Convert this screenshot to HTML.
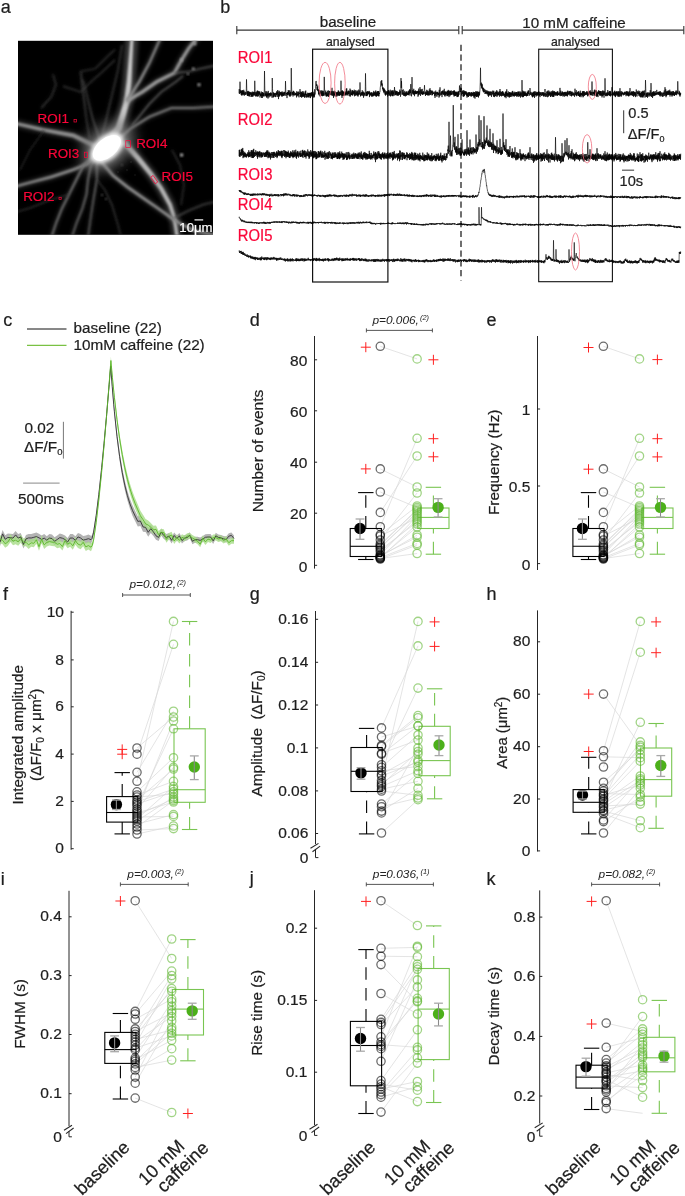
<!DOCTYPE html>
<html><head><meta charset="utf-8"><style>
html,body{margin:0;padding:0;background:#fff;overflow:hidden;}
svg{display:block;font-family:"Liberation Sans", sans-serif;will-change:transform;}
</style></head><body>
<svg width="685" height="1196" viewBox="0 0 685 1196">
<rect width="685" height="1196" fill="#fff"/>
<text x="0.80" y="13.20" font-size="18" text-anchor="start" fill="#1e1e1e" stroke="#1e1e1e" stroke-width="0.22" >a</text>
<text x="220.20" y="13.30" font-size="18" text-anchor="start" fill="#1e1e1e" stroke="#1e1e1e" stroke-width="0.22" >b</text>
<text x="3.20" y="326.00" font-size="18" text-anchor="start" fill="#1e1e1e" stroke="#1e1e1e" stroke-width="0.22" >c</text>
<text x="249.80" y="325.80" font-size="18" text-anchor="start" fill="#1e1e1e" stroke="#1e1e1e" stroke-width="0.22" >d</text>
<text x="486.50" y="325.80" font-size="18" text-anchor="start" fill="#1e1e1e" stroke="#1e1e1e" stroke-width="0.22" >e</text>
<text x="3.00" y="600.00" font-size="18" text-anchor="start" fill="#1e1e1e" stroke="#1e1e1e" stroke-width="0.22" >f</text>
<text x="249.80" y="600.00" font-size="18" text-anchor="start" fill="#1e1e1e" stroke="#1e1e1e" stroke-width="0.22" >g</text>
<text x="486.50" y="600.40" font-size="18" text-anchor="start" fill="#1e1e1e" stroke="#1e1e1e" stroke-width="0.22" >h</text>
<text x="0.80" y="884.50" font-size="18" text-anchor="start" fill="#1e1e1e" stroke="#1e1e1e" stroke-width="0.22" >i</text>
<text x="249.80" y="884.00" font-size="18" text-anchor="start" fill="#1e1e1e" stroke="#1e1e1e" stroke-width="0.22" >j</text>
<text x="486.50" y="884.50" font-size="18" text-anchor="start" fill="#1e1e1e" stroke="#1e1e1e" stroke-width="0.22" >k</text>
<defs><filter id="bl1" x="-20%" y="-20%" width="140%" height="140%"><feGaussianBlur stdDeviation="0.9"/></filter><filter id="bl2" x="-50%" y="-50%" width="200%" height="200%"><feGaussianBlur stdDeviation="2.2"/></filter><filter id="bl4" x="-50%" y="-50%" width="200%" height="200%"><feGaussianBlur stdDeviation="6"/></filter><clipPath id="clipA"><rect x="18" y="40.8" width="195" height="194"/></clipPath></defs>
<rect x="18" y="40.8" width="195" height="194" fill="#000"/>
<g clip-path="url(#clipA)">
<path d="M112.0,136.0 L118.8,128.0 L123.2,113.9 L126.9,100.8 L129.1,81.8 L130.5,59.9 L132.0,38.0" fill="none" stroke="rgb(200,200,200)" stroke-width="12.60" stroke-linecap="round" stroke-linejoin="round" filter="url(#bl2)" opacity="0.3"/>
<path d="M114.7,138.3 L121.7,129.5 L126.1,114.8 L129.6,101.3 L131.5,82.0 L132.4,60.0 L133.5,38.1 L130.5,37.9 L128.6,59.8 L126.7,81.6 L124.2,100.3 L120.3,113.0 L115.9,126.5 L109.3,133.7Z" fill="rgb(200,200,200)" filter="url(#bl1)"/>
<path d="M126.9,100.8 L139.3,81.8 L149.5,62.8 L160.5,38.0" fill="none" stroke="rgb(135,135,135)" stroke-width="5.04" stroke-linecap="round" stroke-linejoin="round" filter="url(#bl2)" opacity="0.3"/>
<path d="M128.1,101.6 L140.4,82.5 L150.5,63.3 L161.4,38.4 L159.6,37.6 L148.5,62.3 L138.2,81.1 L125.7,100.0Z" fill="rgb(135,135,135)" filter="url(#bl1)"/>
<path d="M126.9,100.8 L142.2,92.0 L156.8,81.8 L174.3,73.0 L181.6,59.9 L188.9,48.2 L197.0,38.0" fill="none" stroke="rgb(150,150,150)" stroke-width="6.48" stroke-linecap="round" stroke-linejoin="round" filter="url(#bl2)" opacity="0.3"/>
<path d="M127.8,102.4 L143.1,93.5 L157.7,83.3 L175.4,74.2 L183.0,60.7 L190.2,49.1 L198.2,38.9 L195.8,37.1 L187.6,47.3 L180.2,59.1 L173.2,71.8 L155.9,80.3 L141.3,90.5 L126.0,99.2Z" fill="rgb(150,150,150)" filter="url(#bl1)"/>
<path d="M174.3,73.0 L188.9,71.6 L200.6,68.7 L215.0,65.7" fill="none" stroke="rgb(90,90,90)" stroke-width="2.70" stroke-linecap="round" stroke-linejoin="round" filter="url(#bl2)" opacity="0.3"/>
<path d="M174.4,73.7 L189.0,72.3 L200.7,69.3 L215.1,66.3 L214.9,65.1 L200.5,68.1 L188.8,70.9 L174.2,72.3Z" fill="rgb(90,90,90)" filter="url(#bl1)"/>
<path d="M118.0,140.0 L130.5,128.5 L149.5,116.8 L171.4,108.0 L193.3,108.0 L215.0,106.6" fill="none" stroke="rgb(120,120,120)" stroke-width="4.68" stroke-linecap="round" stroke-linejoin="round" filter="url(#bl2)" opacity="0.3"/>
<path d="M118.9,141.0 L131.2,129.5 L150.0,117.8 L171.6,109.0 L193.3,109.0 L215.1,107.5 L214.9,105.7 L193.3,107.0 L171.2,107.0 L149.0,115.8 L129.8,127.5 L117.1,139.0Z" fill="rgb(120,120,120)" filter="url(#bl1)"/>
<path d="M132.0,125.6 L149.5,103.7 L161.2,92.0 L175.8,81.8 L183.0,76.0" fill="none" stroke="rgb(95,95,95)" stroke-width="2.70" stroke-linecap="round" stroke-linejoin="round" filter="url(#bl2)" opacity="0.3"/>
<path d="M132.6,126.1 L150.0,104.2 L161.6,92.5 L176.2,82.3 L183.4,76.5 L182.6,75.5 L175.4,81.3 L160.8,91.5 L149.0,103.2 L131.4,125.1Z" fill="rgb(95,95,95)" filter="url(#bl1)"/>
<path d="M118.0,146.0 L124.7,143.3 L137.8,157.9 L151.0,174.0 L161.2,188.6 L170.0,204.6 L174.3,217.8 L177.2,237.0" fill="none" stroke="rgb(178,178,178)" stroke-width="9.90" stroke-linecap="round" stroke-linejoin="round" filter="url(#bl2)" opacity="0.3"/>
<path d="M119.0,148.6 L123.3,145.6 L135.9,159.5 L149.2,175.4 L159.4,189.7 L168.2,205.4 L172.6,218.2 L175.6,237.2 L178.8,236.8 L176.0,217.4 L171.8,203.8 L163.0,187.5 L152.8,172.6 L139.7,156.3 L126.1,141.0 L117.0,143.4Z" fill="rgb(178,178,178)" filter="url(#bl1)"/>
<path d="M100.0,160.0 L113.0,175.4 L127.6,187.1 L142.2,197.3 L156.8,207.5 L171.4,217.8 L180.2,223.6 L194.8,230.9 L215.0,235.3" fill="none" stroke="rgb(140,140,140)" stroke-width="5.40" stroke-linecap="round" stroke-linejoin="round" filter="url(#bl2)" opacity="0.3"/>
<path d="M98.9,161.0 L112.0,176.4 L126.7,188.2 L141.4,198.4 L156.0,208.6 L170.6,218.9 L179.6,224.7 L194.4,232.1 L214.7,236.5 L215.3,234.1 L195.2,229.7 L180.8,222.5 L172.2,216.7 L157.6,206.4 L143.0,196.2 L128.5,186.0 L114.0,174.4 L101.1,159.0Z" fill="rgb(140,140,140)" filter="url(#bl1)"/>
<path d="M174.3,217.8 L188.9,210.5 L203.5,204.6 L215.0,201.7" fill="none" stroke="rgb(80,80,80)" stroke-width="2.34" stroke-linecap="round" stroke-linejoin="round" filter="url(#bl2)" opacity="0.3"/>
<path d="M174.6,218.4 L189.2,211.1 L203.7,205.1 L215.1,202.2 L214.9,201.2 L203.3,204.1 L188.6,209.9 L174.0,217.2Z" fill="rgb(80,80,80)" filter="url(#bl1)"/>
<path d="M95.0,156.0 L88.0,163.7 L73.4,169.6 L51.5,176.9 L29.6,182.7 L16.0,186.4" fill="none" stroke="rgb(135,135,135)" stroke-width="5.76" stroke-linecap="round" stroke-linejoin="round" filter="url(#bl2)" opacity="0.3"/>
<path d="M93.8,154.9 L87.2,162.4 L72.9,168.2 L51.1,175.6 L29.3,181.6 L15.7,185.3 L16.3,187.5 L29.9,183.8 L51.9,178.2 L73.9,171.0 L88.8,165.0 L96.2,157.1Z" fill="rgb(135,135,135)" filter="url(#bl1)"/>
<path d="M92.0,158.0 L83.6,165.2 L76.3,179.8 L69.0,194.4 L61.7,209.0 L55.9,223.6 L51.5,237.0" fill="none" stroke="rgb(115,115,115)" stroke-width="4.14" stroke-linecap="round" stroke-linejoin="round" filter="url(#bl2)" opacity="0.3"/>
<path d="M91.3,157.1 L82.7,164.6 L75.4,179.3 L68.1,194.0 L60.9,208.6 L55.1,223.3 L50.7,236.8 L52.3,237.2 L56.7,223.9 L62.5,209.4 L69.9,194.8 L77.2,180.3 L84.5,165.8 L92.7,158.9Z" fill="rgb(115,115,115)" filter="url(#bl1)"/>
<path d="M95.0,160.0 L90.9,165.2 L88.0,179.8 L86.5,194.4 L82.2,209.0 L76.3,223.6 L71.9,237.0" fill="none" stroke="rgb(105,105,105)" stroke-width="3.60" stroke-linecap="round" stroke-linejoin="round" filter="url(#bl2)" opacity="0.3"/>
<path d="M94.2,159.4 L90.0,164.9 L87.1,179.7 L85.6,194.2 L81.4,208.7 L75.6,223.3 L71.2,236.8 L72.6,237.2 L77.0,223.9 L83.0,209.3 L87.4,194.6 L88.9,179.9 L91.8,165.5 L95.8,160.6Z" fill="rgb(105,105,105)" filter="url(#bl1)"/>
<path d="M99.0,160.0 L96.8,165.2 L96.8,179.8 L93.8,197.3 L90.9,216.3 L88.0,237.0" fill="none" stroke="rgb(100,100,100)" stroke-width="3.24" stroke-linecap="round" stroke-linejoin="round" filter="url(#bl2)" opacity="0.3"/>
<path d="M98.2,159.6 L95.9,165.1 L96.0,179.7 L93.0,197.2 L90.2,216.2 L87.3,236.9 L88.7,237.1 L91.6,216.4 L94.6,197.4 L97.6,179.9 L97.7,165.3 L99.8,160.4Z" fill="rgb(100,100,100)" filter="url(#bl1)"/>
<path d="M95.0,146.0 L73.4,135.5 L44.2,130.0 L16.0,123.5" fill="none" stroke="rgb(140,140,140)" stroke-width="7.56" stroke-linecap="round" stroke-linejoin="round" filter="url(#bl2)" opacity="0.3"/>
<path d="M95.9,144.1 L74.0,133.6 L44.6,128.3 L16.4,121.9 L15.6,125.1 L43.8,131.7 L72.8,137.4 L94.1,147.9Z" fill="rgb(140,140,140)" filter="url(#bl1)"/>
<path d="M80.7,71.6 L83.6,96.4 L86.5,119.8 L89.5,138.0" fill="none" stroke="rgb(70,70,70)" stroke-width="2.16" stroke-linecap="round" stroke-linejoin="round" filter="url(#bl2)" opacity="0.3"/>
<path d="M80.1,71.7 L83.0,96.5 L86.0,119.9 L89.0,138.1 L90.0,137.9 L87.0,119.7 L84.2,96.3 L81.3,71.5Z" fill="rgb(70,70,70)" filter="url(#bl1)"/>
<path d="M63.2,86.2 L80.7,92.0 L90.9,81.8 L102.6,71.6 L115.0,59.9" fill="none" stroke="rgb(65,65,65)" stroke-width="1.80" stroke-linecap="round" stroke-linejoin="round" filter="url(#bl2)" opacity="0.3"/>
<path d="M63.0,86.7 L80.8,92.5 L91.2,82.2 L102.9,72.0 L115.3,60.3 L114.7,59.5 L102.3,71.2 L90.6,81.4 L80.6,91.5 L63.4,85.7Z" fill="rgb(65,65,65)" filter="url(#bl1)"/>
<path d="M80.7,71.6 L95.3,68.7 L108.4,55.5 L115.0,49.7" fill="none" stroke="rgb(60,60,60)" stroke-width="1.80" stroke-linecap="round" stroke-linejoin="round" filter="url(#bl2)" opacity="0.3"/>
<path d="M80.8,72.1 L95.6,69.1 L108.7,55.9 L115.3,50.1 L114.7,49.3 L108.1,55.1 L95.0,68.3 L80.6,71.1Z" fill="rgb(60,60,60)" filter="url(#bl1)"/>
<path d="M41.3,108.0 L51.5,96.4 L55.9,84.7 L53.0,74.5" fill="none" stroke="rgb(50,50,50)" stroke-width="2.88" stroke-linecap="round" stroke-linejoin="round" filter="url(#bl2)" opacity="0.3"/>
<path d="M41.9,108.5 L52.1,96.8 L56.6,84.7 L53.6,74.3 L52.4,74.7 L55.2,84.7 L50.9,96.0 L40.7,107.5Z" fill="rgb(50,50,50)" filter="url(#bl1)"/>
<path d="M100.0,140.0 L93.0,120.0 L88.0,100.0 L83.0,80.0" fill="none" stroke="rgb(75,75,75)" stroke-width="2.34" stroke-linecap="round" stroke-linejoin="round" filter="url(#bl2)" opacity="0.3"/>
<path d="M100.6,139.8 L93.6,119.8 L88.5,99.9 L83.5,79.9 L82.5,80.1 L87.5,100.1 L92.4,120.2 L99.4,140.2Z" fill="rgb(75,75,75)" filter="url(#bl1)"/>
<path d="M101.0,141.0 L106.0,120.0 L112.0,95.0 L118.0,70.0 L122.0,45.0" fill="none" stroke="rgb(70,70,70)" stroke-width="2.16" stroke-linecap="round" stroke-linejoin="round" filter="url(#bl2)" opacity="0.3"/>
<path d="M101.6,141.1 L106.6,120.1 L112.5,95.1 L118.5,70.1 L122.5,45.1 L121.5,44.9 L117.5,69.9 L111.5,94.9 L105.4,119.9 L100.4,140.9Z" fill="rgb(70,70,70)" filter="url(#bl1)"/>
<path d="M96.8,179.8 L105.0,190.0 L112.0,205.0 L118.0,225.0 L121.0,237.0" fill="none" stroke="rgb(60,60,60)" stroke-width="1.80" stroke-linecap="round" stroke-linejoin="round" filter="url(#bl2)" opacity="0.3"/>
<path d="M96.4,180.1 L104.6,190.3 L111.5,205.2 L117.5,225.1 L120.5,237.1 L121.5,236.9 L118.5,224.9 L112.5,204.8 L105.4,189.7 L97.2,179.5Z" fill="rgb(60,60,60)" filter="url(#bl1)"/>
<path d="M172.0,150.0 L180.0,165.0 L184.0,185.0 L181.0,205.0" fill="none" stroke="rgb(55,55,55)" stroke-width="1.80" stroke-linecap="round" stroke-linejoin="round" filter="url(#bl2)" opacity="0.3"/>
<path d="M171.6,150.2 L179.5,165.2 L183.5,185.0 L180.5,204.9 L181.5,205.1 L184.5,185.0 L180.5,164.8 L172.4,149.8Z" fill="rgb(55,55,55)" filter="url(#bl1)"/>
<path d="M44.2,130.0 L30.0,150.0 L20.0,170.0" fill="none" stroke="rgb(45,45,45)" stroke-width="1.62" stroke-linecap="round" stroke-linejoin="round" filter="url(#bl2)" opacity="0.3"/>
<path d="M43.8,129.7 L29.6,149.8 L19.6,169.8 L20.4,170.2 L30.4,150.2 L44.6,130.3Z" fill="rgb(45,45,45)" filter="url(#bl1)"/>
<path d="M69.0,194.4 L50.0,200.0 L30.0,208.0 L16.0,212.0" fill="none" stroke="rgb(55,55,55)" stroke-width="1.80" stroke-linecap="round" stroke-linejoin="round" filter="url(#bl2)" opacity="0.3"/>
<path d="M68.9,193.9 L49.8,199.5 L29.8,207.5 L15.9,211.5 L16.1,212.5 L30.2,208.5 L50.2,200.5 L69.1,194.9Z" fill="rgb(55,55,55)" filter="url(#bl1)"/>
<ellipse cx="108" cy="146" rx="34" ry="24" fill="#666" opacity="0.45" filter="url(#bl4)" transform="rotate(-40 108 146)"/>
<ellipse cx="108" cy="147" rx="24" ry="15" fill="#aaa" opacity="0.7" filter="url(#bl4)" transform="rotate(-40 108 147)"/>
<ellipse cx="106.8" cy="147.9" rx="19" ry="11.5" fill="#fff" filter="url(#bl2)" transform="rotate(-40 106.8 147.9)"/>
<ellipse cx="106.8" cy="147.9" rx="16.5" ry="9.5" fill="#fff" transform="rotate(-40 106.8 147.9)"/>
<circle cx="181.6" cy="155" r="1.8" fill="rgb(170,170,170)" filter="url(#bl1)"/>
<circle cx="181.6" cy="59.9" r="1.6" fill="rgb(150,150,150)" filter="url(#bl1)"/>
<circle cx="194.8" cy="43.8" r="1.8" fill="rgb(150,150,150)" filter="url(#bl1)"/>
<circle cx="193.3" cy="68.7" r="1.5" fill="rgb(140,140,140)" filter="url(#bl1)"/>
<circle cx="199" cy="84.7" r="1.8" fill="rgb(140,140,140)" filter="url(#bl1)"/>
<circle cx="188" cy="74" r="1.2" fill="rgb(120,120,120)" filter="url(#bl1)"/>
<circle cx="122" cy="165" r="0.8" fill="rgb(120,120,120)" filter="url(#bl1)"/>
<circle cx="127" cy="170" r="0.7" fill="rgb(110,110,110)" filter="url(#bl1)"/>
<circle cx="131" cy="162" r="0.7" fill="rgb(110,110,110)" filter="url(#bl1)"/>
<circle cx="118" cy="172" r="0.7" fill="rgb(100,100,100)" filter="url(#bl1)"/>
<circle cx="135" cy="175" r="0.7" fill="rgb(90,90,90)" filter="url(#bl1)"/>
<circle cx="102" cy="195" r="0.9" fill="rgb(110,110,110)" filter="url(#bl1)"/>
<circle cx="106" cy="199" r="0.9" fill="rgb(100,100,100)" filter="url(#bl1)"/>
<circle cx="118" cy="180" r="0.6" fill="rgb(100,100,100)" filter="url(#bl1)"/>
</g>
<text x="37.60" y="122.80" font-size="13.4" text-anchor="start" fill="#fa0538" stroke="#fa0538" stroke-width="0.22" >ROI1</text>
<text x="48.00" y="158.30" font-size="13.4" text-anchor="start" fill="#fa0538" stroke="#fa0538" stroke-width="0.22" >ROI3</text>
<text x="23.20" y="200.70" font-size="13.4" text-anchor="start" fill="#fa0538" stroke="#fa0538" stroke-width="0.22" >ROI2</text>
<text x="136.20" y="147.50" font-size="13.4" text-anchor="start" fill="#fa0538" stroke="#fa0538" stroke-width="0.22" >ROI4</text>
<text x="161.60" y="181.30" font-size="13.4" text-anchor="start" fill="#fa0538" stroke="#fa0538" stroke-width="0.22" >ROI5</text>
<rect x="74" y="119.6" width="2.4" height="2.4" fill="none" stroke="#fa0538" stroke-width="0.7"/>
<rect x="84.6" y="152.2" width="2.8" height="5.2" fill="none" stroke="#fa0538" stroke-width="0.7"/>
<rect x="59" y="197.3" width="2.2" height="2.2" fill="none" stroke="#fa0538" stroke-width="0.7"/>
<rect x="125.8" y="140.7" width="4.7" height="6.8" fill="none" stroke="#fa0538" stroke-width="0.7"/>
<rect x="-1.5" y="-4" width="3" height="8" fill="none" stroke="#fa0538" stroke-width="0.7" transform="translate(154.2 179.6) rotate(-35)"/>
<line x1="194.50" y1="219.90" x2="203.20" y2="219.90" stroke="#fff" stroke-width="1.2" />
<text x="179.30" y="232.20" font-size="13.2" text-anchor="start" fill="#fff" stroke="#fff" stroke-width="0.22" >10μm</text>
<line x1="236.80" y1="30.10" x2="458.80" y2="30.10" stroke="#333" stroke-width="1.1" />
<line x1="236.80" y1="25.90" x2="236.80" y2="34.30" stroke="#333" stroke-width="1.1" />
<line x1="458.80" y1="25.90" x2="458.80" y2="34.30" stroke="#333" stroke-width="1.1" />
<line x1="462.20" y1="30.10" x2="683.80" y2="30.10" stroke="#333" stroke-width="1.1" />
<line x1="462.20" y1="25.90" x2="462.20" y2="34.30" stroke="#333" stroke-width="1.1" />
<line x1="683.80" y1="25.90" x2="683.80" y2="34.30" stroke="#333" stroke-width="1.1" />
<text x="348.00" y="27.30" font-size="15.2" text-anchor="middle" fill="#1e1e1e" stroke="#1e1e1e" stroke-width="0.22" >baseline</text>
<text x="574.00" y="27.50" font-size="15.2" text-anchor="middle" fill="#1e1e1e" stroke="#1e1e1e" stroke-width="0.22" >10 mM caffeine</text>
<text x="350.40" y="45.60" font-size="12.2" text-anchor="middle" fill="#1e1e1e" stroke="#1e1e1e" stroke-width="0.22" >analysed</text>
<text x="575.50" y="45.60" font-size="12.2" text-anchor="middle" fill="#1e1e1e" stroke="#1e1e1e" stroke-width="0.22" >analysed</text>
<rect x="312.6" y="49.2" width="75.3" height="232.8" fill="none" stroke="#111" stroke-width="1.2"/>
<rect x="538.7" y="49.2" width="73.7" height="232.5" fill="none" stroke="#111" stroke-width="1.1"/>
<line x1="461.00" y1="44.70" x2="461.00" y2="280.60" stroke="#222" stroke-width="1.3" stroke-dasharray="6.2 3.6"/>
<text x="237.80" y="62.70" font-size="15.8" text-anchor="start" fill="#fa0538" stroke="#fa0538" stroke-width="0.22" textLength="34.6" lengthAdjust="spacingAndGlyphs">ROI1</text>
<text x="237.80" y="124.80" font-size="15.8" text-anchor="start" fill="#fa0538" stroke="#fa0538" stroke-width="0.22" textLength="34.6" lengthAdjust="spacingAndGlyphs">ROI2</text>
<text x="237.80" y="179.50" font-size="15.8" text-anchor="start" fill="#fa0538" stroke="#fa0538" stroke-width="0.22" textLength="34.6" lengthAdjust="spacingAndGlyphs">ROI3</text>
<text x="237.80" y="210.00" font-size="15.8" text-anchor="start" fill="#fa0538" stroke="#fa0538" stroke-width="0.22" textLength="34.6" lengthAdjust="spacingAndGlyphs">ROI4</text>
<text x="237.80" y="241.00" font-size="15.8" text-anchor="start" fill="#fa0538" stroke="#fa0538" stroke-width="0.22" textLength="34.6" lengthAdjust="spacingAndGlyphs">ROI5</text>
<path d="M239.00,93.40l.25 -4.3 .25 4.8 .25 -3.7 .25 -8.5 .25 6.5 .25 4.8 .25 -2.9 .25 4.4 .25 -3.5 .25 4.4 .25 -4.8 .25 4.6 .25 -4.7 .25 3.8 .25 -4.2 .25 5.3 .25 -4.4 .25 3.3 .25 -4.5 .25 4.9 .25 -1.9 .25 2.8 .25 -4.2 .25 1.8 .25 -.4 .25 2.2 .25 -2.9 .25 1.9 .25 -2.4 .25 -12.2 .25 9.1 .25 6.7 .25 -3.5 .25 4.3 .25 -4.8 .25 4.4 .25 -4.7 .25 4.8 .25 -3.5 .25 4.2 .25 -4.6 .25 4.5 .25 -4.5 .25 2.9 .25 -2.4 .25 2.2 .25 -2.1 .25 4.6 .25 -4.3 .25 3.7 .25 -3.9 .25 3.9 .25 -4.8 .25 4.9 .25 -3.9 .25 4 .25 -4.8 .25 3.2 .25 -2.8 .25 3.7 .25 -4 .25 3.2 .25 -14.3 .25 8.5 .25 2.9 .25 4 .25 -4.1 .25 4.4 .25 -3.9 .25 3.3 .25 -4.3 .25 4.7 .25 -5.6 .25 5.8 .25 -5.8 .25 3.3 .25 -2.7 .25 5 .25 -4.7 .25 3.6 .25 -3.9 .25 3 .25 -2.5 .25 5.7 .25 -4 .25 2.4 .25 -2.2 .25 2.5 .25 -4.7 .25 6.4 .25 -4.4 .25 2.5 .25 -3.7 .25 5.6 .25 -5.9 .25 3.9 .25 -3 .25 3.5 .25 -3.1 .25 2.9 .25 -3.9 .25 -21.3 .25 14.9 .25 10.5 .25 -2.9 .25 1.9 .25 -4.1 .25 4.6 .25 -2.2 .25 3.7 .25 -6.1 .25 6.1 .25 -5 .25 3.4 .25 -2.1 .25 4.8 .25 -7.6 .25 4.6 .25 -2 .25 3.9 .25 -4 .25 1.9 .25 -2.2 .25 3.5 .25 -3.8 .25 2.7 .25 -3 .25 3.5 .25 -3.1 .25 1.6 .25 -.4 .25 3.6 .25 -19.7 .25 10.4 .25 3.9 .25 5.2 .25 -5.3 .25 5 .25 -4.2 .25 3.7 .25 -3.8 .25 2.4 .25 -1.7 .25 3.1 .25 -3.5 .25 3.9 .25 -3.8 .25 .8 .25 -1.6 .25 2.6 .25 -3.9 .25 5.6 .25 -4.6 .25 2.2 .25 -4.4 .25 6.8 .25 -5.3 .25 7.6 .25 -5.3 .25 2 .25 -5 .25 5.7 .25 -4.1 .25 3.1 .25 -3.6 .25 2.6 .25 -2.1 .25 2.8 .25 -2.9 .25 3.6 .25 -4.3 .25 5.3 .25 -4 .25 2.8 .25 -4.1 .25 4.2 .25 -2.6 .25 2.4 .25 -3.3 .25 3.5 .25 -3.7 .25 2.4 .25 -2.7 .25 3.7 .25 -2.6 .25 -11.8 .25 8.4 .25 6.3 .25 -2.9 .25 1.1 .25 -.8 .25 4.9 .25 -5.9 .25 2.8 .25 -3 .25 2.6 .25 -4.6 .25 4.4 .25 -3.3 .25 4.4 .25 -2.5 .25 2.8 .25 -5.6 .25 6.7 .25 -5.2 .25 3.8 .25 -3.4 .25 3.7 .25 -27.7 .25 16.9 .25 7.1 .25 2.6 .25 -2.6 .25 2.5 .25 -2.7 .25 4.6 .25 -5.7 .25 4.4 .25 -4.2 .25 4 .25 -2.9 .25 3.2 .25 -.8 .25 .9 .25 -2.5 .25 2.1 .25 -2.1 .25 1.8 .25 -1.3 .25 4 .25 -6.1 .25 4.6 .25 -4.1 .25 3.4 .25 -1.2 .25 2.4 .25 -4.1 .25 2.9 .25 -3.7 .25 5.9 .25 -4.6 .25 1.2 .25 -2 .25 -2.9 .25 3.2 .25 4.7 .25 -5.4 .25 4.4 .25 -3.7 .25 5.3 .25 -5.8 .25 5.4 .25 -4.5 .25 3.8 .25 -5.4 .25 5.5 .25 -3.4 .25 3.3 .25 -4.9 .25 4.8 .25 -2.8 .25 4 .25 -3.9 .25 3.8 .25 -6.1 .25 3.6 .25 -4.4 .25 6.3 .25 -2.8 .25 3.5 .25 -3.9 .25 1.1 .25 -.3 .25 2.8 .25 -4.6 .25 3.9 .25 -3.3 .25 3.6 .25 -3.8 .25 4.7 .25 -4.9 .25 3.5 .25 -3.5 .25 2.4 .25 -2.3 .25 5.1 .25 -5.3 .25 3.8 .25 -4.2 .25 3.8 .25 -3.8 .25 2.8 .25 -2.3 .25 1.8 .25 -3.2 .25 4.8 .25 -2.3 .25 3.5 .25 -5.2 .25 3.7 .25 -2.4 .25 3.7 .25 -8 .25 5.2 .25 -5.3 .25 -.7 .25 -6.8 .25 -.7 .25 .1 .25 5 .25 -2 .25 6 .25 -3.2 .25 3.6 .25 -5 .25 5.6 .25 -1.9 .25 4.9 .25 -3.8 .25 4.9 .25 -5.2 .25 3.8 .25 -3.1 .25 5.7 .25 -5.9 .25 3 .25 -1.9 .25 2.4 .25 -2.4 .25 4 .25 -5.3 .25 5.6 .25 -5.1 .25 5.4 .25 -4.7 .25 4.3 .25 -5 .25 4.7 .25 -2.7 .25 2.9 .25 -18.8 .25 11.1 .25 3.8 .25 3.5 .25 -2.7 .25 1.6 .25 -3.6 .25 5.7 .25 -3.7 .25 3.9 .25 -4.3 .25 3.9 .25 -2.4 .25 2.2 .25 -5 .25 5.6 .25 -6.1 .25 6.4 .25 -3.4 .25 .8 .25 -2.9 .25 4.2 .25 -4.6 .25 4.2 .25 -3.9 .25 3.2 .25 -3.4 .25 3.7 .25 -3.4 .25 4.1 .25 -3.8 .25 -3.8 .25 3.9 .25 4.1 .25 -4.7 .25 3.9 .25 -3.7 .25 6.6 .25 -5.9 .25 4.4 .25 -5.7 .25 4.6 .25 -2.8 .25 2.9 .25 -3.9 .25 4.9 .25 -3.9 .25 1.6 .25 -2 .25 4.4 .25 -3.5 .25 3.4 .25 -4.5 .25 3.5 .25 -3.3 .25 3.2 .25 -4.9 .25 5.2 .25 -4.7 .25 4.5 .25 -3 .25 3.5 .25 -3.9 .25 2.9 .25 -3.2 .25 3.5 .25 -4.5 .25 -10 .25 8.5 .25 6.3 .25 -4.6 .25 7 .25 -7.7 .25 5.7 .25 -4.8 .25 4 .25 -3.7 .25 4.5 .25 -3.8 .25 2.3 .25 -2.5 .25 3.6 .25 -3.4 .25 2 .25 -2.7 .25 3.8 .25 -2.3 .25 2.7 .25 -6.9 .25 5.7 .25 -6.1 .25 6.6 .25 -3.6 .25 3.2 .25 -2.3 .25 3.5 .25 -5 .25 3.4 .25 -3.3 .25 3.1 .25 -2.7 .25 5.1 .25 -3.6 .25 -4.1 .25 3.2 .25 4.7 .25 -6.7 .25 5 .25 -2 .25 2.3 .25 -3.7 .25 3.7 .25 -5 .25 5.4 .25 -5 .25 4.7 .25 -4.1 .25 2.7 .25 -2.2 .25 2.1 .25 -4 .25 6.6 .25 -5.4 .25 4.3 .25 -2.5 .25 3 .25 -5.6 .25 3.5 .25 -2.3 .25 3.8 .25 -2.6 .25 3 .25 -5 .25 5 .25 -4.1 .25 5.2 .25 -3.6 .25 2.3 .25 -5.7 .25 4.6 .25 -3.6 .25 4 .25 -1.7 .25 -10.5 .25 7.2 .25 6.8 .25 -3.2 .25 2.8 .25 -3.7 .25 2.6 .25 -2.5 .25 2.8 .25 -4.9 .25 5.3 .25 -3.6 .25 2.2 .25 -2.7 .25 6.2 .25 -5.1 .25 3.6 .25 -3.6 .25 1.9 .25 -1.1 .25 2.1 .25 -3.8 .25 -18.3 .25 13 .25 9.7 .25 -4.2 .25 4 .25 -3.8 .25 4 .25 -5.1 .25 4.3 .25 -3.4 .25 2.8 .25 -3.4 .25 2.7 .25 -1.9 .25 1.8 .25 -3 .25 6.2 .25 -5.2 .25 4 .25 -2.7 .25 1.9 .25 -2.4 .25 2 .25 -2.2 .25 4 .25 -4.2 .25 4 .25 -2.1 .25 2.1 .25 -3.5 .25 3.6 .25 -3.8 .25 3.2 .25 -4.9 .25 4.3 .25 -3 .25 3.4 .25 -3 .25 2.5 .25 -3.5 .25 4.7 .25 -5.8 .25 5 .25 -2.5 .25 3.7 .25 -4.7 .25 4.1 .25 -5 .25 4.3 .25 -3.9 .25 4.1 .25 -4.5 .25 5.1 .25 -5.2 .25 5.3 .25 -3.4 .25 1.1 .25 -1.8 .25 -.2 .25 -4.4 .25 -1.6 .25 -4.3 .25 -.1 .25 -.8 .25 4.4 .25 -5 .25 6.2 .25 -2.9 .25 5.4 .25 -1.5 .25 3.1 .25 -2.9 .25 4.2 .25 -3 .25 4.4 .25 -4.7 .25 3.2 .25 -2 .25 4.9 .25 -4.1 .25 5.1 .25 -3.2 .25 2.4 .25 -3.7 .25 3.3 .25 -2.2 .25 .5 .25 -1.3 .25 5.1 .25 -5 .25 3.2 .25 -4.5 .25 3.8 .25 -3.9 .25 5.9 .25 -3.7 .25 2.9 .25 -4 .25 1.5 .25 -3 .25 6.7 .25 -3.8 .25 3.5 .25 -4.9 .25 3.2 .25 -4 .25 5 .25 -4.6 .25 5.3 .25 -5.8 .25 5.9 .25 -4.1 .25 2.2 .25 -3.8 .25 5.1 .25 -3.4 .25 -5.1 .25 3.9 .25 4.3 .25 -4.8 .25 4.2 .25 -3.1 .25 3.4 .25 -4.1 .25 3.5 .25 -3.2 .25 4.5 .25 -4.3 .25 3.9 .25 -2.8 .25 3 .25 -3.1 .25 3.1 .25 -3.5 .25 2.1 .25 -2.3 .25 3.1 .25 -5.2 .25 3.9 .25 -2.4 .25 5.5 .25 -3.4 .25 -15.2 .25 9.8 .25 -6.8 .25 7.8 .25 5.8 .25 -4.7 .25 4.5 .25 -1.6 .25 .4 .25 -3.9 .25 6.1 .25 -3.1 .25 3.2 .25 -2.4 .25 2.9 .25 -5.3 .25 4.1 .25 -2.6 .25 4.1 .25 -3.6 .25 2.8 .25 -3.9 .25 3.9 .25 -4.2 .25 3 .25 -1.7 .25 2.4 .25 -2.4 .25 2 .25 -3.8 .25 4.3 .25 -3.7 .25 3.1 .25 -4.6 .25 3.5 .25 -4.4 .25 6.5 .25 -5.5 .25 3.1 .25 -9.1 .25 5.9 .25 .6 .25 5.7 .25 -6.1 .25 -13.1 .25 10.4 .25 5.9 .25 -3.3 .25 4.3 .25 -3.9 .25 3.7 .25 -5.4 .25 6 .25 -3.7 .25 5.1 .25 -4.9 .25 2.8 .25 -3.7 .25 3.4 .25 -3 .25 3.4 .25 -3 .25 2.8 .25 -2.3 .25 1.5 .25 -2.2 .25 2.3 .25 -2 .25 5.4 .25 -6.1 .25 4.8 .25 -6.8 .25 4.9 .25 -2.7 .25 3.8 .25 -4.4 .25 -3.1 .25 3.9 .25 4.9 .25 -6.4 .25 3.9 .25 -4 .25 4.8 .25 -2.4 .25 2.4 .25 -5.3 .25 6 .25 -2.5 .25 1.9 .25 -3.3 .25 3.3 .25 -2.3 .25 2 .25 -4.3 .25 -4.5 .25 5.2 .25 3.9 .25 -1.9 .25 3.6 .25 -4.5 .25 3.1 .25 -2.2 .25 2.5 .25 -5.1 .25 4.8 .25 -4.1 .25 4.9 .25 -4.1 .25 3.6 .25 -2.4 .25 3 .25 -4.4 .25 3.3 .25 -4.9 .25 5.8 .25 -4.5 .25 -2.6 .25 3.2 .25 3.4 .25 -4.8 .25 4.6 .25 -3.8 .25 2.2 .25 -1.5 .25 3.9 .25 -4.8 .25 4.4 .25 -3.5 .25 1.4 .25 .1 .25 1 .25 -1.7 .25 1.7 .25 -2.5 .25 4.4 .25 -2.4 .25 4.4 .25 -5.7 .25 2.4 .25 -4 .25 5.7 .25 -4.2 .25 1.6 .25 -1 .25 4 .25 -4.6 .25 2.4 .25 -2.7 .25 3.3 .25 -2 .25 1.7 .25 -2.1 .25 4.9 .25 -7.8 .25 6.6 .25 -5 .25 -4.1 .25 3.9 .25 4.2 .25 -2.2 .25 .5 .25 -1.9 .25 3 .25 -3.5 .25 5.8 .25 -6.1 .25 2.4 .25 -2.8 .25 3.9 .25 -4.1 .25 4.2 .25 -2.1 .25 2 .25 -5.7 .25 6.8 .25 -4.2 .25 5.2 .25 -5 .25 3.6 .25 -3.4 .25 3.5 .25 -3.6 .25 2.2 .25 -1.6 .25 3.9 .25 -5.4 .25 5.1 .25 -4.9 .25 4 .25 -5.1 .25 5.6 .25 -4.8 .25 6.4 .25 -5.4 .25 2.8 .25 -3.8 .25 5.5 .25 -5 .25 3.8 .25 -4.1 .25 3.6 .25 -4 .25 4.2 .25 -2 .25 2.1 .25 -2 .25 .3 .25 -2.1 .25 3.4 .25 -3.4 .25 3.7 .25 -4 .25 5.8 .25 -6.3 .25 5.9 .25 -5.1 .25 3.8 .25 -2.7 .25 3.9 .25 -4.2 .25 4.2 .25 -3.8 .25 2.4 .25 -2.9 .25 5.4 .25 -4 .25 3.8 .25 -5.2 .25 4.6 .25 -4.4 .25 4.6 .25 -5.5 .25 3.8 .25 -3.8 .25 -5.5 .25 5.2 .25 1.1 .25 -1.3 .25 1.7 .25 -4.6 .25 6.4 .25 -5.8 .25 7.2 .25 -3.6 .25 -.7 .25 .1 .25 2.8 .25 -3.5 .25 5.9 .25 -4.6 .25 5 .25 -6.6 .25 5.4 .25 -4.7 .25 5.3 .25 -4.8 .25 3.2 .25 -2.5 .25 1.8 .25 -2.9 .25 3.9 .25 -3.2 .25 4 .25 -3.3 .25 5.2 .25 -3.9 .25 2.6 .25 -3.5 .25 3.7 .25 -4.2 .25 4.7 .25 -4.4 .25 1.8 .25 -2 .25 3.5 .25 -3.8 .25 2.9 .25 -1.2 .25 2.5 .25 -3.6 .25 2.6 .25 -2.7 .25 3.9 .25 -4.5 .25 4.1 .25 -3 .25 2.6 .25 -2.8 .25 1.8 .25 -2.9 .25 4.6 .25 -3.9 .25 5.3 .25 -5.4 .25 4.1 .25 -4.5 .25 6.6 .25 -5.1 .25 2.7 .25 -5 .25 4.7 .25 -3.7 .25 4.8 .25 -5.6 .25 5.5 .25 -4.6 .25 3.7 .25 -4.6 .25 5.4 .25 -4.6 .25 5.3 .25 -5.5 .25 3.3 .25 -3.6 .25 3.7 .25 -3 .25 -3.1 .25 -6.7 .25 -14.8 .25 16.9 .25 .9 .25 -3 .25 5.1 .25 -4.1 .25 5.1 .25 -4.3 .25 5 .25 -1.8 .25 3.7 .25 -3.5 .25 4.5 .25 -3.9 .25 3.4 .25 -.3 .25 .5 .25 -2.9 .25 4.9 .25 -4 .25 3.1 .25 -1.2 .25 2 .25 -2.5 .25 1.9 .25 -3.1 .25 4.1 .25 -2.4 .25 2.2 .25 -3.3 .25 4.9 .25 -4.6 .25 5.7 .25 -4.8 .25 3.4 .25 -3.3 .25 2.7 .25 -3.5 .25 4.3 .25 -3.7 .25 3.2 .25 -3.6 .25 1.5 .25 -.7 .25 4.6 .25 -5.3 .25 3.6 .25 -1.7 .25 .6 .25 -3.5 .25 3.4 .25 -2.3 .25 4.9 .25 -5.8 .25 5.6 .25 -3.3 .25 4 .25 -4.3 .25 .9 .25 -2 .25 4.3 .25 -3.8 .25 4.1 .25 -4.6 .25 2.5 .25 -4 .25 6.6 .25 -5.5 .25 4.2 .25 -2.8 .25 2 .25 -2.1 .25 2.7 .25 -3.1 .25 2.9 .25 -4 .25 5.6 .25 -5.2 .25 -2.5 .25 3.3 .25 3.4 .25 -4.4 .25 4.4 .25 -3.3 .25 4 .25 -4.3 .25 1.7 .25 -2.3 .25 4.1 .25 -4.6 .25 4.9 .25 -3.7 .25 3.3 .25 -2.5 .25 1.9 .25 -.9 .25 3.2 .25 -3.4 .25 2.2 .25 -3.9 .25 4.9 .25 -5.5 .25 6.7 .25 -6.6 .25 4.3 .25 -6.6 .25 7 .25 -3.4 .25 2.8 .25 -2.5 .25 3.8 .25 -5.6 .25 4.2 .25 -2.3 .25 4 .25 -5.1 .25 5.2 .25 -5.4 .25 3.6 .25 -3.1 .25 4.5 .25 -4.1 .25 2.3 .25 -2.7 .25 4.1 .25 -3.8 .25 2.3 .25 -3.8 .25 4.2 .25 -4.6 .25 5.7 .25 -2.7 .25 2 .25 -3.6 .25 3.6 .25 -2.9 .25 3.5 .25 -4.8 .25 3.4 .25 -2.1 .25 2.8 .25 -3.6 .25 3.3 .25 -3.5 .25 4.6 .25 -4.5 .25 3 .25 -1.5 .25 2.5 .25 -4.5 .25 5.2 .25 -4.8 .25 3.2 .25 -3.7 .25 5.3 .25 -5.3 .25 4.5 .25 -2 .25 1.5 .25 -2.8 .25 4.9 .25 -6.1 .25 3.8 .25 -2.7 .25 3.9 .25 -4.8 .25 -11.6 .25 9.1 .25 8 .25 -6.6 .25 6 .25 -4.6 .25 5.1 .25 -5.9 .25 4.4 .25 -4 .25 4.4 .25 -3.6 .25 3.3 .25 -4.2 .25 4.2 .25 -2.8 .25 2.7 .25 -2.5 .25 3.3 .25 -2.6 .25 2.2 .25 -4.5 .25 4.1 .25 -3.5 .25 3.7 .25 -5.4 .25 3.4 .25 -3.1 .25 2.9 .25 -.5 .25 2.5 .25 -3 .25 -4.5 .25 3.9 .25 2.8 .25 -3 .25 2.9 .25 -.1 .25 .7 .25 -2.8 .25 3.9 .25 -3.7 .25 4.6 .25 -4.3 .25 4 .25 -5.1 .25 4.1 .25 -3.9 .25 4.1 .25 -5.1 .25 6.8 .25 -5.9 .25 2.9 .25 -1.2 .25 1.4 .25 -3.8 .25 5.3 .25 -4.4 .25 3.1 .25 -2.7 .25 3.3 .25 -3.3 .25 2.3 .25 -2.9 .25 3.5 .25 -3.8 .25 3 .25 -3.3 .25 3.8 .25 -3.3 .25 3.7 .25 -2.2 .25 3.7 .25 -5.1 .25 3.1 .25 -2.3 .25 1.4 .25 -.4 .25 2.2 .25 -3.9 .25 2.6 .25 -2 .25 2.3 .25 -2.7 .25 3.7 .25 -4 .25 4.2 .25 -3.2 .25 3.7 .25 -3.6 .25 2.6 .25 -4.2 .25 -2.5 .25 3.3 .25 4.5 .25 -3.7 .25 2.3 .25 -1.6 .25 2.8 .25 -5 .25 1.7 .25 -1.7 .25 5.6 .25 -6.5 .25 4.4 .25 -2.6 .25 4.1 .25 -6.1 .25 5.1 .25 -3.1 .25 2.9 .25 -3.9 .25 2.9 .25 -2 .25 4.6 .25 -4.3 .25 3.9 .25 -5.4 .25 4.5 .25 -2.9 .25 1.7 .25 -3 .25 5.2 .25 -6.2 .25 6.3 .25 -4.8 .25 4.8 .25 -5.7 .25 5.4 .25 -5.2 .25 3.4 .25 -3.1 .25 3.7 .25 -3.2 .25 3.4 .25 -3.2 .25 1.8 .25 -1.1 .25 2.3 .25 -3.4 .25 3.7 .25 -3.9 .25 4 .25 -4.5 .25 4 .25 -2.5 .25 2.3 .25 -1.6 .25 1.2 .25 -2.2 .25 3.1 .25 -5.5 .25 -2.1 .25 3.9 .25 4.3 .25 -5.4 .25 4.1 .25 -2.4 .25 3.4 .25 -2.7 .25 2.6 .25 -4.4 .25 3.3 .25 -2.6 .25 4.6 .25 -4.3 .25 3.4 .25 -2.7 .25 1.5 .25 -2.6 .25 4.7 .25 -4.5 .25 2.6 .25 -2.2 .25 3.3 .25 -4 .25 4.4 .25 -4.2 .25 3.2 .25 -1.8 .25 2.6 .25 -4.5 .25 4.9 .25 -5.8 .25 3.8 .25 -2.8 .25 2.7 .25 -1.2 .25 2 .25 -4.1 .25 2.8 .25 -2.3 .25 4.2 .25 -4.8 .25 3 .25 -1.2 .25 3.3 .25 -4.5 .25 4.9 .25 -4.4 .25 3.3 .25 -3.6 .25 3.4 .25 -1.6 .25 2.2 .25 -2.2 .25 1.6 .25 -2.6 .25 2.9 .25 -2.1 .25 3.5 .25 -6.3 .25 -1.8 .25 3.2 .25 3 .25 -2.8 .25 3.4 .25 -5.3 .25 6 .25 -3.2 .25 2.2 .25 -2.8 .25 1.5 .25 -1.9 .25 3.8 .25 -4.6 .25 4.5 .25 -4.2 .25 4.5 .25 -2.1 .25 2.9 .25 -4.2 .25 3.9 .25 -5.8 .25 5 .25 -2.7 .25 4.2 .25 -4.2 .25 1.9 .25 -1.6 .25 2.4 .25 -4.1 .25 4 .25 -4.3 .25 6 .25 -6.1 .25 5.3 .25 -5.1 .25 3.3 .25 -3.4 .25 4.6 .25 -3.4 .25 2.7 .25 -2.1 .25 1.8 .25 -2.6 .25 2.6 .25 -2.9 .25 2.4 .25 -3.3 .25 3.5 .25 -1.6 .25 3.2 .25 -4.6 .25 4.6 .25 -3.8 .25 2.3 .25 -3.2 .25 3.4 .25 -3.3 .25 1.9 .25 -2.4 .25 3.4 .25 -4.2 .25 4.9 .25 -3.2 .25 3.1 .25 -3.3 .25 3.5 .25 -4.2 .25 -9.6 .25 7.8 .25 6.4 .25 -3.6 .25 1.6 .25 -1.9 .25 2.4 .25 -2.2 .25 3.9 .25 -5.7 .25 4.6 .25 -5.2 .25 6.4 .25 -5.2 .25 1.9 .25 -2.2 .25 4.9 .25 -5.3 .25 6.5 .25 -5.3 .25 5.2 .25 -3.9 .25 3.3 .25 -3.9 .25 5.1 .25 -5.8 .25 2.6 .25 -3.8 .25 3.8 .25 -2.7 .25 3.7 .25 -3.9 .25 5 .25 -4.9 .25 3.9 .25 -3.7 .25 4.5 .25 -4.5 .25 4.1 .25 -2.2 .25 4.2 .25 -6.4 .25 5.1 .25 -5.7 .25 3.9 .25 -1.9 .25 2.9 .25 -4.5 .25 6.9 .25 -6.5 .25 3.6 .25 -3.4 .25 -13.1 .25 9.8 .25 7.8 .25 -2.7 .25 3.1 .25 -3.8 .25 3.3 .25 -2.6 .25 1.7 .25 -2.3 .25 3.5 .25 -6.1 .25 5.1 .25 -3 .25 2.7 .25 -1.4 .25 2.1 .25 -4.5 .25 4.7 .25 -4.3 .25 4.1 .25 -4.6 .25 5.5 .25 -4.6 .25 4 .25 -1.8 .25 .6 .25 -2.1 .25 -5.3 .25 3.9 .25 4.6 .25 -2.6 .25 1.9 .25 -2.5 .25 2.4 .25 -2.4 .25 3.3 .25 -4.5 .25 4 .25 -4.6 .25 5.7 .25 -4.1 .25 4.8 .25 -5 .25 3.9 .25 -4.9 .25 3.4 .25 -2.5 .25 2.8 .25 -3.4 .25 4.2 .25 -3 .25 4.2 .25 -5.6 .25 5.3 .25 -4.7 .25 3.9 .25 -4.3 .25 5.3 .25 -6.6 .25 -1.9 .25 3.2 .25 4.9 .25 -5 .25 3.3 .25 -1.8 .25 3.7 .25 -5.3 .25 4 .25 -2.7 .25 1.5 .25 -1.9 .25 2.2 .25 -1.3 .25 2.3 .25 -1.9 .25 1.4 .25 -2.6 .25 2.2 .25 -2.7 .25 3 .25 -2.5 .25 1.6 .25 -1.4 .25 3.8 .25 -5.2 .25 3.9 .25 -2.8 .25 3.4 .25 -4.3 .25 4.1 .25 -3.1 .25 3.5 .25 -3.9 .25 4.5 .25 -3.4 .25 3.3 .25 -5 .25 4.2 .25 -3.8 .25 -3.5 .25 3.3 .25 3.6 .25 -2.2 .25 2.8 .25 -3.6 .25 2.9 .25 -3.6 .25 3.6 .25 -3.2 .25 4.2 .25 -4.2 .25 2.8 .25 -2.9 .25 5.1 .25 -5.6 .25 5.1 .25 -4 .25 3.1 .25 -3.2 .25 3.4 .25 -3.5 .25 5.1 .25 -4 .25 2.7 .25 -6.3 .25 3.4 .25 -.3 .25 3.9 .25 -5.6 .25 2.9 .25 -1.3 .25 1.2 .25 -1.8 .25 2.5 .25 -3.8 .25 5.4 .25 -3.4 .25 2.8 .25 -4.3 .25 5.7 .25 -3.8 .25 4.3 .25 -4 .25 2.3 .25 -3.9 .25 5.6 .25 -5.1 .25 4.3 .25 -5 .25 5.7 .25 -6.4 .25 6.8 .25 -5.4 .25 4.2 .25 -5.3 .25 4.4 .25 -5.1 .25 4.4 .25 -1.7 .25 4.5 .25 -5 .25 -12.5 .25 8.5 .25 8.2 .25 -3.3 .25 3.3 .25 -4 .25 3.5 .25 -3.8 .25 5.3 .25 -4.9 .25 3.4 .25 -3.9 .25 2.1 .25 -.5 .25 2.7 .25 -3.8 .25 2.6 .25 -2.9 .25 2.5 .25 -4.9 .25 6 .25 -3.2 .25 -9.9 .25 6.5 .25 7.3 .25 -4 .25 3.4 .25 -4.2 .25 5.9 .25 -5.6 .25 2.7 .25 -3.8 .25 4.9 .25 -4.5 .25 3.5 .25 -3.5 .25 4.2 .25 -2.9 .25 2 .25 -3.9 .25 4.2 .25 -2.4 .25 2.2 .25 -1.9 .25 1.1 .25 -4.4 .25 4.9 .25 -2.5 .25 1.4 .25 -1.2 .25 2.2 .25 -2.8 .25 2.9 .25 -2.9 .25 2.2 .25 -2.5 .25 3.8 .25 -3.6 .25 4.5 .25 -5.2 .25 4.1 .25 -2.6 .25 3.8 .25 -4.1 .25 1.9 .25 -.7 .25 2.5 .25 -2.1 .25 3 .25 -4.3 .25 1.5 .25 -1.4 .25 3.7 .25 -3.7 .25 1.5 .25 -3.7 .25 5.3 .25 -4.4 .25 -4.2 .25 3.9 .25 4.4 .25 -6.2 .25 7.9 .25 -5.8 .25 4.6 .25 -4.4 .25 3.6 .25 -3.5 .25 3.1 .25 -3.8 .25 2.6 .25 -3.3 .25 4.5 .25 -3.4 .25 3.5 .25 -4 .25 3.7 .25 -4.9 .25 6.8 .25 -3.8 .25 2.3 .25 -3.6 .25 2.4 .25 -2.2 .25 3.7 .25 -3.4 .25 4.7 .25 -3.9 .25 2.7 .25 -4.2 .25 3.8 .25 -3.9 .25 3.8 .25 -3.2 .25 4.2 .25 -2.4 .25 2.5 .25 -3.9 .25 2.4 .25 -2.3 .25 2.6 .25 -4.1 .25 2.6 .25 -.8 .25 2.7 .25 -4.6 .25 3.8 .25 -2.8 .25 1.8 .25 -12.1 .25 7.8 .25 2.3 .25 2.9 .25 -.8 .25 .4 .25 -3 .25 4.5 .25 -3.4 .25 4.6 .25 -3.5 .25 2.1 .25 -2.3" fill="none" stroke="#000" stroke-width="0.65" stroke-linejoin="bevel"/>
<path d="M239.00,156.23l.25 -6.3 .25 6.5 .25 -6.7 .25 7.3 .25 -3.8 .25 2.2 .25 -3.4 .25 2.9 .25 -5.4 .25 6.3 .25 -7 .25 4.5 .25 -3.6 .25 5.3 .25 -7.1 .25 10.2 .25 -7.2 .25 5.8 .25 -4.1 .25 4.9 .25 -4.5 .25 3.6 .25 -4.8 .25 4.4 .25 -2.8 .25 3.4 .25 -3.6 .25 4.1 .25 -2.5 .25 2.6 .25 -3.4 .25 2.3 .25 -2.4 .25 1.8 .25 -3.4 .25 3.9 .25 -3.6 .25 4.7 .25 -7.1 .25 6.8 .25 -4 .25 3.6 .25 -4.7 .25 4.6 .25 -4.8 .25 3.8 .25 -.8 .25 2.6 .25 -7.3 .25 5.9 .25 -5.5 .25 7.6 .25 -6.2 .25 6.2 .25 -7.7 .25 6.6 .25 -7.3 .25 8.4 .25 -9.2 .25 7.7 .25 -4.1 .25 4.4 .25 -4.6 .25 1.7 .25 -1.2 .25 3.3 .25 -5.8 .25 4.1 .25 -1 .25 1.8 .25 -3.3 .25 4.9 .25 -5.4 .25 7.4 .25 -6.6 .25 5.1 .25 -5.6 .25 3.6 .25 -3.1 .25 4.6 .25 -4.9 .25 4.5 .25 -5.4 .25 6.7 .25 -3.1 .25 1 .25 -3.2 .25 4.4 .25 -4.5 .25 5.3 .25 -4.6 .25 3 .25 -3.4 .25 4.6 .25 -2.5 .25 1.7 .25 -3 .25 1.4 .25 -2.4 .25 1.4 .25 -.7 .25 3.9 .25 -4.1 .25 4 .25 -3.9 .25 3.8 .25 -4.8 .25 3.8 .25 -3.9 .25 4.8 .25 -6.2 .25 6.7 .25 -5.5 .25 3.3 .25 -4.7 .25 8 .25 -6.5 .25 5 .25 -3.2 .25 4.3 .25 -6 .25 4.8 .25 -3.6 .25 4.4 .25 -4.1 .25 6.1 .25 -5.4 .25 3.5 .25 -5.4 .25 2.8 .25 -.7 .25 3.7 .25 -5.9 .25 3.5 .25 -1.8 .25 4 .25 -5.6 .25 5.3 .25 -5.5 .25 6 .25 -6.1 .25 4.1 .25 -3.3 .25 2.1 .25 -.9 .25 3.2 .25 -3.5 .25 2 .25 -3.3 .25 4.3 .25 -5.4 .25 7 .25 -5.8 .25 4.7 .25 -4.3 .25 2.9 .25 -5.6 .25 5.1 .25 -4.2 .25 5.1 .25 -3.4 .25 2.1 .25 -3.6 .25 5.1 .25 -4.8 .25 3.5 .25 -2.5 .25 3.5 .25 -5.2 .25 6.5 .25 -6.1 .25 7 .25 -7.3 .25 5.6 .25 -3.2 .25 2.7 .25 -1 .25 .4 .25 -5.3 .25 5.2 .25 -1 .25 2.8 .25 -6.8 .25 5.6 .25 -4.8 .25 5.5 .25 -5.1 .25 6.8 .25 -6.8 .25 5.1 .25 -4.6 .25 4.9 .25 -4.9 .25 4.9 .25 -4.8 .25 3.2 .25 -4.6 .25 6.6 .25 -4.6 .25 3 .25 -2.3 .25 4.6 .25 -4.3 .25 4.4 .25 -5.6 .25 4.1 .25 -5.4 .25 4.5 .25 -3.3 .25 4 .25 -3.8 .25 3.7 .25 -3 .25 3.7 .25 -6.6 .25 7.8 .25 -4.6 .25 3.4 .25 -5.1 .25 5.4 .25 -6.9 .25 6.3 .25 -4 .25 2.6 .25 -2.8 .25 3.8 .25 -6.5 .25 8 .25 -4 .25 5 .25 -6.3 .25 4.6 .25 -5.5 .25 4.4 .25 -5 .25 5.1 .25 -3.5 .25 5.1 .25 -3 .25 -.1 .25 -3.1 .25 3.9 .25 -2.1 .25 3.5 .25 -3.7 .25 3.9 .25 -6.2 .25 6.1 .25 -2 .25 1.2 .25 -2.8 .25 3.4 .25 -6.4 .25 6.4 .25 -6.8 .25 8.1 .25 -6 .25 3.3 .25 -4.2 .25 3.6 .25 -3.8 .25 6.3 .25 -6.8 .25 6.1 .25 -2.9 .25 3.4 .25 -5.8 .25 7.4 .25 -5.6 .25 2.8 .25 -4 .25 4.6 .25 -3.4 .25 2.9 .25 -6.4 .25 6.2 .25 -1.7 .25 2.7 .25 -5.2 .25 7.4 .25 -7.3 .25 6.7 .25 -6.1 .25 4.9 .25 -4.1 .25 1.6 .25 -4.5 .25 6.4 .25 -5 .25 4.9 .25 -3.9 .25 3.5 .25 -2.8 .25 4.2 .25 -4.6 .25 5.7 .25 -7.4 .25 6.6 .25 -6 .25 6.1 .25 -3.9 .25 2.8 .25 -5.7 .25 6.4 .25 -6 .25 5.8 .25 -3.7 .25 5.8 .25 -7.4 .25 7.2 .25 -6.4 .25 5.7 .25 -4.2 .25 3.4 .25 -3.4 .25 .2 .25 -3.3 .25 6.6 .25 -6.3 .25 5.6 .25 -4 .25 4.2 .25 -5 .25 5.2 .25 -6.1 .25 3.2 .25 -3.8 .25 5.6 .25 -3.7 .25 5.1 .25 -3.6 .25 3.6 .25 -6.3 .25 5.7 .25 -3.4 .25 4.3 .25 -2.9 .25 2.4 .25 -5.2 .25 4.8 .25 -2 .25 2 .25 -6.2 .25 8.9 .25 -6.9 .25 3.4 .25 -2.8 .25 5 .25 -4.2 .25 2.7 .25 -4.3 .25 6.4 .25 -3.4 .25 2.3 .25 -5.7 .25 6.8 .25 -5.9 .25 5.3 .25 -6.3 .25 3.4 .25 -4.5 .25 6.8 .25 -1.7 .25 -.1 .25 -2.5 .25 1.9 .25 -3.1 .25 6.3 .25 -4.4 .25 4.4 .25 -4.3 .25 3.9 .25 -5 .25 6 .25 -6.8 .25 5.5 .25 -1.9 .25 1.8 .25 -5.1 .25 5.2 .25 -3.4 .25 3 .25 -5.1 .25 4.6 .25 -4.7 .25 4.8 .25 -3.3 .25 3.7 .25 -3.7 .25 3.2 .25 -1.4 .25 3.2 .25 -6.2 .25 6.4 .25 -4.4 .25 4.1 .25 -6.5 .25 5.7 .25 -4.4 .25 4.9 .25 -5.6 .25 6.3 .25 -7.8 .25 7.2 .25 -5 .25 3.8 .25 -2.9 .25 3.6 .25 -3.7 .25 2.1 .25 -4.8 .25 5.5 .25 -3.9 .25 4.3 .25 -4.4 .25 6.8 .25 -6 .25 4.9 .25 -5.1 .25 5.7 .25 -5.8 .25 5 .25 -4.9 .25 3.2 .25 -1.5 .25 2.1 .25 -3.8 .25 3.6 .25 -5.1 .25 7.8 .25 -4.8 .25 4.3 .25 -3.2 .25 3.1 .25 -7.2 .25 6.1 .25 -3.6 .25 2.5 .25 -5.3 .25 6.3 .25 -3 .25 4.1 .25 -6 .25 5.5 .25 -2.9 .25 .3 .25 -.9 .25 3.2 .25 -3.1 .25 1.5 .25 -2.7 .25 4.7 .25 -5.3 .25 5.3 .25 -3.9 .25 1.7 .25 -2.2 .25 4.1 .25 -6 .25 5.7 .25 -4.5 .25 4.7 .25 -3.5 .25 2.4 .25 -4.1 .25 3.3 .25 -3.2 .25 4.9 .25 -4.5 .25 4.5 .25 -3.1 .25 3.1 .25 -4.2 .25 4.8 .25 -5.3 .25 5.1 .25 -6.1 .25 6 .25 -5 .25 3.1 .25 -2.1 .25 2.5 .25 -4.8 .25 6.9 .25 -6 .25 4 .25 -2.1 .25 2.8 .25 -6.5 .25 7.6 .25 -4.8 .25 4.1 .25 -2.8 .25 4 .25 -4.8 .25 4.7 .25 -6.2 .25 4.3 .25 -4.6 .25 3.8 .25 -4.8 .25 6 .25 -4 .25 4.6 .25 -6.1 .25 5.8 .25 -4.5 .25 6.1 .25 -6.7 .25 5.4 .25 -4.7 .25 4.7 .25 -4.7 .25 5.5 .25 -5.2 .25 4.7 .25 -4.7 .25 3.5 .25 -2.1 .25 3.5 .25 -8.2 .25 7.1 .25 -4.9 .25 5.6 .25 -3.3 .25 4.2 .25 -4.2 .25 2.4 .25 -4.8 .25 5.7 .25 -2.8 .25 3.7 .25 -4.1 .25 2.5 .25 -3.1 .25 3.2 .25 -4.1 .25 2.1 .25 -4.6 .25 7 .25 -4.5 .25 1.7 .25 -2.3 .25 6.3 .25 -7.4 .25 9.9 .25 -10.2 .25 6 .25 -4 .25 5.6 .25 -6.1 .25 5.2 .25 -3.1 .25 3.6 .25 -7.6 .25 6.5 .25 -4.7 .25 2.2 .25 -4.5 .25 7.3 .25 -5.7 .25 5.5 .25 -4.1 .25 3.7 .25 -3.9 .25 5.4 .25 -5.1 .25 4.4 .25 -3.4 .25 4.5 .25 -5.9 .25 3.1 .25 -3.7 .25 4.3 .25 -5.2 .25 5.6 .25 -3.5 .25 4.1 .25 -4.5 .25 5.4 .25 -6.1 .25 4.1 .25 -4.8 .25 6.1 .25 -3.2 .25 2.8 .25 -4.7 .25 3.1 .25 -1.8 .25 3.6 .25 -5.2 .25 5.4 .25 -3.3 .25 2.7 .25 -5.7 .25 7 .25 -5.3 .25 3.8 .25 -3 .25 2.5 .25 -4.4 .25 4.6 .25 -3.9 .25 5.3 .25 -6.4 .25 4.1 .25 -3.4 .25 4.2 .25 -2.4 .25 2.5 .25 -3.6 .25 3.2 .25 -5.2 .25 8.5 .25 -5.1 .25 3.8 .25 -7 .25 7.5 .25 -6.5 .25 5.5 .25 -7.7 .25 6.9 .25 -3.5 .25 2.2 .25 -2.2 .25 4.2 .25 -2.6 .25 1.6 .25 -4 .25 3.8 .25 -1.9 .25 1.3 .25 -3.1 .25 6.8 .25 -6.4 .25 4.4 .25 -5.1 .25 5.2 .25 -5.5 .25 5.2 .25 -2.7 .25 5.7 .25 -10.8 .25 8.8 .25 -8.4 .25 6.4 .25 -2.6 .25 5.3 .25 -4.7 .25 1.2 .25 -3.8 .25 4 .25 -4.5 .25 7.9 .25 -6.9 .25 5.2 .25 -3.9 .25 1.9 .25 -3.7 .25 6.3 .25 -5.8 .25 5.9 .25 -4 .25 4.3 .25 -4.5 .25 3.2 .25 -3.1 .25 1.3 .25 -1.4 .25 2.1 .25 -4.7 .25 8 .25 -7.3 .25 4.6 .25 -2.4 .25 2.6 .25 -3.6 .25 4 .25 -3.6 .25 1.9 .25 -1.1 .25 4.6 .25 -7 .25 6.4 .25 -5.2 .25 4.9 .25 -5 .25 4.7 .25 -5.3 .25 5.1 .25 -6.6 .25 8.3 .25 -6.4 .25 5.5 .25 -6.5 .25 6.8 .25 -4.8 .25 5.6 .25 -3.3 .25 .8 .25 -4.4 .25 6.8 .25 -7.9 .25 6.5 .25 -5.7 .25 6.9 .25 -7.3 .25 5.1 .25 -2.9 .25 4.5 .25 -4.6 .25 4.2 .25 -3.2 .25 2.4 .25 -4.8 .25 6.7 .25 -5.9 .25 5.1 .25 -3.9 .25 4.9 .25 -4.5 .25 4.1 .25 -7.2 .25 8.5 .25 -6.4 .25 4.1 .25 -3.6 .25 2.7 .25 -2.5 .25 3.4 .25 -3 .25 4 .25 -3.2 .25 3 .25 -7.2 .25 7 .25 -2 .25 2.7 .25 -4.8 .25 5.8 .25 -6.9 .25 6.5 .25 -4.9 .25 1.6 .25 -2.7 .25 5.6 .25 -5.2 .25 2.9 .25 -3.1 .25 5 .25 -4.5 .25 4.4 .25 -7.6 .25 7.9 .25 -4.4 .25 2.9 .25 -4.5 .25 4 .25 -4.7 .25 6.4 .25 -3.5 .25 3.1 .25 -4.2 .25 5.5 .25 -4.3 .25 2.8 .25 -4.2 .25 6 .25 -4.6 .25 2.6 .25 -6.1 .25 8.1 .25 -4.4 .25 3.7 .25 -4.3 .25 3.6 .25 -4 .25 3.8 .25 -3.8 .25 2.8 .25 -3.8 .25 2.9 .25 -1.9 .25 5 .25 -4.7 .25 4.1 .25 -4.2 .25 5.2 .25 -7.4 .25 6.5 .25 -4.2 .25 3.1 .25 -2.7 .25 2.7 .25 -4.7 .25 3.6 .25 -4.7 .25 7 .25 -3.8 .25 4.3 .25 -5.1 .25 4.6 .25 -4 .25 3.4 .25 -5.1 .25 3.1 .25 -5.1 .25 7.7 .25 -2.7 .25 3 .25 -4.9 .25 6.6 .25 -7.3 .25 3.9 .25 -3.3 .25 5.2 .25 -5.4 .25 4 .25 -3.1 .25 3.4 .25 -6.3 .25 6.4 .25 -3.7 .25 2.7 .25 -2.9 .25 4.4 .25 -1.9 .25 1.5 .25 -6.9 .25 5 .25 -3.9 .25 4 .25 -4.5 .25 .7 .25 -4.9 .25 1.4 .25 -5.3 .25 8.1 .25 -4.5 .25 -27.4 .25 22.1 .25 7.8 .25 -1.2 .25 5.1 .25 -5.9 .25 -14.1 .25 13 .25 7.8 .25 -3.9 .25 3.1 .25 -4.9 .25 5.6 .25 -6.1 .25 .7 .25 -6.2 .25 -.1 .25 -39.5 .25 32.5 .25 9.5 .25 -.6 .25 -4.1 .25 7.3 .25 -6.7 .25 -6.2 .25 11.7 .25 3.7 .25 -4.9 .25 5.3 .25 -6.5 .25 8.8 .25 -8.1 .25 5.9 .25 -3.9 .25 5.8 .25 -7.6 .25 -12.8 .25 13 .25 6.7 .25 -5.7 .25 6.5 .25 -3.3 .25 2.2 .25 -5.4 .25 7.4 .25 -8.1 .25 7.9 .25 -4.6 .25 4.7 .25 -7 .25 6.5 .25 -4.9 .25 -10.8 .25 9.1 .25 4.6 .25 -2.3 .25 3 .25 -.9 .25 2.4 .25 -3.1 .25 3.2 .25 -5.8 .25 6.1 .25 -4.2 .25 3.3 .25 -5.5 .25 4.2 .25 -1.9 .25 2.4 .25 -5.2 .25 7 .25 -7.5 .25 -18 .25 14.3 .25 9.2 .25 -4.4 .25 5.4 .25 -7.4 .25 7.1 .25 -6.1 .25 5.6 .25 -3.9 .25 5.8 .25 -7.5 .25 -8.8 .25 7.8 .25 5.7 .25 -5 .25 6.2 .25 -6.9 .25 6.8 .25 -3 .25 .8 .25 -.8 .25 1.6 .25 -5.2 .25 6.9 .25 -7.4 .25 4.3 .25 -1.9 .25 3.2 .25 -4.3 .25 3.9 .25 -3.5 .25 4.6 .25 -4.3 .25 3 .25 -2.9 .25 -14.6 .25 10.4 .25 8.7 .25 -6.4 .25 3.8 .25 -3.5 .25 4.1 .25 -7.9 .25 5.9 .25 -7.7 .25 4.4 .25 -5.4 .25 -25.6 .25 22.7 .25 7.3 .25 -6 .25 7.4 .25 -3.6 .25 1.3 .25 -.8 .25 -23.4 .25 19.5 .25 7 .25 -.8 .25 1.5 .25 -5.3 .25 7.4 .25 -7.6 .25 6.1 .25 -3.8 .25 4.4 .25 -2.8 .25 -29.6 .25 22.1 .25 10.5 .25 -9.2 .25 6.6 .25 -5.5 .25 3 .25 -2.9 .25 1.4 .25 -4.6 .25 5.3 .25 -4.4 .25 -13.1 .25 16.3 .25 3.7 .25 -4.1 .25 3.2 .25 -4.7 .25 7 .25 -4.5 .25 3.9 .25 -5.1 .25 6 .25 -4.2 .25 -14.1 .25 14.3 .25 3.9 .25 -5.2 .25 4.7 .25 -3.4 .25 6.5 .25 -7.3 .25 6.1 .25 -4.4 .25 5.8 .25 -4.5 .25 -12 .25 11.7 .25 8 .25 -9.3 .25 6.5 .25 -4.9 .25 4.1 .25 -3.6 .25 4.8 .25 -4.8 .25 5 .25 -4.9 .25 7.4 .25 -6.6 .25 5.6 .25 -3.4 .25 -8.7 .25 7.8 .25 3.5 .25 -2.4 .25 5 .25 -6.9 .25 6.5 .25 -3.8 .25 2.5 .25 -4.5 .25 4.8 .25 -4.1 .25 -9.8 .25 9.1 .25 6.8 .25 -4.5 .25 3.4 .25 -6.7 .25 7.9 .25 -4.4 .25 3.6 .25 -4.3 .25 3.8 .25 -10.8 .25 -29.2 .25 26 .25 7.7 .25 -5 .25 7.9 .25 -4.3 .25 5.1 .25 -6 .25 4.4 .25 -1.5 .25 4.2 .25 -5.3 .25 -7.5 .25 9.7 .25 3.9 .25 -3.5 .25 5.5 .25 -5.3 .25 4.3 .25 -3.6 .25 6.5 .25 -7.5 .25 6.8 .25 -3.8 .25 4.6 .25 -6.6 .25 6.6 .25 -7.6 .25 -3.2 .25 5.8 .25 3.5 .25 -1.9 .25 .6 .25 -2.1 .25 5.8 .25 -5.7 .25 5.5 .25 -9.1 .25 8.9 .25 -4.4 .25 5.4 .25 -5.9 .25 4.6 .25 -5.2 .25 5.1 .25 -4.9 .25 5.8 .25 -5 .25 -5.6 .25 6.5 .25 5.7 .25 -4.5 .25 5.4 .25 -5.4 .25 3.4 .25 -6.2 .25 7.9 .25 -7.2 .25 6 .25 -5.6 .25 6.1 .25 -4.9 .25 3.4 .25 -4.7 .25 5.1 .25 -1.6 .25 .8 .25 -2.5 .25 -5.7 .25 5.2 .25 5.1 .25 -6.5 .25 7.7 .25 -6.7 .25 5.4 .25 -4.3 .25 3.4 .25 -3.8 .25 4.2 .25 -4.7 .25 5.4 .25 -6.4 .25 3.6 .25 -2.5 .25 4.3 .25 -3.7 .25 2.1 .25 -1.8 .25 5.9 .25 -4.8 .25 1.3 .25 -3.4 .25 4.5 .25 -2.6 .25 3.2 .25 -3.4 .25 1.4 .25 -2.2 .25 3.3 .25 -4.8 .25 5.3 .25 -6.2 .25 5.3 .25 -5.5 .25 7.4 .25 -5.1 .25 3.2 .25 -5.2 .25 -5.6 .25 6.5 .25 4.3 .25 -1.5 .25 3.1 .25 -5.3 .25 3.6 .25 -4.5 .25 6.5 .25 -3.3 .25 1.2 .25 -3.2 .25 6.4 .25 -6.5 .25 8.3 .25 -8.5 .25 4 .25 -2.6 .25 5.7 .25 -6 .25 4.3 .25 -4.4 .25 3.6 .25 -3.8 .25 5.5 .25 -6.5 .25 6.1 .25 -7.2 .25 5.3 .25 -3 .25 4.3 .25 -4 .25 3.8 .25 -5.2 .25 5.6 .25 -4 .25 3.2 .25 -4.4 .25 4 .25 -2.2 .25 2.1 .25 -3.2 .25 2.9 .25 -5.1 .25 8.5 .25 -7.6 .25 5.3 .25 -4.8 .25 6.5 .25 -6.9 .25 6.5 .25 -5.9 .25 3.9 .25 -5.8 .25 6.5 .25 -3.4 .25 .5 .25 -4 .25 8.6 .25 -5.4 .25 2.9 .25 -3.1 .25 2 .25 -3.5 .25 4.5 .25 -3.7 .25 5.3 .25 -8.1 .25 -2.7 .25 5.2 .25 6.1 .25 -6 .25 3.8 .25 -4.8 .25 8.9 .25 -7.5 .25 4 .25 -4.9 .25 4 .25 -1.7 .25 6.2 .25 -7.6 .25 3.5 .25 -2.5 .25 3 .25 -5.7 .25 6.6 .25 -7.2 .25 6.6 .25 -5.1 .25 5.9 .25 -5.3 .25 5 .25 -4.4 .25 4.4 .25 -2.9 .25 3.4 .25 -6.6 .25 7.8 .25 -5.3 .25 3.5 .25 -4.9 .25 -17.5 .25 13 .25 9.8 .25 -4.3 .25 3.4 .25 -5.1 .25 6.6 .25 -5.2 .25 6.1 .25 -5 .25 4 .25 -6.2 .25 5 .25 -4.7 .25 4 .25 -3.7 .25 6 .25 -4.5 .25 4.4 .25 -4.6 .25 7 .25 -7.4 .25 3.4 .25 -3.5 .25 6.5 .25 -5.2 .25 -13.8 .25 9.1 .25 9.1 .25 -5.7 .25 5.4 .25 -4.3 .25 4.7 .25 -8.1 .25 4 .25 -4.7 .25 3.6 .25 -3.6 .25 -12.5 .25 11 .25 2.3 .25 -1.9 .25 3.6 .25 -3.1 .25 3 .25 -5.3 .25 -11.6 .25 12.3 .25 5.2 .25 -2.5 .25 3.9 .25 -4.5 .25 6.9 .25 -8.3 .25 -6 .25 7.8 .25 5.2 .25 -4.1 .25 2.2 .25 -.9 .25 2.6 .25 -4.8 .25 6.1 .25 -8.3 .25 7.3 .25 -4 .25 -5.1 .25 5.2 .25 5 .25 -3 .25 2 .25 -5.7 .25 6.9 .25 -5.1 .25 3.8 .25 -4.2 .25 7.1 .25 -7 .25 6.2 .25 -6.8 .25 4.3 .25 -4.2 .25 5.7 .25 -7.2 .25 6.5 .25 -3.3 .25 3.6 .25 -4.9 .25 4.1 .25 -3.2 .25 4.6 .25 -4.4 .25 4 .25 -4 .25 4.3 .25 -4.8 .25 6.4 .25 -6.3 .25 2.6 .25 -2.9 .25 4.8 .25 -3.3 .25 3.1 .25 -5.1 .25 2.7 .25 -.1 .25 2.8 .25 -3.9 .25 3.1 .25 -5.5 .25 7.4 .25 -5.3 .25 4.4 .25 -3.3 .25 5.4 .25 -7.5 .25 6.7 .25 -3.9 .25 3.2 .25 -6.1 .25 5.7 .25 -2 .25 .6 .25 -4.5 .25 6.7 .25 -4.4 .25 4.7 .25 -4.1 .25 2 .25 -16.6 .25 9.7 .25 3.9 .25 2.4 .25 -3 .25 6.1 .25 -6.5 .25 4 .25 -4.8 .25 -4.8 .25 5.2 .25 4.8 .25 -3.2 .25 2.3 .25 -3 .25 3.4 .25 -4.2 .25 3.8 .25 -4.6 .25 5.7 .25 -5.6 .25 5.8 .25 -5.7 .25 6.2 .25 -5.1 .25 3.7 .25 -3.6 .25 4.5 .25 -4.9 .25 3.6 .25 -4.4 .25 6.7 .25 -7.1 .25 7.6 .25 -5.8 .25 4.1 .25 -5.2 .25 -6 .25 5.8 .25 6.7 .25 -7.1 .25 4.3 .25 -4.6 .25 5.6 .25 -4.4 .25 2.5 .25 -.5 .25 2.2 .25 -4.3 .25 2.8 .25 -2.5 .25 3.5 .25 -3.9 .25 4.5 .25 -3 .25 4 .25 -2.9 .25 .6 .25 -2.4 .25 3.7 .25 -2.7 .25 3.7 .25 -3.2 .25 2.3 .25 -5.5 .25 6.1 .25 -4.7 .25 5.6 .25 -5.8 .25 -3.4 .25 3.9 .25 5.4 .25 -5.9 .25 6.3 .25 -6.6 .25 6.9 .25 -4.8 .25 2.6 .25 -6.5 .25 7.4 .25 -4.3 .25 4.9 .25 -6.1 .25 5.2 .25 -4.6 .25 5 .25 -6.3 .25 6 .25 -5.4 .25 4.5 .25 -4.3 .25 4.8 .25 -3.4 .25 2.6 .25 -3.6 .25 4.5 .25 -5.4 .25 6.2 .25 -5 .25 3.8 .25 -3.6 .25 3.2 .25 -3.1 .25 4 .25 -2.7 .25 4.6 .25 -7.3 .25 6 .25 -4.2 .25 3.1 .25 -3.9 .25 2.6 .25 -4.8 .25 6.2 .25 -4.5 .25 5.7 .25 -2.9 .25 2.2 .25 -4.8 .25 5 .25 -2.3 .25 2.1 .25 -5.8 .25 5.8 .25 -3.2 .25 1.8 .25 -1.8 .25 3.1 .25 -5.6 .25 7.8 .25 -6.8 .25 6.1 .25 -6.8 .25 4.6 .25 -2.2 .25 3.1 .25 -2.6 .25 2.9 .25 -5.4 .25 4.9 .25 -3.9 .25 4.5 .25 -6.7 .25 7.2 .25 -3.6 .25 5.3 .25 -7.5 .25 4.5 .25 -3.3 .25 5.2 .25 -4.3 .25 4.1 .25 -5.4 .25 4.5 .25 -4.1 .25 3.1 .25 -3 .25 5.6 .25 -5.6 .25 4.4 .25 -4.5 .25 1.9 .25 -3 .25 6.3 .25 -6.7 .25 3.6 .25 -2.6 .25 5.5 .25 -6 .25 4 .25 -6.1 .25 6.3 .25 -4 .25 4.8 .25 -5.6 .25 5.2 .25 -3.1 .25 4.2 .25 -4.9 .25 3.6 .25 -3.6 .25 3.9 .25 -4.9 .25 5.6 .25 -7.2 .25 5.3 .25 -5 .25 6.6 .25 -4.1 .25 5.7 .25 -3.8 .25 3.2 .25 -2.8 .25 2 .25 -3.1 .25 2.5 .25 -1.9 .25 2.3 .25 -6.6 .25 7.5 .25 -5.2 .25 5.5 .25 -5.2 .25 5.9 .25 -7.7 .25 7.1 .25 -5.1 .25 1.5 .25 -3.4 .25 -2.2 .25 3.2 .25 5.7 .25 -6.4 .25 6 .25 -6.6 .25 7.4 .25 -7.1 .25 6.5 .25 -5.6 .25 5 .25 -7.1 .25 6.7 .25 -1.7 .25 1.8 .25 -4.1 .25 6.7 .25 -6.3 .25 1.6 .25 -2.1 .25 6.3 .25 -6.1 .25 5.2 .25 -6.7 .25 5.4 .25 -4.5 .25 4.8 .25 -4.7 .25 4 .25 -3.1 .25 5.3 .25 -5.9 .25 2.6 .25 -.8 .25 1.6 .25 -6.5 .25 6.4 .25 -2.8 .25 3.4 .25 -2.8 .25 2.4 .25 -4.2 .25 3.4 .25 -4.2 .25 3.2 .25 -2.9 .25 5.7 .25 -4.5 .25 6.3 .25 -7.1 .25 3.8 .25 -4.3 .25 6 .25 -5.3 .25 4.1 .25 -5.3 .25 5.6 .25 -4.5 .25 3.2 .25 -4 .25 4.7 .25 -3.1 .25 3.3 .25 -7 .25 6.7 .25 -2.8 .25 2.8 .25 -4.1 .25 5.1 .25 -4.5 .25 6.2 .25 -8.1 .25 6.6 .25 -5.1 .25 3.4 .25 -5.5 .25 6.1 .25 -5.8 .25 8 .25 -5.5 .25 -4.5 .25 3.9 .25 6 .25 -4.9 .25 1.8 .25 -1.2 .25 1.4 .25 -4.5 .25 4.9 .25 -2.3 .25 4 .25 -5.4 .25 4.1 .25 -2.3 .25 2.5 .25 -5.6 .25 6.2 .25 -5.9 .25 6.3 .25 -7.9 .25 6.7 .25 -4.2 .25 5 .25 -5.7 .25 4.7 .25 -4.2 .25 5.8 .25 -5.7 .25 3.2 .25 -2.7 .25 4.3 .25 -3.5 .25 3.5 .25 -4.5 .25 3.6 .25 -5.8 .25 6.9 .25 -6 .25 5.6 .25 -4.7 .25 5 .25 -5.1 .25 6.2 .25 -3.5 .25 1.3 .25 -2.9 .25 3.7 .25 -1.9 .25 2.3 .25 -4 .25 1.3 .25 .2 .25 3.4 .25 -4.7 .25 3.1 .25 -3.9 .25 5.7 .25 -7.4 .25 7.6 .25 -6.6 .25 5 .25 -3.8 .25 4.6 .25 -5 .25 5.6 .25 -5.4 .25 3 .25 -1.5 .25 3.1 .25 -4.4 .25 3.3 .25 -4.8 .25 6.3 .25 -4.8 .25 3.7 .25 -3.3 .25 2.1 .25 -3.7 .25 4.4 .25 -4.4 .25 4.5 .25 -4.4 .25 5.3 .25 -6.2" fill="none" stroke="#000" stroke-width="0.65" stroke-linejoin="bevel"/>
<path d="M239.00,191.04l.25 -.9 .25 1.4 .25 -1.5 .25 1.7 .25 -1.5 .25 2.1 .25 -1.7 .25 1.3 .25 -1.1 .25 1.6 .25 -.8 .25 .9 .25 -.6 .25 1.3 .25 -1.3 .25 1.2 .25 -.5 .25 1.6 .25 -1.5 .25 1.5 .25 -1.6 .25 2.1 .25 -2.1 .25 1.9 .25 -1.8 .25 1.4 .25 -1.3 .25 1.4 .25 -.7 .25 1.5 .25 -1.4 .25 1.1 .25 -.8 .25 1.1 .25 -1.8 .25 1.7 .25 -1.4 .25 1 .25 -1.1 .25 1.2 .25 -.4 .25 .6 .25 -.9 .25 1.5 .25 -1.6 .25 1.9 .25 -1.2 .25 1.3 .25 -2 .25 1.8 .25 -1.7 .25 1.3 .25 -1.4 .25 2 .25 -2 .25 2 .25 -2.3 .25 1.7 .25 -1.4 .25 1.4 .25 -1.5 .25 1.4 .25 -1.3 .25 1.7 .25 -2 .25 1.7 .25 -.9 .25 .1 .25 -.4 .25 .8 .25 -1 .25 1.8 .25 -1.9 .25 .7 .25 -.9 .25 1.8 .25 -1.5 .25 .8 .25 -.8 .25 1.4 .25 -1.1 .25 .1 .25 -.8 .25 1.8 .25 -1.4 .25 1.1 .25 -1.3 .25 1.1 .25 -.7 .25 1.3 .25 -1.6 .25 1.6 .25 -2 .25 1.7 .25 -1.8 .25 1.3 .25 -.9 .25 1.5 .25 -1.7 .25 1.9 .25 -1.7 .25 1.1 .25 -1.3 .25 1.1 .25 -.7 .25 1.7 .25 -1.3 .25 .9 .25 -1.1 .25 1.5 .25 -1.8 .25 1.6 .25 -1 .25 1.5 .25 -1.6 .25 .9 .25 -.4 .25 1 .25 -1.5 .25 1.2 .25 -.7 .25 2.1 .25 -2.5 .25 1.8 .25 -2.3 .25 1.9 .25 -.5 .25 .9 .25 -1.2 .25 .2 .25 -1.4 .25 2.7 .25 -1.8 .25 1.1 .25 -.7 .25 1.2 .25 -1.7 .25 1.5 .25 -.6 .25 .5 .25 -1.8 .25 1.6 .25 -1.6 .25 1.5 .25 -1.5 .25 2 .25 -1.4 .25 .8 .25 -1 .25 1.2 .25 -1.3 .25 1.7 .25 -1.7 .25 .8 .25 -.7 .25 1.9 .25 -2.2 .25 2.1 .25 -2.1 .25 1.6 .25 -.6 .25 .3 .25 -.2 .25 1 .25 -2.2 .25 1 .25 -.9 .25 .9 .25 -.8 .25 1.8 .25 -1.8 .25 1.3 .25 -1.5 .25 1 .25 -1 .25 1.7 .25 -1.7 .25 2.2 .25 -2.8 .25 2.2 .25 -2.2 .25 1.9 .25 -1.3 .25 .6 .25 -1.4 .25 2.1 .25 -1.9 .25 1.5 .25 -1.5 .25 1.9 .25 -1.6 .25 .7 .25 -.8 .25 1.8 .25 -1.4 .25 .7 .25 -.5 .25 .2 .25 -.9 .25 1.8 .25 -1.1 .25 .9 .25 -.8 .25 1.2 .25 -1.1 .25 1.1 .25 -1.1 .25 1.8 .25 -1.3 .25 1 .25 -1 .25 1 .25 -1.4 .25 1.6 .25 -1.7 .25 1.7 .25 -2.2 .25 1.5 .25 -1.5 .25 1.8 .25 -1.3 .25 1.9 .25 -2.1 .25 2.3 .25 -1.1 .25 0 .25 -1 .25 1.3 .25 -.9 .25 1.7 .25 -2.2 .25 1.7 .25 -1.4 .25 1.8 .25 -1.5 .25 1.1 .25 -1.4 .25 1.1 .25 -.5 .25 .9 .25 -1.2 .25 1.8 .25 -.9 .25 1.2 .25 -2.1 .25 1.7 .25 -1.4 .25 1 .25 -1.2 .25 1.8 .25 -1.7 .25 1.6 .25 -1 .25 .9 .25 -.4 .25 .2 .25 -1.5 .25 1.8 .25 -2.2 .25 2 .25 -1.1 .25 .6 .25 -1.6 .25 2.2 .25 -2 .25 .6 .25 -1.3 .25 1.5 .25 -1.3 .25 1.4 .25 -1.4 .25 1.2 .25 -.8 .25 1.7 .25 -1.4 .25 .5 .25 -.8 .25 1 .25 -1.4 .25 1.2 .25 -1.1 .25 1.2 .25 -.8 .25 1.2 .25 -1.7 .25 1.7 .25 -.8 .25 .5 .25 -1 .25 1.7 .25 -1.8 .25 1.4 .25 -1.3 .25 1.7 .25 -2.1 .25 1.8 .25 -1.1 .25 1.4 .25 -1.1 .25 .6 .25 -1.1 .25 1.2 .25 -1.6 .25 1.4 .25 -.3 .25 .5 .25 -.9 .25 .8 .25 -.7 .25 .8 .25 -.8 .25 1.6 .25 -1.6 .25 1.3 .25 -.9 .25 .5 .25 -1.4 .25 .9 .25 -.5 .25 1.3 .25 -1.4 .25 1.6 .25 -1.5 .25 1.3 .25 -.7 .25 1.2 .25 -1.9 .25 1.7 .25 -.9 .25 .7 .25 -1.2 .25 .4 .25 -.1 .25 .8 .25 -1.5 .25 1.7 .25 -1.4 .25 1.7 .25 -1.6 .25 1 .25 -.5 .25 1.3 .25 -1.8 .25 2.2 .25 -2.4 .25 2.1 .25 -2.1 .25 1.8 .25 -1.2 .25 .6 .25 -1.4 .25 2 .25 -2 .25 1.7 .25 -1.7 .25 1.9 .25 -1.8 .25 1.5 .25 -1.6 .25 1.5 .25 -2 .25 2 .25 -1.7 .25 1.2 .25 -1.2 .25 1.8 .25 -1.8 .25 1.5 .25 -1 .25 1.2 .25 -1.5 .25 1.5 .25 -1 .25 .7 .25 -.9 .25 .5 .25 -.9 .25 1.4 .25 -1.5 .25 1.4 .25 -1 .25 1.7 .25 -2.3 .25 1.3 .25 -.6 .25 1.3 .25 -1.6 .25 1.8 .25 -1.7 .25 1.6 .25 -1.4 .25 1.3 .25 -.9 .25 1.1 .25 -.8 .25 1.4 .25 -1.7 .25 .8 .25 -1.2 .25 1.8 .25 -1.2 .25 .9 .25 -1.5 .25 1.6 .25 -1.8 .25 1.6 .25 -1.5 .25 .4 .25 -.5 .25 1.3 .25 -.9 .25 1.1 .25 -.8 .25 1.3 .25 -1.7 .25 .8 .25 -.6 .25 .8 .25 -1.4 .25 .5 .25 -.5 .25 1.2 .25 -1.1 .25 2 .25 -2 .25 .9 .25 -.5 .25 1.6 .25 -2.4 .25 1.8 .25 -1.5 .25 1.6 .25 -1.5 .25 1.1 .25 -.6 .25 1.1 .25 -1.7 .25 1.8 .25 -1.5 .25 1.5 .25 -1.8 .25 1.2 .25 -1.8 .25 1.2 .25 -.7 .25 1.2 .25 -1.4 .25 1.7 .25 -1.5 .25 .7 .25 -.9 .25 2 .25 -2.8 .25 1.7 .25 -.9 .25 1.2 .25 -1 .25 .9 .25 -1.1 .25 1 .25 -1.1 .25 1.3 .25 -1.1 .25 .7 .25 -.8 .25 1.2 .25 -.4 .25 .6 .25 -1.8 .25 2.5 .25 -1.7 .25 1.4 .25 -1.3 .25 1.1 .25 -1 .25 1.4 .25 -2 .25 1.7 .25 -.5 .25 .2 .25 -1.5 .25 1.6 .25 -1.1 .25 2 .25 -2.1 .25 1.9 .25 -2 .25 1.7 .25 -1.4 .25 .8 .25 -.6 .25 1.1 .25 -1.5 .25 1 .25 -1.1 .25 1.8 .25 -1.4 .25 .7 .25 -1.5 .25 2.1 .25 -1.4 .25 1.2 .25 -1.1 .25 1.8 .25 -2.7 .25 2.2 .25 -1.3 .25 1 .25 -1.9 .25 2.1 .25 -1.6 .25 1.6 .25 -1.4 .25 1.3 .25 -.3 .25 .7 .25 -1.5 .25 1.8 .25 -1.4 .25 1 .25 -.8 .25 .4 .25 -1.1 .25 1.6 .25 -1.7 .25 .9 .25 -.8 .25 1.3 .25 -1.8 .25 2 .25 -1.2 .25 1 .25 -1.7 .25 1.5 .25 -.9 .25 .9 .25 -1.7 .25 1.7 .25 -1 .25 1.1 .25 -1.1 .25 1.3 .25 -1.2 .25 .9 .25 -1.2 .25 2.1 .25 -2 .25 1.3 .25 -1.2 .25 1.1 .25 -.7 .25 .8 .25 -1.1 .25 1.2 .25 -1.8 .25 1.9 .25 -1.6 .25 1.6 .25 -1.6 .25 1.3 .25 -1.7 .25 1.6 .25 -.6 .25 1.3 .25 -1.8 .25 1.1 .25 -1.3 .25 1.4 .25 -1.4 .25 1.7 .25 -1.7 .25 1.3 .25 -1.3 .25 1 .25 -.9 .25 1.5 .25 -1.8 .25 1.3 .25 -1.2 .25 .9 .25 -1.1 .25 2.3 .25 -2.8 .25 2.3 .25 -2.1 .25 1.7 .25 -1.2 .25 .9 .25 -1.2 .25 1.5 .25 -1.9 .25 1.4 .25 -1.4 .25 2.1 .25 -2.1 .25 1.9 .25 -2.1 .25 1.3 .25 -.7 .25 1 .25 -1.1 .25 1.7 .25 -2.3 .25 1.8 .25 -1.3 .25 .9 .25 -.8 .25 .7 .25 -1.4 .25 1.4 .25 -.6 .25 1.2 .25 -.7 .25 .2 .25 -.9 .25 .9 .25 -1 .25 1.8 .25 -2.2 .25 2.1 .25 -1.7 .25 1.1 .25 -.8 .25 .9 .25 -1.3 .25 1.8 .25 -1.3 .25 1.4 .25 -1.5 .25 1.2 .25 -1.8 .25 1.5 .25 -1 .25 1.1 .25 -2 .25 2.4 .25 -1.5 .25 1.5 .25 -1.7 .25 .3 .25 -.6 .25 1.8 .25 -2 .25 1.8 .25 -1 .25 1.5 .25 -1.6 .25 1.6 .25 -1.7 .25 1.6 .25 -1.5 .25 1 .25 -.6 .25 1.1 .25 -1.1 .25 1.2 .25 -.8 .25 .3 .25 -.9 .25 1.2 .25 -1.5 .25 1.5 .25 -1.2 .25 1.8 .25 -1.5 .25 1.2 .25 -.9 .25 .7 .25 -.7 .25 .8 .25 -1.5 .25 1.9 .25 -1.9 .25 2 .25 -1.5 .25 1.1 .25 -1.1 .25 1.3 .25 -1.2 .25 1.9 .25 -2.6 .25 2 .25 -1.3 .25 .7 .25 -.6 .25 1 .25 -1 .25 1.5 .25 -1.7 .25 1.8 .25 -1.7 .25 1.2 .25 -1.2 .25 1.8 .25 -2.1 .25 1.4 .25 -.9 .25 1.8 .25 -1.7 .25 1.3 .25 -1.1 .25 1.1 .25 -1.6 .25 1.2 .25 -.4 .25 .5 .25 -.6 .25 .9 .25 -1 .25 .9 .25 -.8 .25 1.3 .25 -1.5 .25 1.5 .25 -1.5 .25 1.3 .25 -1.2 .25 1.4 .25 -.9 .25 .8 .25 -1.3 .25 1 .25 -1.5 .25 1.6 .25 -1.3 .25 1 .25 -.7 .25 1.4 .25 -1.7 .25 1.6 .25 -1.5 .25 1.3 .25 -1.6 .25 .9 .25 -.9 .25 1 .25 -1.3 .25 1.7 .25 -1.7 .25 1.9 .25 -1.7 .25 .8 .25 -1.2 .25 2 .25 -1.5 .25 1 .25 -1.1 .25 .9 .25 -2 .25 2.5 .25 -1.9 .25 1.8 .25 -1.3 .25 1 .25 -1.6 .25 1.5 .25 -1 .25 1.7 .25 -1.6 .25 1.5 .25 -1.3 .25 .8 .25 -1.3 .25 1.2 .25 -.6 .25 1.3 .25 -2.3 .25 2.1 .25 -.5 .25 .8 .25 -2 .25 1.5 .25 -1.7 .25 1.7 .25 -.8 .25 .5 .25 -1.3 .25 1 .25 -.8 .25 1.5 .25 -2 .25 2.4 .25 -1.9 .25 2 .25 -1.7 .25 1.5 .25 -2.1 .25 2.1 .25 -1.2 .25 1.1 .25 -.9 .25 .6 .25 -1.4 .25 2 .25 -1.5 .25 1 .25 -.2 .25 .5 .25 -.9 .25 1.1 .25 -1.2 .25 1.2 .25 -.9 .25 1.4 .25 -1.7 .25 1.1 .25 -1 .25 1.6 .25 -2.3 .25 2.3 .25 -1.5 .25 .5 .25 -.2 .25 .8 .25 -1.3 .25 1.3 .25 -1.7 .25 1.6 .25 -1.3 .25 1.4 .25 -1.6 .25 1.1 .25 -.6 .25 1.4 .25 -1.4 .25 .8 .25 -1.2 .25 1.2 .25 -1.4 .25 1.5 .25 -1.4 .25 1 .25 -1 .25 .9 .25 -1 .25 1.4 .25 -1.5 .25 1.5 .25 -1.7 .25 1.1 .25 -1.2 .25 1.6 .25 -1 .25 1 .25 -.8 .25 .8 .25 -1.3 .25 .9 .25 -1 .25 1.4 .25 -1.5 .25 1.5 .25 -1.6 .25 1.5 .25 -1.4 .25 1.4 .25 -1.2 .25 1.2 .25 -1.4 .25 1.6 .25 -1.6 .25 1.1 .25 -1 .25 1.3 .25 -1.3 .25 1 .25 -1 .25 1.2 .25 -.9 .25 1.2 .25 -1 .25 -.1 .25 .1 .25 .3 .25 -.7 .25 1.2 .25 -1 .25 1.1 .25 -1 .25 1.7 .25 -2.4 .25 1.6 .25 -.5 .25 .6 .25 -.8 .25 1.3 .25 -1.9 .25 1.7 .25 -.7 .25 1 .25 -1 .25 .9 .25 -1.7 .25 1.8 .25 -1.2 .25 1.2 .25 -1.9 .25 1.2 .25 -.8 .25 1.4 .25 -1.5 .25 1.5 .25 -1.4 .25 1.5 .25 -1.3 .25 1 .25 -1.5 .25 1.7 .25 -1.3 .25 1.5 .25 -1.5 .25 1.8 .25 -1.4 .25 .9 .25 -1.3 .25 1.4 .25 -1.2 .25 1.2 .25 -.5 .25 .6 .25 -1.2 .25 1.4 .25 -2 .25 2.4 .25 -2.1 .25 1.1 .25 -.3 .25 .6 .25 -.9 .25 .7 .25 -1.1 .25 .9 .25 -1.3 .25 2.3 .25 -2.7 .25 2.3 .25 -2.5 .25 1.5 .25 -.3 .25 1.4 .25 -1.1 .25 1.2 .25 -1.4 .25 .8 .25 -1.5 .25 1.3 .25 -1.7 .25 1.8 .25 -.5 .25 .9 .25 -1.6 .25 .6 .25 -.8 .25 1.1 .25 -1.7 .25 .6 .25 -1.2 .25 .2 .25 -2.3 .25 .8 .25 -2.3 .25 -.3 .25 -2.9 .25 -.3 .25 -2.6 .25 -1.2 .25 -3.1 .25 -0 .25 -2.6 .25 -.7 .25 -3.2 .25 .4 .25 -2.5 .25 .3 .25 -1.3 .25 .4 .25 -1.3 .25 1.1 .25 -.5 .25 2.4 .25 -3.8 .25 2.1 .25 .5 .25 3 .25 .4 .25 3.4 .25 .3 .25 2.9 .25 .7 .25 3.9 .25 -.5 .25 2.6 .25 .8 .25 2 .25 .2 .25 1.8 .25 -.4 .25 1.7 .25 -1 .25 1.8 .25 -.9 .25 1.4 .25 -1.2 .25 1.3 .25 -.8 .25 1.2 .25 -1.9 .25 1.9 .25 -.9 .25 1.2 .25 -1.2 .25 1.8 .25 -2 .25 1.6 .25 -1.1 .25 .8 .25 -1.7 .25 1.7 .25 -1 .25 1.5 .25 -1.9 .25 1.5 .25 -1 .25 1.1 .25 -1 .25 .7 .25 -.8 .25 1.5 .25 -.9 .25 1.1 .25 -1.1 .25 1 .25 -1.2 .25 1.3 .25 -1 .25 .7 .25 -1 .25 1.6 .25 -1.8 .25 1.7 .25 -.9 .25 1.4 .25 -2.7 .25 2.5 .25 -1.2 .25 1 .25 -1.3 .25 1.1 .25 -1.4 .25 1.8 .25 -1.1 .25 1.3 .25 -1.2 .25 .6 .25 -1 .25 2 .25 -1.4 .25 .9 .25 -1 .25 1.1 .25 -1.3 .25 1.9 .25 -1.6 .25 .7 .25 -1.1 .25 1 .25 -1.1 .25 1.3 .25 -1.5 .25 1.3 .25 -1.8 .25 1.9 .25 -1.7 .25 1.5 .25 -1.2 .25 1.4 .25 -.9 .25 .6 .25 -.7 .25 1.2 .25 -1.8 .25 1.7 .25 -1.7 .25 1.5 .25 -1 .25 .7 .25 -1.2 .25 1.2 .25 -1.2 .25 1.4 .25 -1 .25 .7 .25 -1 .25 1.5 .25 -1.4 .25 .8 .25 -.9 .25 2 .25 -2.3 .25 1.7 .25 -1.4 .25 1 .25 -.9 .25 1.1 .25 -1.1 .25 1.4 .25 -1.4 .25 .3 .25 -.9 .25 1.6 .25 -.7 .25 1.1 .25 -1.8 .25 1.1 .25 -1.1 .25 1.6 .25 -1 .25 1 .25 -1.2 .25 .7 .25 -.9 .25 1.4 .25 -1.8 .25 1.3 .25 -.6 .25 .9 .25 -1.7 .25 1.2 .25 -.4 .25 .9 .25 -1.6 .25 1.6 .25 -1.7 .25 1.5 .25 -1 .25 .7 .25 -1.2 .25 1 .25 -.6 .25 1.2 .25 -1.7 .25 2.1 .25 -2.2 .25 1.5 .25 -.7 .25 1.2 .25 -1.1 .25 1.4 .25 -1.2 .25 .8 .25 -1.6 .25 1.4 .25 -.8 .25 .5 .25 -.3 .25 -0 .25 -.9 .25 1.5 .25 -1 .25 .9 .25 -.8 .25 1.2 .25 -1.5 .25 1.8 .25 -1.1 .25 1.4 .25 -2.5 .25 1.9 .25 -1.5 .25 1.7 .25 -2 .25 1.4 .25 -.7 .25 1.5 .25 -1.8 .25 .5 .25 -.7 .25 1.9 .25 -2.3 .25 2.4 .25 -2.5 .25 2 .25 -.8 .25 .5 .25 -1.3 .25 1.5 .25 -.5 .25 .2 .25 -.5 .25 .9 .25 -.8 .25 .8 .25 -.8 .25 1.6 .25 -1.6 .25 1.2 .25 -1 .25 1.2 .25 -1.7 .25 1.8 .25 -1.4 .25 1.5 .25 -1.1 .25 .5 .25 -1.3 .25 1.7 .25 -1.7 .25 1.5 .25 -1.7 .25 1.4 .25 -1.4 .25 1.3 .25 -.6 .25 1 .25 -.6 .25 -0 .25 -1.4 .25 2 .25 -1.4 .25 1.4 .25 -1.8 .25 1.1 .25 -.8 .25 1.4 .25 -1.4 .25 1.4 .25 -1.2 .25 1 .25 -2.3 .25 2.1 .25 -.9 .25 .5 .25 -1.6 .25 2 .25 -1.5 .25 1.8 .25 -1.3 .25 1 .25 -1 .25 1.1 .25 -1.3 .25 1.7 .25 -2.1 .25 1.9 .25 -1.5 .25 1.8 .25 -1.8 .25 1.9 .25 -1.6 .25 1.7 .25 -1.3 .25 1.5 .25 -1.7 .25 1.5 .25 -1.5 .25 1.1 .25 -1.1 .25 .8 .25 -.9 .25 1 .25 -1.7 .25 1.7 .25 -1.3 .25 1.1 .25 -1.5 .25 2.3 .25 -1.7 .25 .8 .25 -1.3 .25 2 .25 -1.8 .25 1.3 .25 -.9 .25 .8 .25 -.6 .25 .9 .25 -1.5 .25 1.7 .25 -1.8 .25 1.7 .25 -2 .25 1.8 .25 -1 .25 1.2 .25 -1.7 .25 2.1 .25 -2.8 .25 2.5 .25 -1.7 .25 1.3 .25 -.6 .25 1 .25 -1.5 .25 1.4 .25 -.9 .25 1.2 .25 -1.4 .25 1.4 .25 -1.9 .25 1.4 .25 -1.6 .25 1.3 .25 -1.5 .25 1.4 .25 -.8 .25 1.5 .25 -1.7 .25 .9 .25 -1.2 .25 1.5 .25 -.7 .25 .8 .25 -1 .25 .7 .25 -1 .25 1.4 .25 -1.3 .25 1.3 .25 -1.2 .25 1.1 .25 -.7 .25 .5 .25 -1.6 .25 2.3 .25 -1.4 .25 1.3 .25 -1.5 .25 1.5 .25 -1.1 .25 1.7 .25 -1.6 .25 1 .25 -1.4 .25 1.6 .25 -2.1 .25 2 .25 -1.4 .25 1.5 .25 -2 .25 1.4 .25 -.9 .25 .6 .25 -.2 .25 .9 .25 -1.6 .25 1.3 .25 -1 .25 .6 .25 -1.4 .25 1.3 .25 -1.3 .25 1.4 .25 -1.2 .25 1.5 .25 -1.6 .25 2.2 .25 -3 .25 2.4 .25 -1.2 .25 .6 .25 -1.1 .25 1.2 .25 -1 .25 1 .25 -1.8 .25 2 .25 -.5 .25 .6 .25 -1.4 .25 1.5 .25 -1.6 .25 1.5 .25 -1.2 .25 1.3 .25 -1.5 .25 1.7 .25 -1.3 .25 1.3 .25 -1.7 .25 1.1 .25 -1.2 .25 1 .25 -1.1 .25 1.7 .25 -2.1 .25 1.8 .25 -1.9 .25 1.6 .25 -1.3 .25 2 .25 -1.9 .25 1 .25 -1.1 .25 1.6 .25 -1.5 .25 1.6 .25 -.9 .25 .6 .25 -.8 .25 1.2 .25 -1.6 .25 1.1 .25 -.8 .25 2 .25 -1.8 .25 .8 .25 -1.2 .25 1.7 .25 -1.6 .25 1.5 .25 -1.2 .25 1.5 .25 -1.6 .25 1.1 .25 -1.2 .25 1.2 .25 -.8 .25 .9 .25 -1.4 .25 1.3 .25 -1 .25 .8 .25 -1.8 .25 1.7 .25 -.8 .25 .8 .25 -.3 .25 .7 .25 -1.1 .25 1.9 .25 -1.6 .25 .8 .25 -1.4 .25 1.5 .25 -1 .25 1.2 .25 -1.8 .25 1 .25 -.7 .25 .6 .25 -.5 .25 .9 .25 -.6 .25 1.3 .25 -2.3 .25 1.7 .25 -1.7 .25 1.8 .25 -1.3 .25 1.3 .25 -1.2 .25 1.1 .25 -.4 .25 0 .25 -1 .25 1.3 .25 -.5 .25 .3 .25 -.9 .25 2 .25 -1.9 .25 1.3 .25 -.7 .25 .6 .25 -1 .25 1.4 .25 -1.2 .25 1.6 .25 -1.9 .25 1.5 .25 -1.1 .25 1.2 .25 -1 .25 1.3 .25 -1.3 .25 1.4 .25 -1.1 .25 .3 .25 -1 .25 1.7 .25 -1 .25 .7 .25 -1.3 .25 1.5 .25 -1.2 .25 1.2 .25 -2 .25 2.4 .25 -2.3 .25 2.2 .25 -1.9 .25 1.5 .25 -1.4 .25 1.8 .25 -1.1 .25 .9 .25 -1.6 .25 1.9 .25 -1.8 .25 1.6 .25 -1 .25 .8 .25 -1.5 .25 1.3 .25 -1.3 .25 .9 .25 -.7 .25 .9 .25 -.8 .25 1.2 .25 -1.1 .25 1.1 .25 -1.1 .25 1.4 .25 -1.5 .25 .6 .25 -.5 .25 .7 .25 -1.1 .25 1 .25 -.6 .25 1.1 .25 -1 .25 1.3 .25 -1.3 .25 1.2 .25 -1.9 .25 1.4 .25 -.6 .25 .7 .25 -.9 .25 1 .25 -1.8 .25 1.9 .25 -1.3 .25 1.4 .25 -1.2 .25 1.5 .25 -1.4 .25 1.4 .25 -2 .25 1.3 .25 -1.6 .25 2.1 .25 -1.2 .25 .8 .25 -.7 .25 .6 .25 -1.5 .25 2.1 .25 -1.4 .25 1.7 .25 -2.2 .25 1.6 .25 -1.6 .25 1.2 .25 -1 .25 1.4 .25 -1.6 .25 1.8 .25 -1.2 .25 1.6 .25 -1.1 .25 1.1 .25 -1.3 .25 1.2 .25 -.6 .25 1.1 .25 -2.3 .25 1.9 .25 -1.9 .25 1.2 .25 -.1 .25 1.3 .25 -2.1 .25 1.6 .25 -1.7 .25 1.6 .25 -1.2 .25 1.2 .25 -1.6 .25 1 .25 -1.3 .25 1.2 .25 -.2 .25 .6 .25 -1.2 .25 2 .25 -2.1 .25 1.4 .25 -1 .25 1.2 .25 -.8 .25 1.1 .25 -2 .25 1.1 .25 -.4 .25 .9 .25 -1 .25 1.1 .25 -1.5 .25 1.8 .25 -1.8 .25 1.2 .25 -1.7 .25 1.8 .25 -1.4 .25 1.2 .25 -.8 .25 .9 .25 -.6 .25 .8 .25 -1 .25 1.2 .25 -1.7 .25 1.6 .25 -1.1 .25 1.1 .25 -1.6 .25 1.2 .25 -1.1 .25 .7 .25 -1.2 .25 1.6 .25 -1.2 .25 1.3 .25 -1.8 .25 1.5 .25 -1.2 .25 1.9 .25 -2 .25 1.6 .25 -1.5 .25 1.3 .25 -1.2 .25 1 .25 -1 .25 1.2 .25 -1 .25 .7 .25 -.9 .25 .8 .25 -.6 .25 1 .25 -1.1 .25 1.2 .25 -1.2 .25 1.3 .25 -1.4 .25 1.1 .25 -.5 .25 .9 .25 -1.5 .25 1.5 .25 -1.2 .25 1.1 .25 -1 .25 .7 .25 -.7 .25 .7 .25 -.8 .25 1 .25 -1.1 .25 1.2 .25 -2 .25 2.3 .25 -2.3 .25 1.8 .25 -1.9 .25 1.5 .25 -.3 .25 1 .25 -2 .25 1.9 .25 -1.5 .25 .9 .25 -.6 .25 .5 .25 -1 .25 1.6 .25 -1 .25 .2 .25 -.7 .25 .9 .25 -.6 .25 1.1 .25 -1 .25 1.5 .25 -2.7 .25 2.4 .25 -2.3 .25 1.6 .25 -.8 .25 1 .25 -.7 .25 .7 .25 -1.7 .25 2.1 .25 -1.9 .25 1.3 .25 -.9 .25 1.3 .25 -1.5 .25 1.5 .25 -1.4 .25 1.2 .25 -1.1 .25 1.6 .25 -1.8 .25 1.6 .25 -1.3 .25 .7 .25 -.5 .25 .8 .25 -.5 .25 .8 .25 -1.3 .25 1.6 .25 -1.1 .25 1.3 .25 -1.4 .25 .9 .25 -.4 .25 .7 .25 -.7 .25 1.3 .25 -1.1 .25 .8 .25 -1.4 .25 1.1 .25 -1.1 .25 1.3 .25 -1.1 .25 1.5 .25 -2.1 .25 2.3 .25 -1.2 .25 1.1 .25 -1.1 .25 1 .25 -1.3 .25 1.3 .25 -1.4 .25 2.1 .25 -1.3 .25 .6 .25 -1.3 .25 1.9 .25 -1.9 .25 1.8 .25 -1.2 .25 .9 .25 -.7 .25 .8 .25 -1.2 .25 1.5 .25 -2 .25 1.7 .25 -1.5 .25 1.9 .25 -2.1 .25 1.8 .25 -1.8 .25 1.6 .25 -1.2 .25 .8 .25 -1.2" fill="none" stroke="#000" stroke-width="0.6" stroke-linejoin="bevel"/>
<path d="M239.00,217.70l.25 -.9 .25 1.1 .25 .2 .25 .7 .25 -.6 .25 1.5 .25 -.7 .25 1.5 .25 -.8 .25 1.8 .25 -1.3 .25 1 .25 -1.5 .25 1.6 .25 -1 .25 1.3 .25 -1 .25 .8 .25 -.6 .25 1.5 .25 -1.6 .25 1.2 .25 -1.1 .25 1.5 .25 -.8 .25 .8 .25 -.5 .25 .9 .25 -1 .25 1 .25 -1.1 .25 1.1 .25 -.6 .25 .7 .25 -1.1 .25 1.4 .25 -1.1 .25 .9 .25 -1.2 .25 1.2 .25 -1.2 .25 1.4 .25 -1.1 .25 .9 .25 -.7 .25 .8 .25 -1.4 .25 1.7 .25 -1.4 .25 1 .25 -1.1 .25 1.3 .25 -1.2 .25 1.2 .25 -.9 .25 1.2 .25 -.7 .25 .4 .25 -.9 .25 1 .25 -.6 .25 .9 .25 -1.4 .25 1 .25 -1 .25 1.1 .25 -.9 .25 .6 .25 -.8 .25 1.8 .25 -1.5 .25 .7 .25 -.8 .25 .9 .25 -.6 .25 1.2 .25 -.9 .25 .9 .25 -1.2 .25 1.4 .25 -1.8 .25 1.4 .25 -.5 .25 .1 .25 -.7 .25 .6 .25 -.7 .25 1.2 .25 -1.3 .25 1 .25 -.6 .25 .3 .25 -.7 .25 1.2 .25 -1.1 .25 .9 .25 -1.2 .25 1.2 .25 -1.6 .25 1.7 .25 -1 .25 1 .25 -1.5 .25 2.1 .25 -1.8 .25 1.6 .25 -1.2 .25 .8 .25 -.8 .25 1.1 .25 -1 .25 .5 .25 -1.3 .25 1.2 .25 -.6 .25 1.1 .25 -1.4 .25 1 .25 -.8 .25 1.1 .25 -1.2 .25 1.2 .25 -1.6 .25 1.5 .25 -1.1 .25 1.3 .25 -1.2 .25 .6 .25 -.9 .25 .8 .25 -1.2 .25 1.2 .25 -.7 .25 .4 .25 -.9 .25 1.1 .25 -.9 .25 .4 .25 -.9 .25 1.4 .25 -1.2 .25 1 .25 -1.1 .25 .9 .25 -.9 .25 .6 .25 -.4 .25 1.2 .25 -1.4 .25 .8 .25 -.9 .25 1.2 .25 -1 .25 1 .25 -1.1 .25 1 .25 -.7 .25 .7 .25 -.8 .25 .4 .25 -.9 .25 1.6 .25 -1.3 .25 1.1 .25 -.6 .25 .5 .25 -.9 .25 1.1 .25 -1.2 .25 1.3 .25 -1.5 .25 1.8 .25 -1.5 .25 .8 .25 -1 .25 1 .25 -1.3 .25 1 .25 -.6 .25 .3 .25 -.5 .25 1.2 .25 -1.3 .25 1.2 .25 -.8 .25 .8 .25 -.5 .25 .7 .25 -1.3 .25 1.4 .25 -.9 .25 1.1 .25 -1.4 .25 1.5 .25 -.7 .25 .7 .25 -.6 .25 1.1 .25 -1.8 .25 1.5 .25 -1.6 .25 1.5 .25 -.5 .25 .2 .25 -.8 .25 1.3 .25 -.9 .25 .9 .25 -1.6 .25 1 .25 -1 .25 1.6 .25 -1.5 .25 1.2 .25 -1.1 .25 .9 .25 -1.5 .25 1.3 .25 -.5 .25 .9 .25 -1.1 .25 .8 .25 -.7 .25 .9 .25 -1.4 .25 1.1 .25 -.3 .25 .8 .25 -1 .25 1.2 .25 -1.6 .25 1.5 .25 -1.2 .25 1.2 .25 -1 .25 1.5 .25 -1.3 .25 1 .25 -1 .25 .9 .25 -.9 .25 1.4 .25 -1.6 .25 1 .25 -1.4 .25 1.1 .25 -1 .25 1.3 .25 -1.1 .25 1.1 .25 -1 .25 1 .25 -1.2 .25 1.2 .25 -1.2 .25 1.1 .25 -1.5 .25 1.6 .25 -1 .25 .5 .25 -.7 .25 .9 .25 -1 .25 1.5 .25 -.7 .25 .1 .25 -.5 .25 .9 .25 -.6 .25 .8 .25 -1 .25 .7 .25 -.7 .25 1.1 .25 -1.7 .25 1.4 .25 -.9 .25 1.4 .25 -1.8 .25 1.6 .25 -1.5 .25 1.1 .25 -.7 .25 .5 .25 -1.2 .25 1.5 .25 -1.1 .25 1.5 .25 -1 .25 1 .25 -1.4 .25 1.8 .25 -1.4 .25 .9 .25 -1.7 .25 1.1 .25 -1.1 .25 1.6 .25 -1.6 .25 1.5 .25 -1.5 .25 .7 .25 -.7 .25 1.2 .25 -.8 .25 .9 .25 -1 .25 1.3 .25 -1.2 .25 .6 .25 -.3 .25 .5 .25 -1 .25 1.1 .25 -1.1 .25 1 .25 -.9 .25 1.4 .25 -1.2 .25 .2 .25 -.5 .25 .9 .25 -1 .25 .9 .25 -.7 .25 .8 .25 -.7 .25 .6 .25 -1.2 .25 1.2 .25 -.6 .25 1 .25 -.6 .25 .6 .25 -1 .25 .8 .25 -.8 .25 1.1 .25 -1 .25 .6 .25 -1.1 .25 1.8 .25 -1.5 .25 1.5 .25 -1.7 .25 1.8 .25 -1.4 .25 .5 .25 -.5 .25 .6 .25 -1 .25 1.6 .25 -1.2 .25 .5 .25 -.9 .25 1.7 .25 -1.3 .25 .8 .25 -1.1 .25 1.2 .25 -1 .25 .8 .25 -.9 .25 .9 .25 -.7 .25 1.1 .25 -1.3 .25 1.5 .25 -1.3 .25 .9 .25 -1.4 .25 1.5 .25 -1.1 .25 1.4 .25 -1.2 .25 .4 .25 -.2 .25 .7 .25 -1 .25 1 .25 -1.3 .25 1.7 .25 -1.2 .25 .9 .25 -1 .25 1.7 .25 -2 .25 1.3 .25 -.7 .25 1.4 .25 -1.1 .25 .6 .25 -1.1 .25 1.1 .25 -.9 .25 .9 .25 -.6 .25 .9 .25 -1.2 .25 1 .25 -1.1 .25 1.2 .25 -1.4 .25 1.2 .25 -1 .25 .9 .25 -.9 .25 .7 .25 -.2 .25 .3 .25 -.4 .25 .5 .25 -.8 .25 1 .25 -1.2 .25 1 .25 -.8 .25 1.6 .25 -1.6 .25 1 .25 -.9 .25 1.1 .25 -1.3 .25 1.2 .25 -.9 .25 1.1 .25 -.8 .25 .3 .25 -.8 .25 .6 .25 -.7 .25 1.5 .25 -1.1 .25 .6 .25 -1 .25 1.6 .25 -1.7 .25 1.3 .25 -.8 .25 .5 .25 -.8 .25 .7 .25 -1.1 .25 1.2 .25 -1.1 .25 1.4 .25 -1.4 .25 1.4 .25 -1.3 .25 1 .25 -.9 .25 .6 .25 -1.1 .25 1.4 .25 -.9 .25 1.1 .25 -1.3 .25 1.1 .25 -1.2 .25 .8 .25 -.8 .25 1.4 .25 -1.1 .25 1.1 .25 -1 .25 .6 .25 -.8 .25 .8 .25 -.7 .25 .7 .25 -1.4 .25 .9 .25 -.7 .25 1.4 .25 -1.4 .25 .8 .25 -1.2 .25 1.8 .25 -1.1 .25 .8 .25 -1 .25 1.5 .25 -1.4 .25 .9 .25 -1.6 .25 1 .25 -.6 .25 1.3 .25 -1.1 .25 1 .25 -.8 .25 1 .25 -1 .25 .7 .25 -1.3 .25 1 .25 -1.2 .25 1.4 .25 -1.1 .25 1.4 .25 -1.1 .25 .2 .25 -.5 .25 1.2 .25 -.9 .25 .8 .25 -1.2 .25 1.3 .25 -.8 .25 .8 .25 -1.7 .25 1.4 .25 -.4 .25 .7 .25 -.7 .25 .2 .25 -.4 .25 .8 .25 -1.1 .25 1.1 .25 -1.4 .25 1.4 .25 -1 .25 1.2 .25 -1.6 .25 2.1 .25 -.7 .25 .6 .25 -1.3 .25 1.8 .25 -1.3 .25 1.4 .25 -1.3 .25 1 .25 -1 .25 1.3 .25 -.9 .25 .8 .25 -1.2 .25 .8 .25 -.8 .25 1.1 .25 -.9 .25 1.1 .25 -1 .25 1.4 .25 -.8 .25 .6 .25 -.8 .25 -.1 .25 -.6 .25 1.1 .25 -.7 .25 .8 .25 -.5 .25 .1 .25 -.4 .25 .7 .25 -1 .25 .9 .25 -.9 .25 1.1 .25 -.5 .25 .1 .25 -.9 .25 1.8 .25 -1.6 .25 1.3 .25 -1.5 .25 1.4 .25 -.7 .25 .3 .25 -.6 .25 1 .25 -1.2 .25 .8 .25 -1 .25 .9 .25 -.6 .25 1.2 .25 -1.3 .25 .8 .25 -.3 .25 .1 .25 -.4 .25 .9 .25 -.9 .25 .6 .25 -.7 .25 .8 .25 -.7 .25 .7 .25 -1 .25 1 .25 -1.1 .25 1 .25 -1.4 .25 1.5 .25 -1 .25 .5 .25 -.3 .25 .8 .25 -1 .25 1.1 .25 -.9 .25 .5 .25 -.2 .25 .9 .25 -1.2 .25 1 .25 -1.4 .25 1.6 .25 -1.6 .25 1.4 .25 -1.9 .25 1.5 .25 -.6 .25 .7 .25 -.8 .25 .5 .25 -0 .25 .5 .25 -.8 .25 1 .25 -1 .25 .7 .25 -.4 .25 .2 .25 -.3 .25 .5 .25 -.5 .25 .6 .25 -.8 .25 .8 .25 -1.6 .25 1.3 .25 -.5 .25 .5 .25 -.8 .25 1.1 .25 -1.6 .25 1.4 .25 -.5 .25 .5 .25 -1.1 .25 1.1 .25 -1.3 .25 1.3 .25 -1 .25 1.3 .25 -.8 .25 .8 .25 -1.4 .25 1.2 .25 -1.2 .25 1 .25 -1.1 .25 1.2 .25 -1 .25 1.6 .25 -1.5 .25 .9 .25 -1.2 .25 1 .25 -.9 .25 .8 .25 -1.4 .25 1.6 .25 -1.1 .25 2 .25 -1.9 .25 1.1 .25 -1.3 .25 1 .25 -1.1 .25 1.5 .25 -.6 .25 .9 .25 -1 .25 .8 .25 -.6 .25 .7 .25 -1 .25 .5 .25 -.6 .25 .9 .25 -.9 .25 1.9 .25 -1.9 .25 1.6 .25 -1.6 .25 1.8 .25 -1.1 .25 .2 .25 -.5 .25 .9 .25 -.6 .25 1 .25 -.8 .25 1.1 .25 -1.8 .25 1.8 .25 -1.3 .25 .9 .25 -.7 .25 .7 .25 -.6 .25 .9 .25 -1.4 .25 1.3 .25 -1.1 .25 1.1 .25 -1 .25 1.3 .25 -1.1 .25 1 .25 -.6 .25 .3 .25 -.8 .25 1.4 .25 -1.3 .25 .6 .25 -.4 .25 .7 .25 -.8 .25 1.2 .25 -.9 .25 .6 .25 -.8 .25 1.1 .25 -1.1 .25 1.1 .25 -.9 .25 1 .25 -1.3 .25 1.1 .25 -.9 .25 1.1 .25 -1.5 .25 1.5 .25 -1.2 .25 .9 .25 -.6 .25 .8 .25 -.7 .25 .7 .25 -1.6 .25 1.4 .25 -1.3 .25 .8 .25 -.7 .25 .7 .25 -.9 .25 1.3 .25 -1 .25 1.3 .25 -1.2 .25 .8 .25 -1.1 .25 .7 .25 -.9 .25 .5 .25 -.7 .25 1 .25 -1.2 .25 .8 .25 -.2 .25 1 .25 -1.7 .25 1.6 .25 -1.3 .25 1.2 .25 -1.1 .25 .7 .25 -.7 .25 1 .25 -1.3 .25 1.2 .25 -.4 .25 .6 .25 -1 .25 1.1 .25 -1.1 .25 .9 .25 -.9 .25 .9 .25 -.8 .25 .8 .25 -1.2 .25 .9 .25 -1.1 .25 1.3 .25 -1.1 .25 .8 .25 -.7 .25 .6 .25 -.6 .25 .6 .25 -.6 .25 .7 .25 -.7 .25 1 .25 -1.4 .25 .9 .25 -.4 .25 .8 .25 -.9 .25 1.3 .25 -1.4 .25 .6 .25 -.6 .25 .7 .25 -1.2 .25 .8 .25 -.9 .25 1.6 .25 -1 .25 .9 .25 -.2 .25 0 .25 -.5 .25 1.2 .25 -1.2 .25 1 .25 -.3 .25 .6 .25 -.9 .25 .7 .25 -1 .25 .7 .25 -.8 .25 1.2 .25 -1.3 .25 1.2 .25 -.8 .25 .7 .25 -.9 .25 .8 .25 -.8 .25 1.1 .25 -1 .25 .8 .25 -1.1 .25 .8 .25 -.8 .25 1.4 .25 -.7 .25 .3 .25 -.8 .25 1.1 .25 -1 .25 1 .25 -1.2 .25 .7 .25 -1.2 .25 .9 .25 -.1 .25 .4 .25 -.7 .25 .8 .25 -1.2 .25 1.3 .25 -.9 .25 .9 .25 -.7 .25 .4 .25 -.2 .25 .7 .25 -.6 .25 .8 .25 -.8 .25 .7 .25 -.7 .25 1 .25 -1.5 .25 1.6 .25 -1.2 .25 .6 .25 -.9 .25 1.3 .25 -1.5 .25 1.2 .25 -1 .25 .9 .25 -1.1 .25 1.2 .25 -1.1 .25 1 .25 -1.3 .25 1.5 .25 -1.2 .25 1.3 .25 -1.1 .25 1.5 .25 -1.2 .25 .8 .25 -1.2 .25 1.2 .25 -1 .25 1 .25 -1 .25 1.5 .25 -1.4 .25 1 .25 -.7 .25 .8 .25 -1.2 .25 1.4 .25 -1.1 .25 1.1 .25 -1 .25 1.3 .25 -1.4 .25 1.5 .25 -1.3 .25 1.3 .25 -1.5 .25 .8 .25 -.8 .25 1 .25 -.8 .25 1 .25 -.9 .25 .9 .25 -1.1 .25 1.4 .25 -1.4 .25 .5 .25 -.3 .25 1 .25 -1.6 .25 1.4 .25 -1 .25 .9 .25 -1.3 .25 1.4 .25 -.8 .25 .6 .25 -1.5 .25 1.7 .25 -.6 .25 .8 .25 -1.6 .25 .9 .25 -.8 .25 1.5 .25 -1.5 .25 1.7 .25 -1.4 .25 1.1 .25 -1.1 .25 .9 .25 -1.2 .25 .9 .25 -.8 .25 1.2 .25 -1 .25 .4 .25 -.6 .25 -16.8 .25 11 .25 6.9 .25 -.8 .25 .9 .25 -1 .25 1.1 .25 -1.2 .25 1.3 .25 -3 .25 -15.2 .25 11 .25 -.1 .25 -1.1 .25 1.1 .25 -.3 .25 1 .25 -.5 .25 1.1 .25 -.8 .25 .8 .25 -.5 .25 1.2 .25 -.6 .25 .6 .25 -.9 .25 1.5 .25 -.7 .25 .6 .25 -.9 .25 1.4 .25 -1.4 .25 1.7 .25 -1.2 .25 1.2 .25 -1.1 .25 2.1 .25 -1.3 .25 1.1 .25 -.8 .25 .6 .25 -.4 .25 .5 .25 -.9 .25 1.5 .25 -1.5 .25 1.4 .25 -1.2 .25 .9 .25 -0 .25 .4 .25 -.5 .25 .3 .25 -.4 .25 1.3 .25 -1 .25 .5 .25 -.5 .25 .9 .25 -1.3 .25 1.4 .25 -1 .25 .6 .25 -.2 .25 .6 .25 -.8 .25 .5 .25 -.2 .25 1 .25 -1.6 .25 .9 .25 -.8 .25 1.4 .25 -1.3 .25 1.1 .25 -.9 .25 1.2 .25 -.9 .25 .6 .25 -.6 .25 .4 .25 -.4 .25 .3 .25 -.5 .25 1.3 .25 -1.7 .25 1.5 .25 -.6 .25 1.1 .25 -1.7 .25 1.8 .25 -1.4 .25 1.4 .25 -1.5 .25 1.1 .25 -.8 .25 1 .25 -.8 .25 .6 .25 -.8 .25 .8 .25 -.8 .25 .8 .25 -.9 .25 .7 .25 -1.1 .25 1.2 .25 -.7 .25 .9 .25 -.8 .25 1.3 .25 -1.1 .25 .8 .25 -.9 .25 1.7 .25 -1.8 .25 1.1 .25 -.6 .25 1.2 .25 -1.5 .25 .8 .25 -.9 .25 1.3 .25 -1.3 .25 1.6 .25 -1.7 .25 1.5 .25 -.9 .25 1 .25 -.6 .25 .4 .25 -.9 .25 1 .25 -1.1 .25 1.2 .25 -.8 .25 1 .25 -1.1 .25 1.5 .25 -1.4 .25 .9 .25 -1.2 .25 1.5 .25 -1.4 .25 .8 .25 -.4 .25 .9 .25 -1.2 .25 .4 .25 -.6 .25 .8 .25 -1 .25 1.2 .25 -1.1 .25 .7 .25 -.8 .25 1.4 .25 -.9 .25 .6 .25 -.3 .25 .9 .25 -1.1 .25 .9 .25 -1.3 .25 1.6 .25 -1.1 .25 1 .25 -1.4 .25 1.1 .25 -1 .25 1 .25 -.7 .25 1 .25 -.9 .25 .7 .25 -1.4 .25 1.7 .25 -1.8 .25 1.3 .25 -.9 .25 .9 .25 -.9 .25 .8 .25 -1.2 .25 1.4 .25 -1 .25 1.1 .25 -1.7 .25 1.8 .25 -1.1 .25 .8 .25 -.5 .25 .1 .25 -.6 .25 .8 .25 -.5 .25 1.3 .25 -1.5 .25 1.6 .25 -1.8 .25 .9 .25 -.7 .25 1.2 .25 -1.4 .25 1 .25 -.7 .25 1.3 .25 -1.7 .25 1.8 .25 -1.3 .25 .9 .25 -.7 .25 1.1 .25 -1.6 .25 1.3 .25 -1.1 .25 .6 .25 -.3 .25 .7 .25 -.6 .25 1.2 .25 -1.6 .25 1.1 .25 -1.3 .25 1.6 .25 -1.3 .25 .8 .25 -1.1 .25 1.1 .25 -1.3 .25 1.1 .25 -.9 .25 1.3 .25 -1.2 .25 .6 .25 -.5 .25 1.3 .25 -1 .25 .6 .25 -.9 .25 1.1 .25 -1.2 .25 .9 .25 -.7 .25 .9 .25 -1.6 .25 1.8 .25 -1.5 .25 1.3 .25 -1.2 .25 1 .25 -.8 .25 .9 .25 -1.2 .25 1.3 .25 -.9 .25 .8 .25 -1.3 .25 1.2 .25 -1.3 .25 1.2 .25 -.7 .25 1 .25 -.5 .25 .1 .25 -.1 .25 .6 .25 -.9 .25 1.2 .25 -1.4 .25 .9 .25 -.8 .25 1.1 .25 -1.3 .25 1.2 .25 -1.3 .25 1.5 .25 -1.5 .25 1.4 .25 -1.5 .25 1.1 .25 -.9 .25 .8 .25 -1.3 .25 1.2 .25 -1 .25 1.4 .25 -1.1 .25 .5 .25 -.9 .25 1.3 .25 -.6 .25 .2 .25 -.6 .25 1.1 .25 -1 .25 .6 .25 -.5 .25 .4 .25 -.8 .25 1.1 .25 -1.1 .25 1.2 .25 -.8 .25 1.1 .25 -.8 .25 .6 .25 -.7 .25 1.1 .25 -1.1 .25 .8 .25 -.9 .25 1.1 .25 -1 .25 1.4 .25 -1.3 .25 .8 .25 -1.1 .25 1.1 .25 -.8 .25 1 .25 -1.6 .25 1.3 .25 -1.2 .25 1.5 .25 -2.2 .25 1.9 .25 -1.5 .25 1.2 .25 -1 .25 .9 .25 -.6 .25 .9 .25 -1.3 .25 1.5 .25 -1.2 .25 1.1 .25 -1.4 .25 1.1 .25 -.5 .25 .8 .25 -1.1 .25 1.2 .25 -.5 .25 .6 .25 -1 .25 .8 .25 -1.1 .25 1.5 .25 -1 .25 .8 .25 -1.3 .25 1.2 .25 -1.3 .25 1.7 .25 -1.6 .25 1.4 .25 -.7 .25 .6 .25 -.8 .25 .7 .25 -.5 .25 .9 .25 -1.7 .25 1.7 .25 -1.2 .25 .8 .25 -.8 .25 1.1 .25 -1.1 .25 1.2 .25 -1.2 .25 1.3 .25 -1.2 .25 1.2 .25 -1.3 .25 .5 .25 -.5 .25 1.2 .25 -1.1 .25 .7 .25 -.3 .25 1 .25 -1.1 .25 1 .25 -.5 .25 .4 .25 -.3 .25 1 .25 -1.5 .25 .8 .25 -.5 .25 .5 .25 -1 .25 1.4 .25 -1.3 .25 .7 .25 -1.1 .25 1.5 .25 -.6 .25 .5 .25 -.3 .25 .2 .25 -.7 .25 .7 .25 -.6 .25 .5 .25 -.9 .25 .8 .25 -.3 .25 .8 .25 -.9 .25 1.1 .25 -1 .25 .7 .25 -.7 .25 .4 .25 -.3 .25 .7 .25 -.8 .25 .6 .25 -.7 .25 1.1 .25 -.8 .25 .5 .25 -.4 .25 .6 .25 -.8 .25 1 .25 -.7 .25 -.2 .25 -.8 .25 .8 .25 -.9 .25 1 .25 -.7 .25 .8 .25 -1 .25 1.4 .25 -1.3 .25 1.1 .25 -1.2 .25 1 .25 -.7 .25 .4 .25 -1.3 .25 1.9 .25 -1.5 .25 1.1 .25 -.8 .25 .7 .25 -.5 .25 .9 .25 -1.4 .25 1.1 .25 -.9 .25 .7 .25 -1.2 .25 1.5 .25 -1.4 .25 1.7 .25 -1.3 .25 1.3 .25 -1.4 .25 1.1 .25 -1.1 .25 1.1 .25 -1.3 .25 .9 .25 -.7 .25 1 .25 -.9 .25 .5 .25 -1.2 .25 1.4 .25 -.8 .25 .9 .25 -1.3 .25 1.1 .25 -.9 .25 1.4 .25 -1.7 .25 1.4 .25 -1 .25 .8 .25 -.8 .25 1.2 .25 -1.1 .25 1.3 .25 -1.5 .25 1.1 .25 -1.1 .25 1.4 .25 -1 .25 1 .25 -1 .25 1.1 .25 -1.1 .25 1.1 .25 -1.4 .25 1.5 .25 -1.6 .25 1.5 .25 -1.5 .25 1.1 .25 -.7 .25 .8 .25 -.7 .25 .7 .25 -.3 .25 .4 .25 -1 .25 .9 .25 -1 .25 1.1 .25 -.8 .25 .7 .25 -.4 .25 .6 .25 -1.2 .25 2.1 .25 -.9 .25 .4 .25 -.8 .25 .9 .25 -1.3 .25 1.1 .25 -1 .25 1.6 .25 -.9 .25 .9 .25 -1.4 .25 1.6 .25 -.7 .25 .5 .25 -.6 .25 .6 .25 -.8 .25 1.1 .25 -1.4 .25 .5 .25 -.9 .25 1.3 .25 -1.1 .25 1.6 .25 -1.2 .25 .7 .25 -.9 .25 1 .25 -1.1 .25 .8 .25 -1.1 .25 1.3 .25 -1 .25 .9 .25 -.9 .25 .6 .25 -.7 .25 1 .25 -1.2 .25 1.2 .25 -1.2 .25 2 .25 -2 .25 .6 .25 -.5 .25 .7 .25 -.2 .25 .9 .25 -1.6 .25 .9 .25 -.5 .25 1 .25 -1.4 .25 1.1 .25 -1.3 .25 1.4 .25 -1.1 .25 1.4 .25 -1.2 .25 .5 .25 -.9 .25 .8 .25 -.5 .25 1.1 .25 -1.1 .25 1.3 .25 -1.4 .25 .8 .25 -1.1 .25 1.1 .25 -.8 .25 .4 .25 -.5 .25 1.2 .25 -1.2 .25 .7 .25 -.9 .25 .6 .25 -.5 .25 1.1 .25 -1.5 .25 1.6 .25 -1.3 .25 .6 .25 -.8 .25 .8 .25 -.9 .25 .9 .25 -.6 .25 1 .25 -1.1 .25 .7 .25 -.7 .25 .9 .25 -.5 .25 .5 .25 -.3 .25 .8 .25 -1.1 .25 .7 .25 -1 .25 1 .25 -.6 .25 .8 .25 -.7 .25 .8 .25 -1 .25 1 .25 -1.1 .25 .8 .25 -.8 .25 .4 .25 -.4 .25 1.1 .25 -1.4 .25 1.3 .25 -1.5 .25 .7 .25 -.7 .25 1.1 .25 -1.2 .25 1.1 .25 -.8 .25 .8 .25 -.4 .25 .6 .25 -1.3 .25 1.2 .25 -.9 .25 1.1 .25 -1.5 .25 1.2 .25 -.6 .25 -.1 .25 -.5 .25 1 .25 -.6 .25 .7 .25 -.7 .25 .9 .25 -1.5 .25 1.2 .25 -.7 .25 .5 .25 -.4 .25 .9 .25 -1.3 .25 1 .25 -1.4 .25 1.5 .25 -1 .25 .8 .25 -.8 .25 .7 .25 -1.2 .25 1.2 .25 -.6 .25 1 .25 -1 .25 .4 .25 -1.1 .25 1.6 .25 -.8 .25 .7 .25 -1.1 .25 1.7 .25 -1.8 .25 1.7 .25 -1.3 .25 1.1 .25 -1.3 .25 1 .25 -1 .25 1.5 .25 -1.3 .25 .8 .25 -.8 .25 .9 .25 -.6 .25 1.1 .25 -1.4 .25 1 .25 -1.1 .25 1.7 .25 -1 .25 1.1 .25 -1 .25 1 .25 -1.1 .25 .8 .25 -1 .25 1.2 .25 -.8 .25 1.1 .25 -1.6 .25 1.3 .25 -1.5 .25 1.4 .25 -1.5 .25 2 .25 -2.1 .25 1.6 .25 -1.2 .25 .8 .25 -.8 .25 .9 .25 -.5 .25 .9 .25 -1.5 .25 1.5 .25 -1.1 .25 .7 .25 -.8 .25 .5 .25 -.3 .25 1 .25 -.6 .25 .7 .25 -.9 .25 .8 .25 -1.1 .25 1.3 .25 -1.1 .25 1.1 .25 -.9 .25 .9 .25 -1.2 .25 .6 .25 -.6 .25 1.1 .25 -.7 .25 .7 .25 -1 .25 1.1 .25 -.9 .25 1 .25 -.6 .25 .8 .25 -1.3 .25 1.6 .25 -1.3 .25 1.2 .25 -1.1 .25 1 .25 -1.8 .25 1.7 .25 -.6 .25 .9 .25 -1.3 .25 1.4 .25 -1.1 .25 .8 .25 -.8 .25 .9 .25 -.6 .25 .8 .25 -.9 .25 1 .25 -1.5 .25 1.9 .25 -1.6 .25 1.6 .25 -1.1 .25 1.2 .25 -1 .25 .6 .25 -.6 .25 .8 .25 -1 .25 1.5 .25 -1.5 .25 1.7 .25 -1.2 .25 .9 .25 -1.5 .25 1.5 .25 -1.4 .25 .6 .25 -.7 .25 1.4 .25 -1.2 .25 1.5 .25 -1.6 .25 1.3 .25 -.9 .25 1.4 .25 -1.6" fill="none" stroke="#000" stroke-width="0.6" stroke-linejoin="bevel"/>
<path d="M239.00,251.38l.25 -.9 .25 2.5 .25 -1.6 .25 1.5 .25 -1.9 .25 1.1 .25 -.9 .25 2.5 .25 -2.8 .25 3.1 .25 -1.5 .25 1.5 .25 -1.8 .25 2.2 .25 -2.5 .25 2.8 .25 -2.8 .25 3.1 .25 -1.7 .25 1.2 .25 -.7 .25 1 .25 -1.6 .25 2.8 .25 -1.6 .25 1.3 .25 -1.1 .25 1.3 .25 -.5 .25 1.2 .25 -1.8 .25 1.5 .25 -1.9 .25 2.4 .25 -.8 .25 1.1 .25 -2 .25 2.5 .25 -1.8 .25 .9 .25 -.6 .25 1 .25 -1.4 .25 1.7 .25 -1.8 .25 2.5 .25 -2.2 .25 2.7 .25 -1.7 .25 1.5 .25 -2 .25 1.7 .25 -1.4 .25 2 .25 -2 .25 2.4 .25 -1.3 .25 1.4 .25 -2.3 .25 2.2 .25 -2.1 .25 2.5 .25 -2 .25 1.7 .25 -2.3 .25 3.3 .25 -2.8 .25 1.2 .25 -1.2 .25 1.6 .25 -1.2 .25 1.5 .25 -1.4 .25 2.1 .25 -2.6 .25 2.3 .25 -1.2 .25 1.1 .25 -1.4 .25 1.3 .25 -1.8 .25 1.5 .25 -.8 .25 1.7 .25 -2.3 .25 2.5 .25 -3 .25 2.8 .25 -2.3 .25 2.4 .25 -3.7 .25 2.2 .25 -1.2 .25 1.3 .25 -.7 .25 1.2 .25 -1.2 .25 1.6 .25 -2.3 .25 1.8 .25 -1.6 .25 2.5 .25 -2.2 .25 2 .25 -2.8 .25 2.2 .25 -1.1 .25 .5 .25 -1 .25 2.5 .25 -2.7 .25 2.6 .25 -2.9 .25 2.2 .25 -1.6 .25 1.1 .25 -1.3 .25 1.7 .25 -1.4 .25 1.6 .25 -1.7 .25 1.9 .25 -1.4 .25 1.1 .25 -1.4 .25 2.1 .25 -2.6 .25 2 .25 -1.7 .25 1.5 .25 -1.7 .25 1.9 .25 -1.8 .25 1.2 .25 -.8 .25 1.7 .25 -2.4 .25 1.8 .25 -2.3 .25 1.6 .25 -.2 .25 1.2 .25 -2.1 .25 1.8 .25 -1.3 .25 1.2 .25 -.8 .25 1.7 .25 -1.9 .25 2.6 .25 -2.9 .25 2.6 .25 -2.3 .25 2.1 .25 -1.8 .25 .6 .25 -.4 .25 1.6 .25 -2 .25 1.1 .25 -1.6 .25 2.2 .25 -1.3 .25 1.1 .25 -1.4 .25 .8 .25 -1.8 .25 2.7 .25 -1.4 .25 1.3 .25 -1.2 .25 1.2 .25 -1.5 .25 1.3 .25 -.2 .25 .7 .25 -1.4 .25 1.4 .25 -1.3 .25 1.5 .25 -1.3 .25 1.4 .25 -2.2 .25 2.9 .25 -2.2 .25 2.5 .25 -2 .25 .9 .25 -.7 .25 1.1 .25 -1.7 .25 1.6 .25 -2.4 .25 3.1 .25 -2.6 .25 1.6 .25 -1.5 .25 2.5 .25 -1.4 .25 .8 .25 -1.5 .25 1.1 .25 -1.2 .25 2.4 .25 -3.2 .25 2.5 .25 -1.9 .25 2.4 .25 -2.1 .25 1.4 .25 -1.4 .25 1.4 .25 -2.5 .25 2.5 .25 -1.5 .25 2.3 .25 -1.9 .25 .6 .25 -1.1 .25 1.8 .25 -1 .25 .5 .25 -.5 .25 .9 .25 -1.2 .25 1.2 .25 -2.3 .25 2.6 .25 -2.2 .25 2.5 .25 -3.3 .25 2.9 .25 -1.6 .25 1.6 .25 -2.3 .25 1.8 .25 -1.3 .25 1.9 .25 -2.4 .25 2.4 .25 -1.8 .25 1.8 .25 -1.6 .25 1.6 .25 -2.3 .25 1.7 .25 -1.6 .25 2.1 .25 -2.7 .25 2 .25 -.8 .25 1.2 .25 -2.3 .25 2.7 .25 -2.3 .25 1.2 .25 -1.3 .25 1.7 .25 -1 .25 2.2 .25 -3.2 .25 2.5 .25 -1.8 .25 2 .25 -2.6 .25 2.4 .25 -1.5 .25 .9 .25 -1 .25 1.3 .25 -1.8 .25 1.7 .25 -1.3 .25 .2 .25 -.7 .25 1.9 .25 -2.8 .25 2.4 .25 -1.3 .25 .8 .25 -.6 .25 1.4 .25 -1.5 .25 .7 .25 -.6 .25 2 .25 -1.8 .25 1.3 .25 -1.4 .25 .9 .25 -.4 .25 .7 .25 -1.6 .25 2.5 .25 -2.4 .25 1.6 .25 -2.3 .25 2.8 .25 -2.1 .25 1.4 .25 -2.3 .25 1.5 .25 -.6 .25 1.4 .25 -1.5 .25 1.9 .25 -2.1 .25 2.2 .25 -2.9 .25 3.3 .25 -3 .25 2.2 .25 -1.4 .25 1.7 .25 -2.1 .25 1.5 .25 -1 .25 1.7 .25 -2.2 .25 1.3 .25 -2 .25 3.3 .25 -2.5 .25 1.5 .25 -1.2 .25 1.4 .25 -1.3 .25 1.8 .25 -1.7 .25 1.6 .25 -1.6 .25 1.2 .25 -1.4 .25 2.1 .25 -2.4 .25 2.3 .25 -1.5 .25 2 .25 -2.7 .25 1.6 .25 -1.3 .25 1.5 .25 -1.9 .25 1.9 .25 -2 .25 2.2 .25 -2.3 .25 1.7 .25 -1 .25 .4 .25 -0 .25 1.1 .25 -2 .25 1.3 .25 -1.6 .25 2.4 .25 -2.6 .25 3.2 .25 -2.4 .25 2.2 .25 -2.1 .25 1.2 .25 -1.4 .25 1.6 .25 -.8 .25 .9 .25 -.6 .25 1 .25 -1.5 .25 1.1 .25 -1.9 .25 1.4 .25 -.9 .25 1.2 .25 -1.9 .25 2.6 .25 -1.9 .25 1.5 .25 -1.9 .25 1.4 .25 -1.8 .25 2.1 .25 -2.5 .25 2.4 .25 -1.6 .25 1.6 .25 -2.3 .25 1.8 .25 -1.8 .25 1.8 .25 -2.4 .25 3.1 .25 -2.4 .25 1.3 .25 -.7 .25 1.5 .25 -1.9 .25 2.1 .25 -1.9 .25 2.4 .25 -2.6 .25 2.1 .25 -2.9 .25 2.2 .25 -.5 .25 .8 .25 -1.5 .25 1.6 .25 -.8 .25 1 .25 -1.9 .25 2.8 .25 -3 .25 2.5 .25 -1.9 .25 1.9 .25 -1.3 .25 1.4 .25 -2.6 .25 2.6 .25 -1.9 .25 .5 .25 -.7 .25 2.2 .25 -2.7 .25 1.6 .25 -1.2 .25 1.8 .25 -1.8 .25 1.4 .25 -1.3 .25 1.4 .25 -2.3 .25 2.2 .25 -1.3 .25 2 .25 -1.9 .25 1.2 .25 -1 .25 1 .25 -1.3 .25 1.8 .25 -1.6 .25 1.5 .25 -2.2 .25 2.3 .25 -2 .25 1.6 .25 -1 .25 .8 .25 -1.3 .25 1.3 .25 -1.6 .25 1.9 .25 -2.3 .25 2.2 .25 -2.3 .25 2.8 .25 -2.5 .25 2 .25 -1.6 .25 1.9 .25 -2 .25 2 .25 -1.3 .25 .9 .25 -1.7 .25 2.1 .25 -1.9 .25 2.2 .25 -2 .25 0 .25 0 .25 1.5 .25 -1 .25 .3 .25 -1.5 .25 1.9 .25 -1.8 .25 2 .25 -2 .25 2.7 .25 -2.4 .25 2.7 .25 -2.2 .25 1.9 .25 -2 .25 1.1 .25 -.8 .25 1.7 .25 -2.8 .25 2.4 .25 -.9 .25 .2 .25 -1.1 .25 2.1 .25 -1.7 .25 1.6 .25 -1.7 .25 2.2 .25 -1.4 .25 .9 .25 -2 .25 2 .25 -1.6 .25 2 .25 -2.6 .25 2.9 .25 -2.3 .25 1.9 .25 -1.4 .25 2.2 .25 -2.2 .25 1.1 .25 -.4 .25 1.4 .25 -2.6 .25 2.3 .25 -.8 .25 .2 .25 -.6 .25 1.1 .25 -2.2 .25 1.6 .25 -.6 .25 .8 .25 -.7 .25 1.4 .25 -1.9 .25 1.4 .25 -1.6 .25 1 .25 -1.2 .25 1.9 .25 -.7 .25 .7 .25 -1.9 .25 2.5 .25 -2.4 .25 2 .25 -2.4 .25 2.7 .25 -1.8 .25 2.1 .25 -3 .25 2.6 .25 -2 .25 1.8 .25 -2.2 .25 1.2 .25 -1 .25 2.2 .25 -2.7 .25 2.3 .25 -1.3 .25 1 .25 -1.5 .25 1.8 .25 -2 .25 2.5 .25 -1.3 .25 .8 .25 -1.4 .25 1.5 .25 -1.8 .25 2.1 .25 -1.4 .25 1.4 .25 -2.1 .25 1.8 .25 -1.6 .25 2 .25 -2 .25 .9 .25 -1.8 .25 2.3 .25 -1.1 .25 1.1 .25 -1.7 .25 1.1 .25 -1.3 .25 2.7 .25 -2 .25 1.1 .25 -.7 .25 .5 .25 -1.6 .25 1.7 .25 -1.9 .25 2.5 .25 -2 .25 1.6 .25 -1.5 .25 1.7 .25 -2.2 .25 1.8 .25 -1.7 .25 1.5 .25 -1.6 .25 3 .25 -3.1 .25 2.4 .25 -1 .25 .5 .25 -1.3 .25 1.3 .25 -1.1 .25 1.4 .25 -1.9 .25 1.6 .25 -1.2 .25 .9 .25 -1.4 .25 2.5 .25 -1.2 .25 1.6 .25 -3.1 .25 1.7 .25 -2 .25 3.1 .25 -2.5 .25 2.3 .25 -1.8 .25 1.6 .25 -1.9 .25 1.3 .25 -1.8 .25 1.9 .25 -1.3 .25 1.2 .25 -1.9 .25 2.3 .25 -1.8 .25 1.6 .25 -2.4 .25 2.2 .25 -1.9 .25 1.4 .25 -.5 .25 1.1 .25 -1.5 .25 1.6 .25 -.5 .25 1.1 .25 -1.5 .25 1 .25 -2.9 .25 2.9 .25 -2.2 .25 2.4 .25 -1.5 .25 1.9 .25 -2.8 .25 2.3 .25 -1.5 .25 2.3 .25 -2.9 .25 1.5 .25 -1.9 .25 1.4 .25 -1 .25 2.1 .25 -2.8 .25 3.3 .25 -2.2 .25 1.5 .25 -1.4 .25 1.9 .25 -2.6 .25 1.4 .25 -1 .25 1.3 .25 -.8 .25 1 .25 -1.8 .25 1.5 .25 -1.6 .25 2.4 .25 -2 .25 1.4 .25 -1.4 .25 1.8 .25 -2.1 .25 2.6 .25 -2.1 .25 1.7 .25 -1.6 .25 1.9 .25 -1.7 .25 2 .25 -2.2 .25 2.8 .25 -2.3 .25 1 .25 -.8 .25 1 .25 -1.6 .25 1.5 .25 -1.2 .25 1.5 .25 -1.3 .25 1.3 .25 -1.7 .25 2.3 .25 -2.6 .25 1.5 .25 -1.9 .25 2.7 .25 -1.4 .25 1.6 .25 -2 .25 1.5 .25 -1.4 .25 .9 .25 -.6 .25 .9 .25 -1.6 .25 2.5 .25 -2.3 .25 1.9 .25 -1.6 .25 1.6 .25 -1.7 .25 2 .25 -1.7 .25 1 .25 .1 .25 -.1 .25 -.8 .25 1.4 .25 -1.5 .25 .8 .25 -1 .25 1.8 .25 -1.7 .25 1 .25 -1.5 .25 2.2 .25 -1.8 .25 2 .25 -1.7 .25 1.8 .25 -2.4 .25 2.3 .25 -2.7 .25 1.6 .25 -1.2 .25 1.6 .25 -2 .25 1.6 .25 -2.1 .25 2.3 .25 -1.1 .25 1.3 .25 -1.6 .25 2.3 .25 -2 .25 1.4 .25 -1.5 .25 1.1 .25 -.8 .25 1.1 .25 -1 .25 1.5 .25 -2.2 .25 1.8 .25 -1.3 .25 1.8 .25 -1.4 .25 1.2 .25 -1.5 .25 1.3 .25 -1.7 .25 1.7 .25 -.9 .25 .6 .25 -1.9 .25 1.8 .25 -1.9 .25 1.9 .25 -1.5 .25 2.1 .25 -2.1 .25 1.5 .25 -1.4 .25 1.2 .25 -1.2 .25 1.5 .25 -1.6 .25 1.9 .25 -2.4 .25 2.4 .25 -1.7 .25 .5 .25 -1 .25 1.5 .25 -2 .25 2.1 .25 -2.2 .25 2.2 .25 -1.9 .25 1.4 .25 -1.5 .25 1.8 .25 -2.4 .25 1.9 .25 -1.4 .25 1.9 .25 -2 .25 1.8 .25 -1.6 .25 1.2 .25 -.8 .25 1.8 .25 -2.9 .25 1.9 .25 -1 .25 2.4 .25 -3.2 .25 2.2 .25 -1.4 .25 2 .25 -2.6 .25 1.8 .25 -1.9 .25 2.1 .25 -1.6 .25 1.2 .25 -1 .25 .9 .25 -1.3 .25 1.8 .25 -1.6 .25 1.4 .25 -2.1 .25 1.9 .25 -1.7 .25 2.1 .25 -2.1 .25 1.8 .25 -1.4 .25 1.6 .25 -1.3 .25 1.8 .25 -3.1 .25 2.6 .25 -1.1 .25 .7 .25 -.5 .25 1.2 .25 -1.7 .25 1.2 .25 -1.1 .25 1.4 .25 -1.5 .25 2.3 .25 -2.3 .25 2.1 .25 -1.6 .25 1.6 .25 -2 .25 1.4 .25 -1.4 .25 2.3 .25 -1.2 .25 2 .25 -3 .25 1.1 .25 .3 .25 .7 .25 -1.4 .25 1.6 .25 -1.8 .25 2.2 .25 -2.3 .25 2.1 .25 -2.4 .25 2 .25 -1.8 .25 1.9 .25 -1.8 .25 1.8 .25 -1.1 .25 .3 .25 -1.7 .25 1.8 .25 -1.2 .25 1.1 .25 -1.1 .25 2.2 .25 -1.6 .25 .6 .25 -1.4 .25 1 .25 -.3 .25 .7 .25 -1 .25 1.9 .25 -2.8 .25 2.2 .25 -2 .25 1.5 .25 -1.5 .25 2 .25 -1.7 .25 1.9 .25 -1.2 .25 1.8 .25 -2.7 .25 2.4 .25 -1.6 .25 2 .25 -1.4 .25 1.1 .25 -1.7 .25 1.2 .25 -1.8 .25 1.6 .25 -1.3 .25 1.4 .25 -2.6 .25 3 .25 -2.4 .25 1.9 .25 -1.8 .25 1.6 .25 -1.7 .25 2.1 .25 -1.8 .25 2.2 .25 -1.9 .25 1.5 .25 -1.3 .25 1.3 .25 -2 .25 2 .25 -.7 .25 .9 .25 -2 .25 2.5 .25 -2.4 .25 1.9 .25 -1.9 .25 2 .25 -1.4 .25 1.6 .25 -2.3 .25 1.8 .25 -1 .25 1.3 .25 -1.2 .25 1.1 .25 -1.8 .25 2.1 .25 -1.6 .25 1.9 .25 -2.7 .25 2.1 .25 -2 .25 3.2 .25 -2.3 .25 1.6 .25 -2.1 .25 1.9 .25 -1.8 .25 1.7 .25 -1.6 .25 2.3 .25 -1.8 .25 1 .25 -2 .25 2.6 .25 -2.3 .25 2.2 .25 -2.1 .25 1.5 .25 -1.3 .25 1.8 .25 -1.2 .25 .8 .25 -1.1 .25 1.9 .25 -2.3 .25 2.4 .25 -1.7 .25 .6 .25 -.9 .25 1.8 .25 -1.7 .25 1.8 .25 -1.9 .25 .8 .25 -1 .25 1.8 .25 -2.2 .25 1.9 .25 -1.7 .25 1.6 .25 -1.3 .25 .9 .25 -1.1 .25 2.3 .25 -2.5 .25 1.7 .25 -1 .25 .9 .25 -1.3 .25 2 .25 -2.1 .25 2.4 .25 -2.2 .25 .9 .25 -1.9 .25 2.1 .25 -2.2 .25 2.1 .25 -1.4 .25 1.6 .25 -2.1 .25 1.6 .25 -1.3 .25 2.2 .25 -1.4 .25 1.2 .25 -1.3 .25 2.1 .25 -3.2 .25 2.2 .25 -2.6 .25 2.4 .25 -1.6 .25 2.1 .25 -2.4 .25 2.5 .25 -1.9 .25 1.9 .25 -1.8 .25 1.5 .25 -2 .25 1.5 .25 -1.8 .25 1.9 .25 -.6 .25 1.5 .25 -2.5 .25 2 .25 -1.4 .25 2.5 .25 -3 .25 1.3 .25 -1.3 .25 2.4 .25 -1.6 .25 1.7 .25 -1.5 .25 .9 .25 -2 .25 2.7 .25 -2.4 .25 2.3 .25 -1.9 .25 1.7 .25 -2.1 .25 1.3 .25 -1.1 .25 2 .25 -2.1 .25 2.3 .25 -2.6 .25 2.9 .25 -1.8 .25 1.3 .25 -1.1 .25 .7 .25 -1.8 .25 3.2 .25 -3 .25 2.6 .25 -2.5 .25 2 .25 -1.7 .25 2.2 .25 -1.9 .25 1.6 .25 -2 .25 2.9 .25 -3.3 .25 2.7 .25 -2.6 .25 2.1 .25 -.7 .25 .6 .25 -.9 .25 2.2 .25 -3.1 .25 1.7 .25 -1.4 .25 1.8 .25 -1.5 .25 2 .25 -2.6 .25 2.1 .25 -1.2 .25 1.4 .25 -2.4 .25 2 .25 -1.6 .25 1.4 .25 -2.3 .25 3.4 .25 -2.9 .25 2 .25 -1.4 .25 2 .25 -2 .25 1.6 .25 -2.5 .25 2.4 .25 -1.9 .25 2.6 .25 -2.3 .25 1 .25 -1.7 .25 2.1 .25 -1 .25 1.3 .25 -2.6 .25 3 .25 -2.6 .25 1.7 .25 -1.5 .25 1.6 .25 -1.3 .25 1 .25 -1.1 .25 1.6 .25 -1.6 .25 2 .25 -2.5 .25 2.1 .25 -1.7 .25 1.3 .25 -1.1 .25 1.3 .25 -2.5 .25 2.7 .25 -1.4 .25 1.4 .25 -2.1 .25 1.8 .25 -1.6 .25 1.9 .25 -1.6 .25 1.2 .25 -1.3 .25 .7 .25 -1.2 .25 2.9 .25 -2.6 .25 1.9 .25 -1.5 .25 1.2 .25 -1.6 .25 2.1 .25 -2.4 .25 2.4 .25 -2.6 .25 2.1 .25 -1.2 .25 1.1 .25 -.9 .25 1 .25 -2.2 .25 2.4 .25 -2.2 .25 2.3 .25 -1.9 .25 1.6 .25 -1 .25 .7 .25 -1.6 .25 2.1 .25 -2 .25 2.1 .25 -1.6 .25 1.6 .25 -2.6 .25 2.4 .25 -1.5 .25 .9 .25 -.5 .25 1.3 .25 -2.1 .25 2.4 .25 -2.6 .25 1.4 .25 -.5 .25 1.7 .25 -2.3 .25 1.6 .25 -.8 .25 1 .25 -2.2 .25 2.1 .25 -1.1 .25 1.2 .25 -1.7 .25 1.8 .25 -1.8 .25 2.5 .25 -2.6 .25 1.8 .25 -1.2 .25 1.2 .25 -.7 .25 1.2 .25 -1.8 .25 2 .25 -1.9 .25 2.3 .25 -3 .25 1.8 .25 -1.9 .25 2.1 .25 -2.9 .25 .2 .25 -2.4 .25 -2.9 .25 4.5 .25 -.2 .25 -1.5 .25 2.9 .25 -1.6 .25 1.4 .25 -2.1 .25 .9 .25 -2 .25 2.2 .25 -3 .25 2.3 .25 -1.8 .25 2 .25 -.7 .25 1.1 .25 -1.4 .25 2.1 .25 -1.7 .25 2.7 .25 -1.8 .25 1.9 .25 -1.5 .25 1.6 .25 -1.6 .25 2 .25 -2.1 .25 1.9 .25 -1 .25 -19.5 .25 13.6 .25 7.8 .25 -2.4 .25 2.1 .25 -1.4 .25 1 .25 -.9 .25 1.4 .25 -2 .25 -10.2 .25 7.8 .25 4.9 .25 -2.9 .25 2.3 .25 -1.4 .25 1.8 .25 -1.8 .25 2.3 .25 -2.3 .25 2.4 .25 -1.7 .25 1.2 .25 -.7 .25 2.6 .25 -2.8 .25 1.6 .25 -2.2 .25 1.7 .25 -1 .25 1.8 .25 -1.7 .25 1.7 .25 -3 .25 3.3 .25 -1.9 .25 1.5 .25 -1.9 .25 1.9 .25 -2.2 .25 1.3 .25 -1.5 .25 2.1 .25 -1 .25 1.7 .25 -2.9 .25 2.1 .25 -2.2 .25 2.2 .25 -.9 .25 .7 .25 -.9 .25 1.4 .25 -1.8 .25 1.7 .25 -2 .25 2 .25 -1.6 .25 1.7 .25 -.6 .25 .9 .25 -1.5 .25 -12.1 .25 7.8 .25 4.8 .25 -2.6 .25 1.1 .25 -2.4 .25 1.6 .25 -2.7 .25 1 .25 -2.3 .25 2.6 .25 -1.2 .25 2.4 .25 -1.5 .25 1.5 .25 -1.1 .25 2 .25 -1.3 .25 1.5 .25 -1.9 .25 1.9 .25 -18.2 .25 12.4 .25 4.5 .25 2 .25 -3.3 .25 -0 .25 -3 .25 -.3 .25 -1.6 .25 3.2 .25 0 .25 1.8 .25 -1.6 .25 1.5 .25 -.3 .25 1.4 .25 -1 .25 1.6 .25 -1.2 .25 2.5 .25 -1.4 .25 1.1 .25 -1.5 .25 1.9 .25 -.5 .25 .6 .25 -1.8 .25 2.3 .25 -1.6 .25 1.4 .25 -1 .25 1.1 .25 -2 .25 2 .25 -1.3 .25 1.6 .25 -2.2 .25 2.3 .25 -2 .25 1.7 .25 -1.5 .25 1.9 .25 -2.6 .25 2.6 .25 -1.1 .25 1.5 .25 -2.7 .25 2.6 .25 -2.3 .25 1.9 .25 -1.9 .25 2.2 .25 -3.2 .25 4.1 .25 -2.6 .25 1.6 .25 -2.3 .25 2.5 .25 -2.2 .25 1.2 .25 -2 .25 1.4 .25 -2.8 .25 .7 .25 -.1 .25 1.8 .25 -1.3 .25 1.1 .25 -.6 .25 1.6 .25 -2.1 .25 2 .25 -3.1 .25 3.3 .25 -1.6 .25 1 .25 -.9 .25 2 .25 -2.7 .25 3 .25 -1.8 .25 1.4 .25 -2 .25 3 .25 -2.9 .25 3.2 .25 -3.1 .25 2.7 .25 -1.9 .25 1.1 .25 -.7 .25 1.8 .25 -1.6 .25 1.6 .25 -2.5 .25 2.3 .25 -2.2 .25 1.5 .25 -1.9 .25 2.4 .25 -.6 .25 .7 .25 -1.9 .25 2.4 .25 -2.8 .25 2 .25 -2.5 .25 2.4 .25 -1.1 .25 1.7 .25 -2.6 .25 1.8 .25 -1.8 .25 2.6 .25 -2 .25 1.2 .25 -1.4 .25 1.7 .25 -2 .25 2.1 .25 -2.5 .25 .4 .25 -1.2 .25 .2 .25 -.5 .25 1.9 .25 -2.5 .25 2.2 .25 -1.7 .25 2.2 .25 -1.2 .25 1.7 .25 -1.3 .25 1.2 .25 -1.5 .25 2.3 .25 -1.6 .25 1.4 .25 -.7 .25 .8 .25 -2.7 .25 3 .25 -1.9 .25 1.6 .25 -1.1 .25 .9 .25 -1.5 .25 1.3 .25 -1.8 .25 2 .25 -1.6 .25 1.4 .25 -1 .25 1.8 .25 -1.8 .25 2.5 .25 -2.6 .25 1.7 .25 -1.5 .25 2.2 .25 -2 .25 1.2 .25 -1 .25 1.1 .25 -.6 .25 1.5 .25 -2.3 .25 1.9 .25 -1.2 .25 .7 .25 -.9 .25 1.8 .25 -1.8 .25 1.6 .25 -1.4 .25 .8 .25 -.8 .25 1.6 .25 -2.1 .25 1.2 .25 -1.5 .25 1.9 .25 -1.6 .25 1.1 .25 -1.8 .25 2.1 .25 -1.1 .25 2.2 .25 -2.1 .25 1.7 .25 -1.6 .25 2.2 .25 -1.5 .25 .8 .25 -1.1 .25 1.9 .25 -2.6 .25 1.6 .25 -1.9 .25 2.3 .25 -2.7 .25 2.1 .25 -3.1 .25 .5 .25 -.6 .25 1.6 .25 -2.4 .25 2.4 .25 -1.1 .25 1.9 .25 -1.7 .25 2 .25 -2.5 .25 3.2 .25 -1.9 .25 1.8 .25 -1.6 .25 1.5 .25 -.7 .25 1.2 .25 -2.5 .25 1.8 .25 -1.9 .25 2.7 .25 -2.1 .25 2.1 .25 -2.1 .25 2.2 .25 -2.6 .25 2.3 .25 -2.1 .25 1.9 .25 -1.2 .25 1.9 .25 -2 .25 .8 .25 -1.3 .25 2.2 .25 -1.8 .25 1.4 .25 -1.5 .25 1.7 .25 -2.3 .25 1.8 .25 -1.9 .25 2 .25 -2.2 .25 2.8 .25 -2.1 .25 2.2 .25 -2.1 .25 1.3 .25 -1.5 .25 2.5 .25 -2.3 .25 1.8 .25 -1.9 .25 1.8 .25 -2.4 .25 2.3 .25 -2.7 .25 .7 .25 -2 .25 .2 .25 -1.1 .25 2 .25 -1.1 .25 1.7 .25 -1.8 .25 1.8 .25 -1.1 .25 1.3 .25 -.5 .25 2.3 .25 -2.3 .25 2.4 .25 -2.4 .25 2 .25 -1.6 .25 1.8 .25 -1.7 .25 1.9 .25 -1.2 .25 .7 .25 -2.1 .25 3.1 .25 -2.1 .25 2.2 .25 -1.6 .25 .6 .25 -1.5 .25 2.1 .25 -1.8 .25 1 .25 -1.5 .25 2.6 .25 -2.1 .25 2 .25 -1.4 .25 .7 .25 -1.1 .25 2.2 .25 -2.6 .25 1.7 .25 -1.8 .25 2.1 .25 -1.8 .25 1.5 .25 -1.7 .25 1.3 .25 -1.1 .25 2.1 .25 -2.3 .25 2.6 .25 -2.4 .25 1.1 .25 -1.4 .25 2 .25 -2.8 .25 2.4 .25 -3.5 .25 2 .25 -3.1 .25 2 .25 -2.4 .25 3.5 .25 -2.5 .25 2.1 .25 -1.2 .25 1.4 .25 -1.6 .25 1.4 .25 -.6 .25 1.3 .25 -1.4 .25 1.5 .25 -1.5 .25 1.2 .25 -.8 .25 1.9 .25 -2.5 .25 2.9 .25 -2.2 .25 1.1 .25 -1.1 .25 1.7 .25 -1.9 .25 2.3 .25 -1.8 .25 1.4 .25 -.7 .25 .8 .25 -1.4 .25 2.2 .25 -2 .25 2 .25 -2.6 .25 2.4 .25 -1.8 .25 1.5 .25 -1.5 .25 1.9 .25 -1 .25 1.5 .25 -3.2 .25 1.2 .25 -2.2 .25 -.1 .25 -.9 .25 2.1 .25 -1.6 .25 1.8 .25 -1.2 .25 2.3 .25 -1.6 .25 1.7 .25 -1.2 .25 1.1 .25 -1.2 .25 1.7 .25 -1.7 .25 1.7 .25 -2 .25 2.5 .25 -1.3 .25 1 .25 -.5 .25 1 .25 -2.8 .25 .9 .25 -2 .25 .9 .25 -.7 .25 1.5 .25 -1.7 .25 2.5 .25 -1.3 .25 1.5 .25 -1.3 .25 1.5 .25 -1.4 .25 2 .25 -1 .25 .7 .25 -0 .25 1 .25 -1.6 .25 1.3 .25 -1.7 .25 1.8 .25 -1.3 .25 1.6 .25 -2.6 .25 2.6 .25 -2 .25 1.5 .25 -1.6 .25 1.7 .25 -2.5 .25 2.7 .25 -10.8 .25 1.8 .25 -1.6 .25 1.4 .25 -2 .25 2.3 .25 -2.1" fill="none" stroke="#000" stroke-width="0.6" stroke-linejoin="bevel"/>
<ellipse cx="325.1" cy="82.9" rx="6" ry="20.5" fill="none" stroke="#f07080" stroke-width="0.8"/>
<ellipse cx="339.9" cy="83.2" rx="5.3" ry="20.8" fill="none" stroke="#f07080" stroke-width="0.8"/>
<ellipse cx="592.3" cy="86.9" rx="4" ry="12.5" fill="none" stroke="#f07080" stroke-width="0.8"/>
<ellipse cx="587.1" cy="148.8" rx="4.7" ry="14.2" fill="none" stroke="#f07080" stroke-width="0.8"/>
<ellipse cx="575.5" cy="251.5" rx="4" ry="18.5" fill="none" stroke="#f07080" stroke-width="0.8"/>
<line x1="623.70" y1="110.30" x2="623.70" y2="133.20" stroke="#333" stroke-width="1" />
<text x="628.30" y="118.40" font-size="14.6" text-anchor="start" fill="#1e1e1e" stroke="#1e1e1e" stroke-width="0.22" >0.5</text>
<text x="627.80" y="138.60" font-size="14.6" text-anchor="start" fill="#1e1e1e" stroke="#1e1e1e" stroke-width="0.22" >ΔF/F<tspan font-size="9" dy="3">0</tspan></text>
<line x1="622.00" y1="170.20" x2="634.10" y2="170.20" stroke="#555" stroke-width="1.2" />
<text x="619.60" y="186.30" font-size="14.6" text-anchor="start" fill="#1e1e1e" stroke="#1e1e1e" stroke-width="0.22" >10s</text>
<line x1="27.00" y1="329.00" x2="66.50" y2="329.00" stroke="#111" stroke-width="1" />
<line x1="27.00" y1="345.30" x2="66.50" y2="345.30" stroke="#7ac143" stroke-width="1.3" />
<text x="73.60" y="333.20" font-size="15.25" text-anchor="start" fill="#1e1e1e" stroke="#1e1e1e" stroke-width="0.22" >baseline (22)</text>
<text x="73.60" y="350.40" font-size="15.25" text-anchor="start" fill="#1e1e1e" stroke="#1e1e1e" stroke-width="0.22" >10mM caffeine (22)</text>
<line x1="63.40" y1="421.80" x2="63.40" y2="458.60" stroke="#777" stroke-width="1" />
<line x1="23.10" y1="483.10" x2="59.60" y2="483.10" stroke="#888" stroke-width="1" />
<text x="54.40" y="433.20" font-size="15.3" text-anchor="end" fill="#1e1e1e" stroke="#1e1e1e" stroke-width="0.22" >0.02</text>
<text x="24.00" y="451.80" font-size="15.3" text-anchor="start" fill="#1e1e1e" stroke="#1e1e1e" stroke-width="0.22" >ΔF/F<tspan font-size="9.5" dy="3.5">0</tspan></text>
<text x="18.00" y="504.20" font-size="15.3" text-anchor="start" fill="#1e1e1e" stroke="#1e1e1e" stroke-width="0.22" >500ms</text>
<path d="M0.0,538.2 L2.6,529.9 L5.2,535.3 L7.8,533.5 L10.4,533.7 L13.0,534.1 L15.6,530.9 L18.2,534.1 L20.8,532.9 L23.4,540.5 L26.0,534.9 L28.6,533.9 L31.2,534.0 L33.8,533.3 L36.4,532.6 L39.0,533.8 L41.6,535.4 L44.2,534.1 L46.8,536.2 L49.4,534.1 L52.0,534.5 L54.6,537.3 L57.2,535.5 L59.8,533.6 L62.4,534.2 L65.0,535.5 L67.6,538.0 L70.2,534.0 L72.8,534.1 L75.4,536.3 L78.0,532.9 L80.6,534.0 L83.2,536.1 L85.8,535.5 L88.4,534.6 L91.0,535.7 L92.0,535.5 L93.6,529.2 L96.2,512.4 L98.8,491.3 L101.4,467.1 L101.7,464.2 L104.0,440.4 L106.6,411.6 L106.7,410.4 L109.2,380.9 L110.7,362.4 L111.8,377.4 L112.2,382.5 L113.7,400.3 L114.4,407.9 L117.0,432.3 L119.6,452.0 L122.2,467.8 L124.8,480.5 L127.4,490.7 L130.0,498.9 L132.6,505.5 L135.2,510.9 L137.8,516.2 L140.4,516.0 L143.0,522.0 L145.6,522.6 L148.2,527.7 L150.8,524.4 L153.4,527.8 L156.0,531.9 L158.6,533.7 L161.2,528.5 L163.8,532.1 L166.4,534.1 L169.0,532.9 L171.6,537.1 L174.2,532.4 L176.8,535.4 L179.4,533.0 L182.0,537.6 L184.6,535.1 L187.2,534.5 L189.8,532.2 L192.4,538.3 L195.0,536.7 L197.6,536.7 L200.2,537.4 L202.8,536.0 L205.4,534.3 L208.0,534.0 L210.6,534.0 L213.2,537.9 L215.8,532.8 L218.4,534.4 L221.0,534.9 L223.6,535.9 L226.2,536.5 L228.8,533.2 L231.4,532.4 L234.0,535.5 L234.0,541.5 L231.4,538.4 L228.8,539.2 L226.2,542.5 L223.6,541.9 L221.0,540.9 L218.4,540.4 L215.8,538.8 L213.2,543.9 L210.6,540.0 L208.0,540.0 L205.4,540.3 L202.8,542.0 L200.2,543.4 L197.6,542.7 L195.0,542.7 L192.4,544.3 L189.8,538.2 L187.2,540.5 L184.6,541.1 L182.0,543.6 L179.4,539.1 L176.8,541.5 L174.2,538.6 L171.6,543.4 L169.0,539.3 L166.4,540.7 L163.8,538.9 L161.2,535.6 L158.6,541.1 L156.0,539.7 L153.4,536.0 L150.8,533.0 L148.2,536.8 L145.6,532.1 L143.0,531.8 L140.4,526.1 L137.8,526.5 L135.2,521.3 L132.6,515.9 L130.0,509.1 L127.4,500.6 L124.8,490.0 L122.2,476.9 L119.6,460.7 L117.0,440.6 L114.4,415.7 L113.7,408.0 L112.2,390.0 L111.8,384.8 L110.7,369.6 L109.2,388.0 L106.7,417.3 L106.6,418.4 L104.0,447.0 L101.7,470.6 L101.4,473.6 L98.8,497.6 L96.2,518.6 L93.6,535.3 L92.0,541.5 L91.0,543.7 L88.4,542.7 L85.8,543.6 L83.2,544.1 L80.6,542.0 L78.0,540.9 L75.4,544.3 L72.8,542.1 L70.2,542.0 L67.6,546.0 L65.0,543.5 L62.4,542.2 L59.8,541.6 L57.2,543.5 L54.6,545.3 L52.0,542.5 L49.4,542.1 L46.8,544.2 L44.2,542.1 L41.6,543.4 L39.0,541.8 L36.4,540.6 L33.8,541.3 L31.2,542.0 L28.6,541.9 L26.0,542.9 L23.4,548.5 L20.8,540.9 L18.2,542.1 L15.6,538.9 L13.0,542.1 L10.4,541.7 L7.8,541.5 L5.2,543.3 L2.6,537.9 L0.0,546.2Z" fill="#a0a0a0" opacity="0.8"/>
<path d="M0.0,535.3 L2.6,536.3 L5.2,539.8 L7.8,538.1 L10.4,534.1 L13.0,537.2 L15.6,536.2 L18.2,537.8 L20.8,534.7 L23.4,538.2 L26.0,538.3 L28.6,540.9 L31.2,538.8 L33.8,539.3 L36.4,535.8 L39.0,542.7 L41.6,535.3 L44.2,540.9 L46.8,538.4 L49.4,537.6 L52.0,538.1 L54.6,538.3 L57.2,540.3 L59.8,539.5 L62.4,542.6 L65.0,536.7 L67.6,540.2 L70.2,538.7 L72.8,541.8 L75.4,536.8 L78.0,540.1 L80.6,541.2 L83.2,538.3 L85.8,542.9 L88.4,541.6 L91.0,543.2 L92.2,542.5 L93.6,536.8 L96.2,519.3 L98.8,497.0 L101.4,471.3 L101.9,466.0 L104.0,442.8 L106.6,412.1 L106.9,408.4 L109.2,379.3 L110.9,356.8 L111.8,367.1 L112.4,373.5 L113.9,388.7 L114.4,393.4 L117.0,415.6 L119.6,434.2 L122.2,449.9 L124.8,463.2 L127.4,474.3 L130.0,483.8 L132.6,491.7 L135.2,498.5 L137.8,504.6 L140.4,510.8 L143.0,514.7 L145.6,519.0 L148.2,520.6 L150.8,522.9 L153.4,525.8 L156.0,525.4 L158.6,531.0 L161.2,528.8 L163.8,529.2 L166.4,536.1 L169.0,533.0 L171.6,531.8 L174.2,537.9 L176.8,534.4 L179.4,537.3 L182.0,534.3 L184.6,535.6 L187.2,533.2 L189.8,533.0 L192.4,534.9 L195.0,536.6 L197.6,538.3 L200.2,541.3 L202.8,535.2 L205.4,538.9 L208.0,536.1 L210.6,537.0 L213.2,534.6 L215.8,534.6 L218.4,535.9 L221.0,535.2 L223.6,537.4 L226.2,536.1 L228.8,539.7 L231.4,537.7 L234.0,537.7 L234.0,543.7 L231.4,543.7 L228.8,545.7 L226.2,542.1 L223.6,543.4 L221.0,541.2 L218.4,541.9 L215.8,540.6 L213.2,540.6 L210.6,543.0 L208.0,542.1 L205.4,544.9 L202.8,541.2 L200.2,547.3 L197.6,544.3 L195.0,542.6 L192.4,540.9 L189.8,539.0 L187.2,539.2 L184.6,541.6 L182.0,540.3 L179.4,543.4 L176.8,540.5 L174.2,544.1 L171.6,538.1 L169.0,539.4 L166.4,542.7 L163.8,536.0 L161.2,535.9 L158.6,538.4 L156.0,533.1 L153.4,534.0 L150.8,531.5 L148.2,529.6 L145.6,528.5 L143.0,524.5 L140.4,520.9 L137.8,514.9 L135.2,508.9 L132.6,502.1 L130.0,493.9 L127.4,484.2 L124.8,472.7 L122.2,459.1 L119.6,442.9 L117.0,423.8 L114.4,401.2 L113.9,396.4 L112.4,381.1 L111.8,374.5 L110.9,364.2 L109.2,386.4 L106.9,415.3 L106.6,418.9 L104.0,449.4 L101.9,472.5 L101.4,477.7 L98.8,503.3 L96.2,525.5 L93.6,543.0 L92.2,548.5 L91.0,551.3 L88.4,549.6 L85.8,550.9 L83.2,546.3 L80.6,549.3 L78.0,548.1 L75.4,544.8 L72.8,549.8 L70.2,546.7 L67.6,548.2 L65.0,544.7 L62.4,550.6 L59.8,547.5 L57.2,548.3 L54.6,546.3 L52.0,546.1 L49.4,545.6 L46.8,546.4 L44.2,548.9 L41.6,543.3 L39.0,550.7 L36.4,543.8 L33.8,547.3 L31.2,546.8 L28.6,548.9 L26.0,546.3 L23.4,546.2 L20.8,542.7 L18.2,545.8 L15.6,544.2 L13.0,545.2 L10.4,542.1 L7.8,546.1 L5.2,547.8 L2.6,544.3 L0.0,543.3Z" fill="#a8dc88" opacity="0.8"/>
<polyline points="0.0,542.2 2.6,533.9 5.2,539.3 7.8,537.5 10.4,537.7 13.0,538.1 15.6,534.9 18.2,538.1 20.8,536.9 23.4,544.5 26.0,538.9 28.6,537.9 31.2,538.0 33.8,537.3 36.4,536.6 39.0,537.8 41.6,539.4 44.2,538.1 46.8,540.2 49.4,538.1 52.0,538.5 54.6,541.3 57.2,539.5 59.8,537.6 62.4,538.2 65.0,539.5 67.6,542.0 70.2,538.0 72.8,538.1 75.4,540.3 78.0,536.9 80.6,538.0 83.2,540.1 85.8,539.5 88.4,538.7 91.0,539.7 92.0,538.5 93.6,532.3 96.2,515.5 98.8,494.5 101.4,470.3 101.7,467.4 104.0,443.7 106.6,415.0 106.7,413.9 109.2,384.4 110.7,366.0 111.8,381.1 112.2,386.3 113.7,404.2 114.4,411.8 117.0,436.5 119.6,456.3 122.2,472.3 124.8,485.2 127.4,495.6 130.0,504.0 132.6,510.7 135.2,516.1 137.8,521.4 140.4,521.0 143.0,526.9 145.6,527.4 148.2,532.3 150.8,528.7 153.4,531.9 156.0,535.8 158.6,537.4 161.2,532.1 163.8,535.5 166.4,537.4 169.0,536.1 171.6,540.3 174.2,535.5 176.8,538.4 179.4,536.0 182.0,540.6 184.6,538.1 187.2,537.5 189.8,535.2 192.4,541.3 195.0,539.7 197.6,539.7 200.2,540.4 202.8,539.0 205.4,537.3 208.0,537.0 210.6,537.0 213.2,540.9 215.8,535.8 218.4,537.4 221.0,537.9 223.6,538.9 226.2,539.5 228.8,536.2 231.4,535.4 234.0,538.5" fill="none" stroke="#333" stroke-width="0.9" />
<polyline points="0.0,539.3 2.6,540.3 5.2,543.8 7.8,542.1 10.4,538.1 13.0,541.2 15.6,540.2 18.2,541.8 20.8,538.7 23.4,542.2 26.0,542.3 28.6,544.9 31.2,542.8 33.8,543.3 36.4,539.8 39.0,546.7 41.6,539.3 44.2,544.9 46.8,542.4 49.4,541.6 52.0,542.1 54.6,542.3 57.2,544.3 59.8,543.5 62.4,546.6 65.0,540.7 67.6,544.2 70.2,542.7 72.8,545.8 75.4,540.8 78.0,544.1 80.6,545.2 83.2,542.3 85.8,546.9 88.4,545.6 91.0,547.2 92.2,545.5 93.6,539.9 96.2,522.4 98.8,500.2 101.4,474.5 101.9,469.2 104.0,446.1 106.6,415.5 106.9,411.8 109.2,382.8 110.9,360.5 111.8,370.8 112.4,377.3 113.9,392.5 114.4,397.3 117.0,419.7 119.6,438.6 122.2,454.5 124.8,467.9 127.4,479.3 130.0,488.8 132.6,496.9 135.2,503.7 137.8,509.8 140.4,515.8 143.0,519.6 145.6,523.8 148.2,525.1 150.8,527.2 153.4,529.9 156.0,529.3 158.6,534.7 161.2,532.4 163.8,532.6 166.4,539.4 169.0,536.2 171.6,535.0 174.2,541.0 176.8,537.5 179.4,540.4 182.0,537.3 184.6,538.6 187.2,536.2 189.8,536.0 192.4,537.9 195.0,539.6 197.6,541.3 200.2,544.3 202.8,538.2 205.4,541.9 208.0,539.1 210.6,540.0 213.2,537.6 215.8,537.6 218.4,538.9 221.0,538.2 223.6,540.4 226.2,539.1 228.8,542.7 231.4,540.7 234.0,540.7" fill="none" stroke="#5cb82a" stroke-width="0.9" />
<line x1="314.50" y1="336.00" x2="314.50" y2="568.60" stroke="#262626" stroke-width="1" />
<line x1="314.50" y1="565.30" x2="317.10" y2="565.30" stroke="#262626" stroke-width="1" />
<text x="307.30" y="571.50" font-size="15.5" text-anchor="end" fill="#1e1e1e" stroke="#1e1e1e" stroke-width="0.22" >0</text>
<line x1="314.50" y1="513.20" x2="317.10" y2="513.20" stroke="#262626" stroke-width="1" />
<text x="307.30" y="519.40" font-size="15.5" text-anchor="end" fill="#1e1e1e" stroke="#1e1e1e" stroke-width="0.22" >20</text>
<line x1="314.50" y1="462.20" x2="317.10" y2="462.20" stroke="#262626" stroke-width="1" />
<text x="307.30" y="468.40" font-size="15.5" text-anchor="end" fill="#1e1e1e" stroke="#1e1e1e" stroke-width="0.22" >40</text>
<line x1="314.50" y1="410.80" x2="317.10" y2="410.80" stroke="#262626" stroke-width="1" />
<text x="307.30" y="417.00" font-size="15.5" text-anchor="end" fill="#1e1e1e" stroke="#1e1e1e" stroke-width="0.22" >60</text>
<line x1="314.50" y1="359.80" x2="317.10" y2="359.80" stroke="#262626" stroke-width="1" />
<text x="307.30" y="366.00" font-size="15.5" text-anchor="end" fill="#1e1e1e" stroke="#1e1e1e" stroke-width="0.22" >80</text>
<text x="0" y="0" font-size="15.55" text-anchor="middle" fill="#1e1e1e" stroke="#1e1e1e" stroke-width="0.22" transform="translate(262.60 451.00) rotate(-90)">Number of events</text>
<line x1="366.40" y1="330.40" x2="432.40" y2="330.40" stroke="#444" stroke-width="0.9" />
<line x1="366.40" y1="328.40" x2="366.40" y2="332.40" stroke="#444" stroke-width="0.9" />
<line x1="432.40" y1="328.40" x2="432.40" y2="332.40" stroke="#444" stroke-width="0.9" />
<text x="372.40" y="323.70" font-size="10.8" font-style="italic" fill="#222" textLength="46.5" lengthAdjust="spacingAndGlyphs">p=0.006,</text>
<text x="420.00" y="320.20" font-size="7.4" font-style="italic" fill="#222">(2)</text>
<line x1="380.30" y1="346.30" x2="417.10" y2="358.90" stroke="#d8d8d8" stroke-width="0.7" />
<line x1="380.30" y1="468.90" x2="417.10" y2="487.00" stroke="#d8d8d8" stroke-width="0.7" />
<line x1="380.30" y1="492.00" x2="417.10" y2="507.50" stroke="#d8d8d8" stroke-width="0.7" />
<line x1="380.30" y1="512.40" x2="417.10" y2="456.00" stroke="#d8d8d8" stroke-width="0.7" />
<line x1="380.30" y1="526.70" x2="417.10" y2="438.30" stroke="#d8d8d8" stroke-width="0.7" />
<line x1="380.30" y1="534.60" x2="417.10" y2="506.00" stroke="#d8d8d8" stroke-width="0.7" />
<line x1="380.30" y1="536.00" x2="417.10" y2="518.00" stroke="#d8d8d8" stroke-width="0.7" />
<line x1="380.30" y1="540.00" x2="417.10" y2="493.00" stroke="#d8d8d8" stroke-width="0.7" />
<line x1="380.30" y1="544.00" x2="417.10" y2="510.50" stroke="#d8d8d8" stroke-width="0.7" />
<line x1="380.30" y1="545.50" x2="417.10" y2="509.00" stroke="#d8d8d8" stroke-width="0.7" />
<line x1="380.30" y1="547.00" x2="417.10" y2="514.00" stroke="#d8d8d8" stroke-width="0.7" />
<line x1="380.30" y1="548.00" x2="417.10" y2="512.00" stroke="#d8d8d8" stroke-width="0.7" />
<line x1="380.30" y1="550.00" x2="417.10" y2="522.00" stroke="#d8d8d8" stroke-width="0.7" />
<line x1="380.30" y1="552.00" x2="417.10" y2="520.00" stroke="#d8d8d8" stroke-width="0.7" />
<line x1="380.30" y1="554.80" x2="417.10" y2="516.00" stroke="#d8d8d8" stroke-width="0.7" />
<line x1="380.30" y1="555.50" x2="417.10" y2="537.20" stroke="#d8d8d8" stroke-width="0.7" />
<line x1="380.30" y1="556.50" x2="417.10" y2="535.00" stroke="#d8d8d8" stroke-width="0.7" />
<line x1="380.30" y1="557.00" x2="417.10" y2="527.00" stroke="#d8d8d8" stroke-width="0.7" />
<line x1="380.30" y1="557.70" x2="417.10" y2="543.40" stroke="#d8d8d8" stroke-width="0.7" />
<line x1="380.30" y1="558.00" x2="417.10" y2="524.00" stroke="#d8d8d8" stroke-width="0.7" />
<line x1="380.30" y1="558.50" x2="417.10" y2="553.50" stroke="#d8d8d8" stroke-width="0.7" />
<line x1="380.30" y1="559.00" x2="417.10" y2="545.00" stroke="#d8d8d8" stroke-width="0.7" />
<line x1="365.80" y1="528.50" x2="365.80" y2="492.60" stroke="#000" stroke-width="1.1" stroke-dasharray="12.5 8.3"/>
<line x1="365.80" y1="559.50" x2="365.80" y2="556.50" stroke="#000" stroke-width="1.1" stroke-dasharray="12.5 8.3"/>
<line x1="358.10" y1="492.60" x2="373.50" y2="492.60" stroke="#000" stroke-width="1.1" />
<line x1="358.10" y1="559.50" x2="373.50" y2="559.50" stroke="#000" stroke-width="1.1" />
<rect x="350.20" y="528.50" width="31.20" height="28.00" fill="none" stroke="#000" stroke-width="1.1"/>
<line x1="350.20" y1="546.30" x2="381.40" y2="546.30" stroke="#000" stroke-width="1.1" />
<line x1="360.80" y1="347.20" x2="370.80" y2="347.20" stroke="#ff2020" stroke-width="1.0" />
<line x1="365.80" y1="342.20" x2="365.80" y2="352.20" stroke="#ff2020" stroke-width="1.0" />
<line x1="360.80" y1="468.90" x2="370.80" y2="468.90" stroke="#ff2020" stroke-width="1.0" />
<line x1="365.80" y1="463.90" x2="365.80" y2="473.90" stroke="#ff2020" stroke-width="1.0" />
<circle cx="380.30" cy="346.30" r="4.15" fill="none" stroke="#000" stroke-opacity="0.58" stroke-width="1.3"/>
<circle cx="380.30" cy="468.90" r="4.15" fill="none" stroke="#000" stroke-opacity="0.58" stroke-width="1.3"/>
<circle cx="380.30" cy="492.00" r="4.15" fill="none" stroke="#000" stroke-opacity="0.58" stroke-width="1.3"/>
<circle cx="380.30" cy="512.40" r="4.15" fill="none" stroke="#000" stroke-opacity="0.58" stroke-width="1.3"/>
<circle cx="380.30" cy="526.70" r="4.15" fill="none" stroke="#000" stroke-opacity="0.58" stroke-width="1.3"/>
<circle cx="380.30" cy="534.60" r="4.15" fill="none" stroke="#000" stroke-opacity="0.58" stroke-width="1.3"/>
<circle cx="380.30" cy="536.00" r="4.15" fill="none" stroke="#000" stroke-opacity="0.58" stroke-width="1.3"/>
<circle cx="380.30" cy="540.00" r="4.15" fill="none" stroke="#000" stroke-opacity="0.58" stroke-width="1.3"/>
<circle cx="380.30" cy="544.00" r="4.15" fill="none" stroke="#000" stroke-opacity="0.58" stroke-width="1.3"/>
<circle cx="380.30" cy="545.50" r="4.15" fill="none" stroke="#000" stroke-opacity="0.58" stroke-width="1.3"/>
<circle cx="380.30" cy="547.00" r="4.15" fill="none" stroke="#000" stroke-opacity="0.58" stroke-width="1.3"/>
<circle cx="380.30" cy="548.00" r="4.15" fill="none" stroke="#000" stroke-opacity="0.58" stroke-width="1.3"/>
<circle cx="380.30" cy="550.00" r="4.15" fill="none" stroke="#000" stroke-opacity="0.58" stroke-width="1.3"/>
<circle cx="380.30" cy="552.00" r="4.15" fill="none" stroke="#000" stroke-opacity="0.58" stroke-width="1.3"/>
<circle cx="380.30" cy="554.80" r="4.15" fill="none" stroke="#000" stroke-opacity="0.58" stroke-width="1.3"/>
<circle cx="380.30" cy="555.50" r="4.15" fill="none" stroke="#000" stroke-opacity="0.58" stroke-width="1.3"/>
<circle cx="380.30" cy="556.50" r="4.15" fill="none" stroke="#000" stroke-opacity="0.58" stroke-width="1.3"/>
<circle cx="380.30" cy="557.00" r="4.15" fill="none" stroke="#000" stroke-opacity="0.58" stroke-width="1.3"/>
<circle cx="380.30" cy="557.70" r="4.15" fill="none" stroke="#000" stroke-opacity="0.58" stroke-width="1.3"/>
<circle cx="380.30" cy="558.00" r="4.15" fill="none" stroke="#000" stroke-opacity="0.58" stroke-width="1.3"/>
<circle cx="380.30" cy="558.50" r="4.15" fill="none" stroke="#000" stroke-opacity="0.58" stroke-width="1.3"/>
<circle cx="380.30" cy="559.00" r="4.15" fill="none" stroke="#000" stroke-opacity="0.58" stroke-width="1.3"/>
<circle cx="360.00" cy="528.50" r="5.7" fill="#000"/>
<line x1="360.00" y1="519.00" x2="360.00" y2="539.30" stroke="#8a8a8a" stroke-width="1.1" />
<line x1="355.60" y1="519.00" x2="364.40" y2="519.00" stroke="#a8a8a8" stroke-width="1.3" />
<line x1="355.60" y1="539.30" x2="364.40" y2="539.30" stroke="#a8a8a8" stroke-width="1.3" />
<line x1="433.40" y1="508.00" x2="433.40" y2="487.30" stroke="#79c551" stroke-width="1.1" stroke-dasharray="12.5 8.3"/>
<line x1="433.40" y1="554.20" x2="433.40" y2="528.50" stroke="#79c551" stroke-width="1.1" stroke-dasharray="12.5 8.3"/>
<line x1="425.70" y1="487.30" x2="441.10" y2="487.30" stroke="#79c551" stroke-width="1.1" />
<line x1="425.70" y1="554.20" x2="441.10" y2="554.20" stroke="#79c551" stroke-width="1.1" />
<rect x="417.80" y="508.00" width="31.20" height="20.50" fill="none" stroke="#79c551" stroke-width="1.1"/>
<line x1="417.80" y1="517.40" x2="449.00" y2="517.40" stroke="#79c551" stroke-width="1.1" />
<line x1="428.40" y1="359.80" x2="438.40" y2="359.80" stroke="#ff2020" stroke-width="1.0" />
<line x1="433.40" y1="354.80" x2="433.40" y2="364.80" stroke="#ff2020" stroke-width="1.0" />
<line x1="428.40" y1="438.70" x2="438.40" y2="438.70" stroke="#ff2020" stroke-width="1.0" />
<line x1="433.40" y1="433.70" x2="433.40" y2="443.70" stroke="#ff2020" stroke-width="1.0" />
<line x1="428.40" y1="456.80" x2="438.40" y2="456.80" stroke="#ff2020" stroke-width="1.0" />
<line x1="433.40" y1="451.80" x2="433.40" y2="461.80" stroke="#ff2020" stroke-width="1.0" />
<circle cx="417.10" cy="358.90" r="4.15" fill="none" stroke="#5db52e" stroke-opacity="0.58" stroke-width="1.3"/>
<circle cx="417.10" cy="438.30" r="4.15" fill="none" stroke="#5db52e" stroke-opacity="0.58" stroke-width="1.3"/>
<circle cx="417.10" cy="456.00" r="4.15" fill="none" stroke="#5db52e" stroke-opacity="0.58" stroke-width="1.3"/>
<circle cx="417.10" cy="487.00" r="4.15" fill="none" stroke="#5db52e" stroke-opacity="0.58" stroke-width="1.3"/>
<circle cx="417.10" cy="493.00" r="4.15" fill="none" stroke="#5db52e" stroke-opacity="0.58" stroke-width="1.3"/>
<circle cx="417.10" cy="506.00" r="4.15" fill="none" stroke="#5db52e" stroke-opacity="0.58" stroke-width="1.3"/>
<circle cx="417.10" cy="507.50" r="4.15" fill="none" stroke="#5db52e" stroke-opacity="0.58" stroke-width="1.3"/>
<circle cx="417.10" cy="509.00" r="4.15" fill="none" stroke="#5db52e" stroke-opacity="0.58" stroke-width="1.3"/>
<circle cx="417.10" cy="510.50" r="4.15" fill="none" stroke="#5db52e" stroke-opacity="0.58" stroke-width="1.3"/>
<circle cx="417.10" cy="512.00" r="4.15" fill="none" stroke="#5db52e" stroke-opacity="0.58" stroke-width="1.3"/>
<circle cx="417.10" cy="514.00" r="4.15" fill="none" stroke="#5db52e" stroke-opacity="0.58" stroke-width="1.3"/>
<circle cx="417.10" cy="516.00" r="4.15" fill="none" stroke="#5db52e" stroke-opacity="0.58" stroke-width="1.3"/>
<circle cx="417.10" cy="518.00" r="4.15" fill="none" stroke="#5db52e" stroke-opacity="0.58" stroke-width="1.3"/>
<circle cx="417.10" cy="520.00" r="4.15" fill="none" stroke="#5db52e" stroke-opacity="0.58" stroke-width="1.3"/>
<circle cx="417.10" cy="522.00" r="4.15" fill="none" stroke="#5db52e" stroke-opacity="0.58" stroke-width="1.3"/>
<circle cx="417.10" cy="524.00" r="4.15" fill="none" stroke="#5db52e" stroke-opacity="0.58" stroke-width="1.3"/>
<circle cx="417.10" cy="527.00" r="4.15" fill="none" stroke="#5db52e" stroke-opacity="0.58" stroke-width="1.3"/>
<circle cx="417.10" cy="535.00" r="4.15" fill="none" stroke="#5db52e" stroke-opacity="0.58" stroke-width="1.3"/>
<circle cx="417.10" cy="537.20" r="4.15" fill="none" stroke="#5db52e" stroke-opacity="0.58" stroke-width="1.3"/>
<circle cx="417.10" cy="543.40" r="4.15" fill="none" stroke="#5db52e" stroke-opacity="0.58" stroke-width="1.3"/>
<circle cx="417.10" cy="545.00" r="4.15" fill="none" stroke="#5db52e" stroke-opacity="0.58" stroke-width="1.3"/>
<circle cx="417.10" cy="553.50" r="4.15" fill="none" stroke="#5db52e" stroke-opacity="0.58" stroke-width="1.3"/>
<circle cx="438.10" cy="507.40" r="5.7" fill="#4cb01a"/>
<line x1="438.10" y1="498.70" x2="438.10" y2="517.00" stroke="#8a8a8a" stroke-width="1.1" />
<line x1="433.70" y1="498.70" x2="442.50" y2="498.70" stroke="#a8a8a8" stroke-width="1.3" />
<line x1="433.70" y1="517.00" x2="442.50" y2="517.00" stroke="#a8a8a8" stroke-width="1.3" />
<line x1="537.50" y1="336.00" x2="537.50" y2="570.00" stroke="#262626" stroke-width="1" />
<line x1="537.50" y1="563.60" x2="540.10" y2="563.60" stroke="#262626" stroke-width="1" />
<text x="530.30" y="569.80" font-size="15.5" text-anchor="end" fill="#1e1e1e" stroke="#1e1e1e" stroke-width="0.22" >0</text>
<line x1="537.50" y1="486.00" x2="540.10" y2="486.00" stroke="#262626" stroke-width="1" />
<text x="530.30" y="492.20" font-size="15.5" text-anchor="end" fill="#1e1e1e" stroke="#1e1e1e" stroke-width="0.22" >0.5</text>
<line x1="537.50" y1="409.00" x2="540.10" y2="409.00" stroke="#262626" stroke-width="1" />
<text x="530.30" y="415.20" font-size="15.5" text-anchor="end" fill="#1e1e1e" stroke="#1e1e1e" stroke-width="0.22" >1</text>
<text x="0" y="0" font-size="15.3" text-anchor="middle" fill="#1e1e1e" stroke="#1e1e1e" stroke-width="0.22" transform="translate(499.10 462.30) rotate(-90)">Frequency (Hz)</text>
<line x1="603.40" y1="346.30" x2="639.50" y2="358.90" stroke="#d8d8d8" stroke-width="0.7" />
<line x1="603.40" y1="468.90" x2="639.50" y2="487.00" stroke="#d8d8d8" stroke-width="0.7" />
<line x1="603.40" y1="492.00" x2="639.50" y2="507.50" stroke="#d8d8d8" stroke-width="0.7" />
<line x1="603.40" y1="512.40" x2="639.50" y2="456.00" stroke="#d8d8d8" stroke-width="0.7" />
<line x1="603.40" y1="526.70" x2="639.50" y2="438.30" stroke="#d8d8d8" stroke-width="0.7" />
<line x1="603.40" y1="534.60" x2="639.50" y2="506.00" stroke="#d8d8d8" stroke-width="0.7" />
<line x1="603.40" y1="536.00" x2="639.50" y2="518.00" stroke="#d8d8d8" stroke-width="0.7" />
<line x1="603.40" y1="540.00" x2="639.50" y2="493.00" stroke="#d8d8d8" stroke-width="0.7" />
<line x1="603.40" y1="544.00" x2="639.50" y2="510.50" stroke="#d8d8d8" stroke-width="0.7" />
<line x1="603.40" y1="545.50" x2="639.50" y2="509.00" stroke="#d8d8d8" stroke-width="0.7" />
<line x1="603.40" y1="547.00" x2="639.50" y2="514.00" stroke="#d8d8d8" stroke-width="0.7" />
<line x1="603.40" y1="548.00" x2="639.50" y2="512.00" stroke="#d8d8d8" stroke-width="0.7" />
<line x1="603.40" y1="550.00" x2="639.50" y2="522.00" stroke="#d8d8d8" stroke-width="0.7" />
<line x1="603.40" y1="552.00" x2="639.50" y2="520.00" stroke="#d8d8d8" stroke-width="0.7" />
<line x1="603.40" y1="554.80" x2="639.50" y2="516.00" stroke="#d8d8d8" stroke-width="0.7" />
<line x1="603.40" y1="555.50" x2="639.50" y2="537.20" stroke="#d8d8d8" stroke-width="0.7" />
<line x1="603.40" y1="556.50" x2="639.50" y2="535.00" stroke="#d8d8d8" stroke-width="0.7" />
<line x1="603.40" y1="557.00" x2="639.50" y2="527.00" stroke="#d8d8d8" stroke-width="0.7" />
<line x1="603.40" y1="557.70" x2="639.50" y2="543.40" stroke="#d8d8d8" stroke-width="0.7" />
<line x1="603.40" y1="558.00" x2="639.50" y2="524.00" stroke="#d8d8d8" stroke-width="0.7" />
<line x1="603.40" y1="558.50" x2="639.50" y2="553.50" stroke="#d8d8d8" stroke-width="0.7" />
<line x1="603.40" y1="559.00" x2="639.50" y2="545.00" stroke="#d8d8d8" stroke-width="0.7" />
<line x1="588.50" y1="528.50" x2="588.50" y2="492.60" stroke="#000" stroke-width="1.1" stroke-dasharray="12.5 8.3"/>
<line x1="588.50" y1="559.50" x2="588.50" y2="556.50" stroke="#000" stroke-width="1.1" stroke-dasharray="12.5 8.3"/>
<line x1="580.80" y1="492.60" x2="596.20" y2="492.60" stroke="#000" stroke-width="1.1" />
<line x1="580.80" y1="559.50" x2="596.20" y2="559.50" stroke="#000" stroke-width="1.1" />
<rect x="572.90" y="528.50" width="31.20" height="28.00" fill="none" stroke="#000" stroke-width="1.1"/>
<line x1="572.90" y1="546.30" x2="604.10" y2="546.30" stroke="#000" stroke-width="1.1" />
<line x1="583.50" y1="347.50" x2="593.50" y2="347.50" stroke="#ff2020" stroke-width="1.0" />
<line x1="588.50" y1="342.50" x2="588.50" y2="352.50" stroke="#ff2020" stroke-width="1.0" />
<line x1="583.50" y1="469.20" x2="593.50" y2="469.20" stroke="#ff2020" stroke-width="1.0" />
<line x1="588.50" y1="464.20" x2="588.50" y2="474.20" stroke="#ff2020" stroke-width="1.0" />
<circle cx="603.40" cy="346.30" r="4.15" fill="none" stroke="#000" stroke-opacity="0.58" stroke-width="1.3"/>
<circle cx="603.40" cy="468.90" r="4.15" fill="none" stroke="#000" stroke-opacity="0.58" stroke-width="1.3"/>
<circle cx="603.40" cy="492.00" r="4.15" fill="none" stroke="#000" stroke-opacity="0.58" stroke-width="1.3"/>
<circle cx="603.40" cy="512.40" r="4.15" fill="none" stroke="#000" stroke-opacity="0.58" stroke-width="1.3"/>
<circle cx="603.40" cy="526.70" r="4.15" fill="none" stroke="#000" stroke-opacity="0.58" stroke-width="1.3"/>
<circle cx="603.40" cy="534.60" r="4.15" fill="none" stroke="#000" stroke-opacity="0.58" stroke-width="1.3"/>
<circle cx="603.40" cy="536.00" r="4.15" fill="none" stroke="#000" stroke-opacity="0.58" stroke-width="1.3"/>
<circle cx="603.40" cy="540.00" r="4.15" fill="none" stroke="#000" stroke-opacity="0.58" stroke-width="1.3"/>
<circle cx="603.40" cy="544.00" r="4.15" fill="none" stroke="#000" stroke-opacity="0.58" stroke-width="1.3"/>
<circle cx="603.40" cy="545.50" r="4.15" fill="none" stroke="#000" stroke-opacity="0.58" stroke-width="1.3"/>
<circle cx="603.40" cy="547.00" r="4.15" fill="none" stroke="#000" stroke-opacity="0.58" stroke-width="1.3"/>
<circle cx="603.40" cy="548.00" r="4.15" fill="none" stroke="#000" stroke-opacity="0.58" stroke-width="1.3"/>
<circle cx="603.40" cy="550.00" r="4.15" fill="none" stroke="#000" stroke-opacity="0.58" stroke-width="1.3"/>
<circle cx="603.40" cy="552.00" r="4.15" fill="none" stroke="#000" stroke-opacity="0.58" stroke-width="1.3"/>
<circle cx="603.40" cy="554.80" r="4.15" fill="none" stroke="#000" stroke-opacity="0.58" stroke-width="1.3"/>
<circle cx="603.40" cy="555.50" r="4.15" fill="none" stroke="#000" stroke-opacity="0.58" stroke-width="1.3"/>
<circle cx="603.40" cy="556.50" r="4.15" fill="none" stroke="#000" stroke-opacity="0.58" stroke-width="1.3"/>
<circle cx="603.40" cy="557.00" r="4.15" fill="none" stroke="#000" stroke-opacity="0.58" stroke-width="1.3"/>
<circle cx="603.40" cy="557.70" r="4.15" fill="none" stroke="#000" stroke-opacity="0.58" stroke-width="1.3"/>
<circle cx="603.40" cy="558.00" r="4.15" fill="none" stroke="#000" stroke-opacity="0.58" stroke-width="1.3"/>
<circle cx="603.40" cy="558.50" r="4.15" fill="none" stroke="#000" stroke-opacity="0.58" stroke-width="1.3"/>
<circle cx="603.40" cy="559.00" r="4.15" fill="none" stroke="#000" stroke-opacity="0.58" stroke-width="1.3"/>
<circle cx="582.40" cy="528.50" r="5.7" fill="#000"/>
<line x1="582.40" y1="519.00" x2="582.40" y2="539.30" stroke="#8a8a8a" stroke-width="1.1" />
<line x1="578.00" y1="519.00" x2="586.80" y2="519.00" stroke="#a8a8a8" stroke-width="1.3" />
<line x1="578.00" y1="539.30" x2="586.80" y2="539.30" stroke="#a8a8a8" stroke-width="1.3" />
<line x1="657.40" y1="508.00" x2="657.40" y2="487.30" stroke="#79c551" stroke-width="1.1" stroke-dasharray="12.5 8.3"/>
<line x1="657.40" y1="554.20" x2="657.40" y2="528.50" stroke="#79c551" stroke-width="1.1" stroke-dasharray="12.5 8.3"/>
<line x1="649.70" y1="487.30" x2="665.10" y2="487.30" stroke="#79c551" stroke-width="1.1" />
<line x1="649.70" y1="554.20" x2="665.10" y2="554.20" stroke="#79c551" stroke-width="1.1" />
<rect x="641.80" y="508.00" width="31.20" height="20.50" fill="none" stroke="#79c551" stroke-width="1.1"/>
<line x1="641.80" y1="517.40" x2="673.00" y2="517.40" stroke="#79c551" stroke-width="1.1" />
<line x1="652.40" y1="359.60" x2="662.40" y2="359.60" stroke="#ff2020" stroke-width="1.0" />
<line x1="657.40" y1="354.60" x2="657.40" y2="364.60" stroke="#ff2020" stroke-width="1.0" />
<line x1="652.40" y1="438.70" x2="662.40" y2="438.70" stroke="#ff2020" stroke-width="1.0" />
<line x1="657.40" y1="433.70" x2="657.40" y2="443.70" stroke="#ff2020" stroke-width="1.0" />
<line x1="652.40" y1="456.90" x2="662.40" y2="456.90" stroke="#ff2020" stroke-width="1.0" />
<line x1="657.40" y1="451.90" x2="657.40" y2="461.90" stroke="#ff2020" stroke-width="1.0" />
<circle cx="639.50" cy="358.90" r="4.15" fill="none" stroke="#5db52e" stroke-opacity="0.58" stroke-width="1.3"/>
<circle cx="639.50" cy="438.30" r="4.15" fill="none" stroke="#5db52e" stroke-opacity="0.58" stroke-width="1.3"/>
<circle cx="639.50" cy="456.00" r="4.15" fill="none" stroke="#5db52e" stroke-opacity="0.58" stroke-width="1.3"/>
<circle cx="639.50" cy="487.00" r="4.15" fill="none" stroke="#5db52e" stroke-opacity="0.58" stroke-width="1.3"/>
<circle cx="639.50" cy="493.00" r="4.15" fill="none" stroke="#5db52e" stroke-opacity="0.58" stroke-width="1.3"/>
<circle cx="639.50" cy="506.00" r="4.15" fill="none" stroke="#5db52e" stroke-opacity="0.58" stroke-width="1.3"/>
<circle cx="639.50" cy="507.50" r="4.15" fill="none" stroke="#5db52e" stroke-opacity="0.58" stroke-width="1.3"/>
<circle cx="639.50" cy="509.00" r="4.15" fill="none" stroke="#5db52e" stroke-opacity="0.58" stroke-width="1.3"/>
<circle cx="639.50" cy="510.50" r="4.15" fill="none" stroke="#5db52e" stroke-opacity="0.58" stroke-width="1.3"/>
<circle cx="639.50" cy="512.00" r="4.15" fill="none" stroke="#5db52e" stroke-opacity="0.58" stroke-width="1.3"/>
<circle cx="639.50" cy="514.00" r="4.15" fill="none" stroke="#5db52e" stroke-opacity="0.58" stroke-width="1.3"/>
<circle cx="639.50" cy="516.00" r="4.15" fill="none" stroke="#5db52e" stroke-opacity="0.58" stroke-width="1.3"/>
<circle cx="639.50" cy="518.00" r="4.15" fill="none" stroke="#5db52e" stroke-opacity="0.58" stroke-width="1.3"/>
<circle cx="639.50" cy="520.00" r="4.15" fill="none" stroke="#5db52e" stroke-opacity="0.58" stroke-width="1.3"/>
<circle cx="639.50" cy="522.00" r="4.15" fill="none" stroke="#5db52e" stroke-opacity="0.58" stroke-width="1.3"/>
<circle cx="639.50" cy="524.00" r="4.15" fill="none" stroke="#5db52e" stroke-opacity="0.58" stroke-width="1.3"/>
<circle cx="639.50" cy="527.00" r="4.15" fill="none" stroke="#5db52e" stroke-opacity="0.58" stroke-width="1.3"/>
<circle cx="639.50" cy="535.00" r="4.15" fill="none" stroke="#5db52e" stroke-opacity="0.58" stroke-width="1.3"/>
<circle cx="639.50" cy="537.20" r="4.15" fill="none" stroke="#5db52e" stroke-opacity="0.58" stroke-width="1.3"/>
<circle cx="639.50" cy="543.40" r="4.15" fill="none" stroke="#5db52e" stroke-opacity="0.58" stroke-width="1.3"/>
<circle cx="639.50" cy="545.00" r="4.15" fill="none" stroke="#5db52e" stroke-opacity="0.58" stroke-width="1.3"/>
<circle cx="639.50" cy="553.50" r="4.15" fill="none" stroke="#5db52e" stroke-opacity="0.58" stroke-width="1.3"/>
<circle cx="660.50" cy="507.40" r="5.7" fill="#4cb01a"/>
<line x1="660.50" y1="498.70" x2="660.50" y2="517.00" stroke="#8a8a8a" stroke-width="1.1" />
<line x1="656.10" y1="498.70" x2="664.90" y2="498.70" stroke="#a8a8a8" stroke-width="1.3" />
<line x1="656.10" y1="517.00" x2="664.90" y2="517.00" stroke="#a8a8a8" stroke-width="1.3" />
<line x1="71.10" y1="610.80" x2="71.10" y2="849.80" stroke="#262626" stroke-width="1" />
<line x1="71.10" y1="848.70" x2="73.70" y2="848.70" stroke="#262626" stroke-width="1" />
<text x="63.90" y="853.30" font-size="15.5" text-anchor="end" fill="#1e1e1e" stroke="#1e1e1e" stroke-width="0.22" >0</text>
<line x1="71.10" y1="801.40" x2="73.70" y2="801.40" stroke="#262626" stroke-width="1" />
<text x="63.90" y="806.00" font-size="15.5" text-anchor="end" fill="#1e1e1e" stroke="#1e1e1e" stroke-width="0.22" >2</text>
<line x1="71.10" y1="754.10" x2="73.70" y2="754.10" stroke="#262626" stroke-width="1" />
<text x="63.90" y="758.70" font-size="15.5" text-anchor="end" fill="#1e1e1e" stroke="#1e1e1e" stroke-width="0.22" >4</text>
<line x1="71.10" y1="706.80" x2="73.70" y2="706.80" stroke="#262626" stroke-width="1" />
<text x="63.90" y="711.40" font-size="15.5" text-anchor="end" fill="#1e1e1e" stroke="#1e1e1e" stroke-width="0.22" >6</text>
<line x1="71.10" y1="659.90" x2="73.70" y2="659.90" stroke="#262626" stroke-width="1" />
<text x="63.90" y="664.50" font-size="15.5" text-anchor="end" fill="#1e1e1e" stroke="#1e1e1e" stroke-width="0.22" >8</text>
<line x1="71.10" y1="612.20" x2="73.70" y2="612.20" stroke="#262626" stroke-width="1" />
<text x="63.90" y="616.80" font-size="15.5" text-anchor="end" fill="#1e1e1e" stroke="#1e1e1e" stroke-width="0.22" >10</text>
<text x="0" y="0" font-size="15.3" text-anchor="middle" fill="#1e1e1e" stroke="#1e1e1e" stroke-width="0.22" transform="translate(23.20 734.80) rotate(-90)">Integrated amplitude</text>
<text x="0" y="0" font-size="15.3" text-anchor="middle" fill="#1e1e1e" stroke="#1e1e1e" stroke-width="0.22" transform="translate(41.00 734.80) rotate(-90)">(ΔF/F<tspan font-size="10" dy="3">0</tspan><tspan dy="-3"> x μm</tspan><tspan font-size="10" dy="-5">2</tspan><tspan dy="5">)</tspan></text>
<line x1="122.60" y1="595.00" x2="190.30" y2="595.00" stroke="#444" stroke-width="0.9" />
<line x1="122.60" y1="593.00" x2="122.60" y2="597.00" stroke="#444" stroke-width="0.9" />
<line x1="190.30" y1="593.00" x2="190.30" y2="597.00" stroke="#444" stroke-width="0.9" />
<text x="129.45" y="588.30" font-size="10.8" font-style="italic" fill="#222" textLength="46.5" lengthAdjust="spacingAndGlyphs">p=0.012,</text>
<text x="177.05" y="584.80" font-size="7.4" font-style="italic" fill="#222">(2)</text>
<line x1="137.00" y1="748.00" x2="173.50" y2="717.00" stroke="#d8d8d8" stroke-width="0.7" />
<line x1="137.00" y1="754.20" x2="173.50" y2="644.30" stroke="#d8d8d8" stroke-width="0.7" />
<line x1="137.00" y1="772.30" x2="173.50" y2="711.20" stroke="#d8d8d8" stroke-width="0.7" />
<line x1="137.00" y1="781.30" x2="173.50" y2="621.40" stroke="#d8d8d8" stroke-width="0.7" />
<line x1="137.00" y1="791.80" x2="173.50" y2="757.70" stroke="#d8d8d8" stroke-width="0.7" />
<line x1="137.00" y1="795.00" x2="173.50" y2="781.30" stroke="#d8d8d8" stroke-width="0.7" />
<line x1="137.00" y1="797.00" x2="173.50" y2="794.00" stroke="#d8d8d8" stroke-width="0.7" />
<line x1="137.00" y1="800.00" x2="173.50" y2="769.00" stroke="#d8d8d8" stroke-width="0.7" />
<line x1="137.00" y1="802.00" x2="173.50" y2="789.00" stroke="#d8d8d8" stroke-width="0.7" />
<line x1="137.00" y1="804.00" x2="173.50" y2="791.80" stroke="#d8d8d8" stroke-width="0.7" />
<line x1="137.00" y1="806.00" x2="173.50" y2="728.80" stroke="#d8d8d8" stroke-width="0.7" />
<line x1="137.00" y1="809.00" x2="173.50" y2="767.30" stroke="#d8d8d8" stroke-width="0.7" />
<line x1="137.00" y1="811.00" x2="173.50" y2="721.00" stroke="#d8d8d8" stroke-width="0.7" />
<line x1="137.00" y1="813.00" x2="173.50" y2="802.00" stroke="#d8d8d8" stroke-width="0.7" />
<line x1="137.00" y1="815.00" x2="173.50" y2="799.00" stroke="#d8d8d8" stroke-width="0.7" />
<line x1="137.00" y1="817.00" x2="173.50" y2="816.40" stroke="#d8d8d8" stroke-width="0.7" />
<line x1="137.00" y1="819.00" x2="173.50" y2="786.60" stroke="#d8d8d8" stroke-width="0.7" />
<line x1="137.00" y1="821.00" x2="173.50" y2="797.00" stroke="#d8d8d8" stroke-width="0.7" />
<line x1="137.00" y1="824.00" x2="173.50" y2="814.60" stroke="#d8d8d8" stroke-width="0.7" />
<line x1="137.00" y1="827.00" x2="173.50" y2="800.60" stroke="#d8d8d8" stroke-width="0.7" />
<line x1="137.00" y1="830.00" x2="173.50" y2="828.60" stroke="#d8d8d8" stroke-width="0.7" />
<line x1="137.00" y1="834.00" x2="173.50" y2="826.00" stroke="#d8d8d8" stroke-width="0.7" />
<line x1="122.20" y1="796.60" x2="122.20" y2="772.60" stroke="#000" stroke-width="1.1" stroke-dasharray="12.5 8.3"/>
<line x1="122.20" y1="833.90" x2="122.20" y2="822.10" stroke="#000" stroke-width="1.1" stroke-dasharray="12.5 8.3"/>
<line x1="114.50" y1="772.60" x2="129.90" y2="772.60" stroke="#000" stroke-width="1.1" />
<line x1="114.50" y1="833.90" x2="129.90" y2="833.90" stroke="#000" stroke-width="1.1" />
<rect x="106.60" y="796.60" width="31.20" height="25.50" fill="none" stroke="#000" stroke-width="1.1"/>
<line x1="106.60" y1="812.50" x2="137.80" y2="812.50" stroke="#000" stroke-width="1.1" />
<line x1="117.20" y1="749.40" x2="127.20" y2="749.40" stroke="#ff2020" stroke-width="1.0" />
<line x1="122.20" y1="744.40" x2="122.20" y2="754.40" stroke="#ff2020" stroke-width="1.0" />
<line x1="117.20" y1="754.20" x2="127.20" y2="754.20" stroke="#ff2020" stroke-width="1.0" />
<line x1="122.20" y1="749.20" x2="122.20" y2="759.20" stroke="#ff2020" stroke-width="1.0" />
<circle cx="137.00" cy="748.00" r="4.15" fill="none" stroke="#000" stroke-opacity="0.58" stroke-width="1.3"/>
<circle cx="137.00" cy="754.20" r="4.15" fill="none" stroke="#000" stroke-opacity="0.58" stroke-width="1.3"/>
<circle cx="137.00" cy="772.30" r="4.15" fill="none" stroke="#000" stroke-opacity="0.58" stroke-width="1.3"/>
<circle cx="137.00" cy="781.30" r="4.15" fill="none" stroke="#000" stroke-opacity="0.58" stroke-width="1.3"/>
<circle cx="137.00" cy="791.80" r="4.15" fill="none" stroke="#000" stroke-opacity="0.58" stroke-width="1.3"/>
<circle cx="137.00" cy="795.00" r="4.15" fill="none" stroke="#000" stroke-opacity="0.58" stroke-width="1.3"/>
<circle cx="137.00" cy="797.00" r="4.15" fill="none" stroke="#000" stroke-opacity="0.58" stroke-width="1.3"/>
<circle cx="137.00" cy="800.00" r="4.15" fill="none" stroke="#000" stroke-opacity="0.58" stroke-width="1.3"/>
<circle cx="137.00" cy="802.00" r="4.15" fill="none" stroke="#000" stroke-opacity="0.58" stroke-width="1.3"/>
<circle cx="137.00" cy="804.00" r="4.15" fill="none" stroke="#000" stroke-opacity="0.58" stroke-width="1.3"/>
<circle cx="137.00" cy="806.00" r="4.15" fill="none" stroke="#000" stroke-opacity="0.58" stroke-width="1.3"/>
<circle cx="137.00" cy="809.00" r="4.15" fill="none" stroke="#000" stroke-opacity="0.58" stroke-width="1.3"/>
<circle cx="137.00" cy="811.00" r="4.15" fill="none" stroke="#000" stroke-opacity="0.58" stroke-width="1.3"/>
<circle cx="137.00" cy="813.00" r="4.15" fill="none" stroke="#000" stroke-opacity="0.58" stroke-width="1.3"/>
<circle cx="137.00" cy="815.00" r="4.15" fill="none" stroke="#000" stroke-opacity="0.58" stroke-width="1.3"/>
<circle cx="137.00" cy="817.00" r="4.15" fill="none" stroke="#000" stroke-opacity="0.58" stroke-width="1.3"/>
<circle cx="137.00" cy="819.00" r="4.15" fill="none" stroke="#000" stroke-opacity="0.58" stroke-width="1.3"/>
<circle cx="137.00" cy="821.00" r="4.15" fill="none" stroke="#000" stroke-opacity="0.58" stroke-width="1.3"/>
<circle cx="137.00" cy="824.00" r="4.15" fill="none" stroke="#000" stroke-opacity="0.58" stroke-width="1.3"/>
<circle cx="137.00" cy="827.00" r="4.15" fill="none" stroke="#000" stroke-opacity="0.58" stroke-width="1.3"/>
<circle cx="137.00" cy="830.00" r="4.15" fill="none" stroke="#000" stroke-opacity="0.58" stroke-width="1.3"/>
<circle cx="137.00" cy="834.00" r="4.15" fill="none" stroke="#000" stroke-opacity="0.58" stroke-width="1.3"/>
<circle cx="116.40" cy="804.60" r="5.7" fill="#000"/>
<line x1="116.40" y1="800.00" x2="116.40" y2="809.50" stroke="#8a8a8a" stroke-width="1.1" />
<line x1="112.00" y1="800.00" x2="120.80" y2="800.00" stroke="#a8a8a8" stroke-width="1.3" />
<line x1="112.00" y1="809.50" x2="120.80" y2="809.50" stroke="#a8a8a8" stroke-width="1.3" />
<line x1="189.60" y1="728.80" x2="189.60" y2="621.50" stroke="#79c551" stroke-width="1.1" stroke-dasharray="12.5 8.3"/>
<line x1="189.60" y1="829.50" x2="189.60" y2="802.30" stroke="#79c551" stroke-width="1.1" stroke-dasharray="12.5 8.3"/>
<line x1="181.90" y1="621.50" x2="197.30" y2="621.50" stroke="#79c551" stroke-width="1.1" />
<line x1="181.90" y1="829.50" x2="197.30" y2="829.50" stroke="#79c551" stroke-width="1.1" />
<rect x="174.00" y="728.80" width="31.20" height="73.50" fill="none" stroke="#79c551" stroke-width="1.1"/>
<line x1="174.00" y1="789.70" x2="205.20" y2="789.70" stroke="#79c551" stroke-width="1.1" />
<circle cx="173.50" cy="621.40" r="4.15" fill="none" stroke="#5db52e" stroke-opacity="0.58" stroke-width="1.3"/>
<circle cx="173.50" cy="644.30" r="4.15" fill="none" stroke="#5db52e" stroke-opacity="0.58" stroke-width="1.3"/>
<circle cx="173.50" cy="711.20" r="4.15" fill="none" stroke="#5db52e" stroke-opacity="0.58" stroke-width="1.3"/>
<circle cx="173.50" cy="717.00" r="4.15" fill="none" stroke="#5db52e" stroke-opacity="0.58" stroke-width="1.3"/>
<circle cx="173.50" cy="721.00" r="4.15" fill="none" stroke="#5db52e" stroke-opacity="0.58" stroke-width="1.3"/>
<circle cx="173.50" cy="728.80" r="4.15" fill="none" stroke="#5db52e" stroke-opacity="0.58" stroke-width="1.3"/>
<circle cx="173.50" cy="757.70" r="4.15" fill="none" stroke="#5db52e" stroke-opacity="0.58" stroke-width="1.3"/>
<circle cx="173.50" cy="767.30" r="4.15" fill="none" stroke="#5db52e" stroke-opacity="0.58" stroke-width="1.3"/>
<circle cx="173.50" cy="769.00" r="4.15" fill="none" stroke="#5db52e" stroke-opacity="0.58" stroke-width="1.3"/>
<circle cx="173.50" cy="781.30" r="4.15" fill="none" stroke="#5db52e" stroke-opacity="0.58" stroke-width="1.3"/>
<circle cx="173.50" cy="786.60" r="4.15" fill="none" stroke="#5db52e" stroke-opacity="0.58" stroke-width="1.3"/>
<circle cx="173.50" cy="789.00" r="4.15" fill="none" stroke="#5db52e" stroke-opacity="0.58" stroke-width="1.3"/>
<circle cx="173.50" cy="791.80" r="4.15" fill="none" stroke="#5db52e" stroke-opacity="0.58" stroke-width="1.3"/>
<circle cx="173.50" cy="794.00" r="4.15" fill="none" stroke="#5db52e" stroke-opacity="0.58" stroke-width="1.3"/>
<circle cx="173.50" cy="797.00" r="4.15" fill="none" stroke="#5db52e" stroke-opacity="0.58" stroke-width="1.3"/>
<circle cx="173.50" cy="799.00" r="4.15" fill="none" stroke="#5db52e" stroke-opacity="0.58" stroke-width="1.3"/>
<circle cx="173.50" cy="800.60" r="4.15" fill="none" stroke="#5db52e" stroke-opacity="0.58" stroke-width="1.3"/>
<circle cx="173.50" cy="802.00" r="4.15" fill="none" stroke="#5db52e" stroke-opacity="0.58" stroke-width="1.3"/>
<circle cx="173.50" cy="814.60" r="4.15" fill="none" stroke="#5db52e" stroke-opacity="0.58" stroke-width="1.3"/>
<circle cx="173.50" cy="816.40" r="4.15" fill="none" stroke="#5db52e" stroke-opacity="0.58" stroke-width="1.3"/>
<circle cx="173.50" cy="826.00" r="4.15" fill="none" stroke="#5db52e" stroke-opacity="0.58" stroke-width="1.3"/>
<circle cx="173.50" cy="828.60" r="4.15" fill="none" stroke="#5db52e" stroke-opacity="0.58" stroke-width="1.3"/>
<circle cx="194.30" cy="767.00" r="5.7" fill="#4cb01a"/>
<line x1="194.30" y1="755.90" x2="194.30" y2="779.60" stroke="#8a8a8a" stroke-width="1.1" />
<line x1="189.90" y1="755.90" x2="198.70" y2="755.90" stroke="#a8a8a8" stroke-width="1.3" />
<line x1="189.90" y1="779.60" x2="198.70" y2="779.60" stroke="#a8a8a8" stroke-width="1.3" />
<line x1="315.50" y1="611.00" x2="315.50" y2="844.10" stroke="#262626" stroke-width="1" />
<line x1="315.50" y1="833.50" x2="318.10" y2="833.50" stroke="#262626" stroke-width="1" />
<text x="308.30" y="838.10" font-size="15.5" text-anchor="end" fill="#1e1e1e" stroke="#1e1e1e" stroke-width="0.22" >0.06</text>
<line x1="315.50" y1="790.90" x2="318.10" y2="790.90" stroke="#262626" stroke-width="1" />
<text x="308.30" y="795.50" font-size="15.5" text-anchor="end" fill="#1e1e1e" stroke="#1e1e1e" stroke-width="0.22" >0.08</text>
<line x1="315.50" y1="747.90" x2="318.10" y2="747.90" stroke="#262626" stroke-width="1" />
<text x="308.30" y="752.50" font-size="15.5" text-anchor="end" fill="#1e1e1e" stroke="#1e1e1e" stroke-width="0.22" >0.1</text>
<line x1="315.50" y1="705.00" x2="318.10" y2="705.00" stroke="#262626" stroke-width="1" />
<text x="308.30" y="709.60" font-size="15.5" text-anchor="end" fill="#1e1e1e" stroke="#1e1e1e" stroke-width="0.22" >0.12</text>
<line x1="315.50" y1="662.30" x2="318.10" y2="662.30" stroke="#262626" stroke-width="1" />
<text x="308.30" y="666.90" font-size="15.5" text-anchor="end" fill="#1e1e1e" stroke="#1e1e1e" stroke-width="0.22" >0.14</text>
<line x1="315.50" y1="619.30" x2="318.10" y2="619.30" stroke="#262626" stroke-width="1" />
<text x="308.30" y="623.90" font-size="15.5" text-anchor="end" fill="#1e1e1e" stroke="#1e1e1e" stroke-width="0.22" >0.16</text>
<line x1="315.50" y1="844.10" x2="315.50" y2="844.10" stroke="#262626" stroke-width="1" />
<line x1="310.50" y1="848.30" x2="318.50" y2="843.40" stroke="#262626" stroke-width="1.1" />
<line x1="312.50" y1="851.70" x2="320.10" y2="846.10" stroke="#262626" stroke-width="1.1" />
<line x1="315.50" y1="849.30" x2="315.50" y2="857.60" stroke="#262626" stroke-width="1" />
<line x1="315.50" y1="857.60" x2="318.40" y2="857.60" stroke="#262626" stroke-width="1" />
<text x="308.30" y="863.00" font-size="15.5" text-anchor="end" fill="#1e1e1e" stroke="#1e1e1e" stroke-width="0.22" >0</text>
<text x="0" y="0" font-size="15.4" text-anchor="middle" fill="#1e1e1e" stroke="#1e1e1e" stroke-width="0.22" transform="translate(261.80 733.40) rotate(-90)">Amplitude&#160; (ΔF/F<tspan font-size="10" dy="3">0</tspan><tspan dy="-3">)</tspan></text>
<line x1="381.50" y1="727.90" x2="418.00" y2="645.90" stroke="#d8d8d8" stroke-width="0.7" />
<line x1="381.50" y1="737.00" x2="418.00" y2="726.10" stroke="#d8d8d8" stroke-width="0.7" />
<line x1="381.50" y1="745.40" x2="418.00" y2="715.60" stroke="#d8d8d8" stroke-width="0.7" />
<line x1="381.50" y1="746.60" x2="418.00" y2="717.70" stroke="#d8d8d8" stroke-width="0.7" />
<line x1="381.50" y1="753.30" x2="418.00" y2="740.10" stroke="#d8d8d8" stroke-width="0.7" />
<line x1="381.50" y1="754.20" x2="418.00" y2="725.80" stroke="#d8d8d8" stroke-width="0.7" />
<line x1="381.50" y1="764.70" x2="418.00" y2="688.10" stroke="#d8d8d8" stroke-width="0.7" />
<line x1="381.50" y1="767.30" x2="418.00" y2="735.00" stroke="#d8d8d8" stroke-width="0.7" />
<line x1="381.50" y1="770.80" x2="418.00" y2="766.40" stroke="#d8d8d8" stroke-width="0.7" />
<line x1="381.50" y1="774.30" x2="418.00" y2="754.20" stroke="#d8d8d8" stroke-width="0.7" />
<line x1="381.50" y1="776.00" x2="418.00" y2="762.00" stroke="#d8d8d8" stroke-width="0.7" />
<line x1="381.50" y1="780.40" x2="418.00" y2="621.40" stroke="#d8d8d8" stroke-width="0.7" />
<line x1="381.50" y1="783.00" x2="418.00" y2="760.30" stroke="#d8d8d8" stroke-width="0.7" />
<line x1="381.50" y1="785.00" x2="418.00" y2="751.50" stroke="#d8d8d8" stroke-width="0.7" />
<line x1="381.50" y1="786.60" x2="418.00" y2="770.80" stroke="#d8d8d8" stroke-width="0.7" />
<line x1="381.50" y1="789.20" x2="418.00" y2="781.30" stroke="#d8d8d8" stroke-width="0.7" />
<line x1="381.50" y1="791.00" x2="418.00" y2="795.30" stroke="#d8d8d8" stroke-width="0.7" />
<line x1="381.50" y1="804.10" x2="418.00" y2="773.40" stroke="#d8d8d8" stroke-width="0.7" />
<line x1="381.50" y1="806.70" x2="418.00" y2="798.00" stroke="#d8d8d8" stroke-width="0.7" />
<line x1="381.50" y1="811.10" x2="418.00" y2="788.30" stroke="#d8d8d8" stroke-width="0.7" />
<line x1="381.50" y1="812.90" x2="418.00" y2="748.00" stroke="#d8d8d8" stroke-width="0.7" />
<line x1="381.50" y1="833.00" x2="418.00" y2="799.70" stroke="#d8d8d8" stroke-width="0.7" />
<line x1="366.60" y1="747.50" x2="366.60" y2="728.40" stroke="#000" stroke-width="1.1" stroke-dasharray="12.5 8.3"/>
<line x1="366.60" y1="833.90" x2="366.60" y2="791.50" stroke="#000" stroke-width="1.1" stroke-dasharray="12.5 8.3"/>
<line x1="358.90" y1="728.40" x2="374.30" y2="728.40" stroke="#000" stroke-width="1.1" />
<line x1="358.90" y1="833.90" x2="374.30" y2="833.90" stroke="#000" stroke-width="1.1" />
<rect x="351.00" y="747.50" width="31.20" height="44.00" fill="none" stroke="#000" stroke-width="1.1"/>
<line x1="351.00" y1="771.30" x2="382.20" y2="771.30" stroke="#000" stroke-width="1.1" />
<circle cx="381.50" cy="727.90" r="4.15" fill="none" stroke="#000" stroke-opacity="0.58" stroke-width="1.3"/>
<circle cx="381.50" cy="737.00" r="4.15" fill="none" stroke="#000" stroke-opacity="0.58" stroke-width="1.3"/>
<circle cx="381.50" cy="745.40" r="4.15" fill="none" stroke="#000" stroke-opacity="0.58" stroke-width="1.3"/>
<circle cx="381.50" cy="746.60" r="4.15" fill="none" stroke="#000" stroke-opacity="0.58" stroke-width="1.3"/>
<circle cx="381.50" cy="753.30" r="4.15" fill="none" stroke="#000" stroke-opacity="0.58" stroke-width="1.3"/>
<circle cx="381.50" cy="754.20" r="4.15" fill="none" stroke="#000" stroke-opacity="0.58" stroke-width="1.3"/>
<circle cx="381.50" cy="764.70" r="4.15" fill="none" stroke="#000" stroke-opacity="0.58" stroke-width="1.3"/>
<circle cx="381.50" cy="767.30" r="4.15" fill="none" stroke="#000" stroke-opacity="0.58" stroke-width="1.3"/>
<circle cx="381.50" cy="770.80" r="4.15" fill="none" stroke="#000" stroke-opacity="0.58" stroke-width="1.3"/>
<circle cx="381.50" cy="774.30" r="4.15" fill="none" stroke="#000" stroke-opacity="0.58" stroke-width="1.3"/>
<circle cx="381.50" cy="776.00" r="4.15" fill="none" stroke="#000" stroke-opacity="0.58" stroke-width="1.3"/>
<circle cx="381.50" cy="780.40" r="4.15" fill="none" stroke="#000" stroke-opacity="0.58" stroke-width="1.3"/>
<circle cx="381.50" cy="783.00" r="4.15" fill="none" stroke="#000" stroke-opacity="0.58" stroke-width="1.3"/>
<circle cx="381.50" cy="785.00" r="4.15" fill="none" stroke="#000" stroke-opacity="0.58" stroke-width="1.3"/>
<circle cx="381.50" cy="786.60" r="4.15" fill="none" stroke="#000" stroke-opacity="0.58" stroke-width="1.3"/>
<circle cx="381.50" cy="789.20" r="4.15" fill="none" stroke="#000" stroke-opacity="0.58" stroke-width="1.3"/>
<circle cx="381.50" cy="791.00" r="4.15" fill="none" stroke="#000" stroke-opacity="0.58" stroke-width="1.3"/>
<circle cx="381.50" cy="804.10" r="4.15" fill="none" stroke="#000" stroke-opacity="0.58" stroke-width="1.3"/>
<circle cx="381.50" cy="806.70" r="4.15" fill="none" stroke="#000" stroke-opacity="0.58" stroke-width="1.3"/>
<circle cx="381.50" cy="811.10" r="4.15" fill="none" stroke="#000" stroke-opacity="0.58" stroke-width="1.3"/>
<circle cx="381.50" cy="812.90" r="4.15" fill="none" stroke="#000" stroke-opacity="0.58" stroke-width="1.3"/>
<circle cx="381.50" cy="833.00" r="4.15" fill="none" stroke="#000" stroke-opacity="0.58" stroke-width="1.3"/>
<circle cx="361.00" cy="772.90" r="5.7" fill="#000"/>
<line x1="361.00" y1="767.70" x2="361.00" y2="779.20" stroke="#8a8a8a" stroke-width="1.1" />
<line x1="356.60" y1="767.70" x2="365.40" y2="767.70" stroke="#a8a8a8" stroke-width="1.3" />
<line x1="356.60" y1="779.20" x2="365.40" y2="779.20" stroke="#a8a8a8" stroke-width="1.3" />
<line x1="434.60" y1="726.30" x2="434.60" y2="688.80" stroke="#79c551" stroke-width="1.1" stroke-dasharray="12.5 8.3"/>
<line x1="434.60" y1="798.80" x2="434.60" y2="775.70" stroke="#79c551" stroke-width="1.1" stroke-dasharray="12.5 8.3"/>
<line x1="426.90" y1="688.80" x2="442.30" y2="688.80" stroke="#79c551" stroke-width="1.1" />
<line x1="426.90" y1="798.80" x2="442.30" y2="798.80" stroke="#79c551" stroke-width="1.1" />
<rect x="419.00" y="726.30" width="31.20" height="49.40" fill="none" stroke="#79c551" stroke-width="1.1"/>
<line x1="419.00" y1="760.60" x2="450.20" y2="760.60" stroke="#79c551" stroke-width="1.1" />
<line x1="429.60" y1="621.90" x2="439.60" y2="621.90" stroke="#ff2020" stroke-width="1.0" />
<line x1="434.60" y1="616.90" x2="434.60" y2="626.90" stroke="#ff2020" stroke-width="1.0" />
<line x1="429.60" y1="646.40" x2="439.60" y2="646.40" stroke="#ff2020" stroke-width="1.0" />
<line x1="434.60" y1="641.40" x2="434.60" y2="651.40" stroke="#ff2020" stroke-width="1.0" />
<circle cx="418.00" cy="621.40" r="4.15" fill="none" stroke="#5db52e" stroke-opacity="0.58" stroke-width="1.3"/>
<circle cx="418.00" cy="645.90" r="4.15" fill="none" stroke="#5db52e" stroke-opacity="0.58" stroke-width="1.3"/>
<circle cx="418.00" cy="688.10" r="4.15" fill="none" stroke="#5db52e" stroke-opacity="0.58" stroke-width="1.3"/>
<circle cx="418.00" cy="715.60" r="4.15" fill="none" stroke="#5db52e" stroke-opacity="0.58" stroke-width="1.3"/>
<circle cx="418.00" cy="717.70" r="4.15" fill="none" stroke="#5db52e" stroke-opacity="0.58" stroke-width="1.3"/>
<circle cx="418.00" cy="725.80" r="4.15" fill="none" stroke="#5db52e" stroke-opacity="0.58" stroke-width="1.3"/>
<circle cx="418.00" cy="726.10" r="4.15" fill="none" stroke="#5db52e" stroke-opacity="0.58" stroke-width="1.3"/>
<circle cx="418.00" cy="735.00" r="4.15" fill="none" stroke="#5db52e" stroke-opacity="0.58" stroke-width="1.3"/>
<circle cx="418.00" cy="740.10" r="4.15" fill="none" stroke="#5db52e" stroke-opacity="0.58" stroke-width="1.3"/>
<circle cx="418.00" cy="748.00" r="4.15" fill="none" stroke="#5db52e" stroke-opacity="0.58" stroke-width="1.3"/>
<circle cx="418.00" cy="751.50" r="4.15" fill="none" stroke="#5db52e" stroke-opacity="0.58" stroke-width="1.3"/>
<circle cx="418.00" cy="754.20" r="4.15" fill="none" stroke="#5db52e" stroke-opacity="0.58" stroke-width="1.3"/>
<circle cx="418.00" cy="760.30" r="4.15" fill="none" stroke="#5db52e" stroke-opacity="0.58" stroke-width="1.3"/>
<circle cx="418.00" cy="762.00" r="4.15" fill="none" stroke="#5db52e" stroke-opacity="0.58" stroke-width="1.3"/>
<circle cx="418.00" cy="766.40" r="4.15" fill="none" stroke="#5db52e" stroke-opacity="0.58" stroke-width="1.3"/>
<circle cx="418.00" cy="770.80" r="4.15" fill="none" stroke="#5db52e" stroke-opacity="0.58" stroke-width="1.3"/>
<circle cx="418.00" cy="773.40" r="4.15" fill="none" stroke="#5db52e" stroke-opacity="0.58" stroke-width="1.3"/>
<circle cx="418.00" cy="781.30" r="4.15" fill="none" stroke="#5db52e" stroke-opacity="0.58" stroke-width="1.3"/>
<circle cx="418.00" cy="788.30" r="4.15" fill="none" stroke="#5db52e" stroke-opacity="0.58" stroke-width="1.3"/>
<circle cx="418.00" cy="795.30" r="4.15" fill="none" stroke="#5db52e" stroke-opacity="0.58" stroke-width="1.3"/>
<circle cx="418.00" cy="798.00" r="4.15" fill="none" stroke="#5db52e" stroke-opacity="0.58" stroke-width="1.3"/>
<circle cx="418.00" cy="799.70" r="4.15" fill="none" stroke="#5db52e" stroke-opacity="0.58" stroke-width="1.3"/>
<circle cx="439.00" cy="745.00" r="5.7" fill="#4cb01a"/>
<line x1="439.00" y1="735.80" x2="439.00" y2="755.60" stroke="#8a8a8a" stroke-width="1.1" />
<line x1="434.60" y1="735.80" x2="443.40" y2="735.80" stroke="#a8a8a8" stroke-width="1.3" />
<line x1="434.60" y1="755.60" x2="443.40" y2="755.60" stroke="#a8a8a8" stroke-width="1.3" />
<line x1="537.50" y1="610.40" x2="537.50" y2="851.50" stroke="#262626" stroke-width="1" />
<line x1="537.50" y1="850.90" x2="540.10" y2="850.90" stroke="#262626" stroke-width="1" />
<text x="530.30" y="855.50" font-size="15.5" text-anchor="end" fill="#1e1e1e" stroke="#1e1e1e" stroke-width="0.22" >0</text>
<line x1="537.50" y1="799.00" x2="540.10" y2="799.00" stroke="#262626" stroke-width="1" />
<text x="530.30" y="803.60" font-size="15.5" text-anchor="end" fill="#1e1e1e" stroke="#1e1e1e" stroke-width="0.22" >20</text>
<line x1="537.50" y1="746.70" x2="540.10" y2="746.70" stroke="#262626" stroke-width="1" />
<text x="530.30" y="751.30" font-size="15.5" text-anchor="end" fill="#1e1e1e" stroke="#1e1e1e" stroke-width="0.22" >40</text>
<line x1="537.50" y1="694.20" x2="540.10" y2="694.20" stroke="#262626" stroke-width="1" />
<text x="530.30" y="698.80" font-size="15.5" text-anchor="end" fill="#1e1e1e" stroke="#1e1e1e" stroke-width="0.22" >60</text>
<line x1="537.50" y1="641.80" x2="540.10" y2="641.80" stroke="#262626" stroke-width="1" />
<text x="530.30" y="646.40" font-size="15.5" text-anchor="end" fill="#1e1e1e" stroke="#1e1e1e" stroke-width="0.22" >80</text>
<text x="0" y="0" font-size="14.9" text-anchor="middle" fill="#1e1e1e" stroke="#1e1e1e" stroke-width="0.22" transform="translate(506.50 732.70) rotate(-90)">Area (μm<tspan font-size="10" dy="-5">2</tspan><tspan dy="5">)</tspan></text>
<line x1="603.50" y1="694.10" x2="640.30" y2="745.40" stroke="#d8d8d8" stroke-width="0.7" />
<line x1="603.50" y1="750.70" x2="640.30" y2="621.40" stroke="#d8d8d8" stroke-width="0.7" />
<line x1="603.50" y1="756.80" x2="640.30" y2="757.70" stroke="#d8d8d8" stroke-width="0.7" />
<line x1="603.50" y1="767.00" x2="640.30" y2="652.20" stroke="#d8d8d8" stroke-width="0.7" />
<line x1="603.50" y1="782.20" x2="640.30" y2="750.00" stroke="#d8d8d8" stroke-width="0.7" />
<line x1="603.50" y1="788.30" x2="640.30" y2="747.20" stroke="#d8d8d8" stroke-width="0.7" />
<line x1="603.50" y1="791.00" x2="640.30" y2="741.90" stroke="#d8d8d8" stroke-width="0.7" />
<line x1="603.50" y1="793.60" x2="640.30" y2="794.50" stroke="#d8d8d8" stroke-width="0.7" />
<line x1="603.50" y1="795.00" x2="640.30" y2="785.00" stroke="#d8d8d8" stroke-width="0.7" />
<line x1="603.50" y1="796.20" x2="640.30" y2="754.20" stroke="#d8d8d8" stroke-width="0.7" />
<line x1="603.50" y1="798.80" x2="640.30" y2="761.20" stroke="#d8d8d8" stroke-width="0.7" />
<line x1="603.50" y1="800.00" x2="640.30" y2="722.30" stroke="#d8d8d8" stroke-width="0.7" />
<line x1="603.50" y1="801.50" x2="640.30" y2="776.00" stroke="#d8d8d8" stroke-width="0.7" />
<line x1="603.50" y1="804.00" x2="640.30" y2="780.40" stroke="#d8d8d8" stroke-width="0.7" />
<line x1="603.50" y1="806.00" x2="640.30" y2="804.10" stroke="#d8d8d8" stroke-width="0.7" />
<line x1="603.50" y1="807.60" x2="640.30" y2="783.00" stroke="#d8d8d8" stroke-width="0.7" />
<line x1="603.50" y1="810.20" x2="640.30" y2="801.50" stroke="#d8d8d8" stroke-width="0.7" />
<line x1="603.50" y1="811.10" x2="640.30" y2="820.70" stroke="#d8d8d8" stroke-width="0.7" />
<line x1="603.50" y1="813.70" x2="640.30" y2="827.70" stroke="#d8d8d8" stroke-width="0.7" />
<line x1="603.50" y1="819.90" x2="640.30" y2="778.70" stroke="#d8d8d8" stroke-width="0.7" />
<line x1="603.50" y1="821.60" x2="640.30" y2="797.10" stroke="#d8d8d8" stroke-width="0.7" />
<line x1="603.50" y1="833.00" x2="640.30" y2="788.30" stroke="#d8d8d8" stroke-width="0.7" />
<line x1="588.70" y1="789.60" x2="588.70" y2="757.30" stroke="#000" stroke-width="1.1" stroke-dasharray="12.5 8.3"/>
<line x1="588.70" y1="833.90" x2="588.70" y2="812.30" stroke="#000" stroke-width="1.1" stroke-dasharray="12.5 8.3"/>
<line x1="581.00" y1="757.30" x2="596.40" y2="757.30" stroke="#000" stroke-width="1.1" />
<line x1="581.00" y1="833.90" x2="596.40" y2="833.90" stroke="#000" stroke-width="1.1" />
<rect x="573.10" y="789.60" width="31.20" height="22.70" fill="none" stroke="#000" stroke-width="1.1"/>
<line x1="573.10" y1="802.30" x2="604.30" y2="802.30" stroke="#000" stroke-width="1.1" />
<line x1="583.70" y1="694.10" x2="593.70" y2="694.10" stroke="#ff2020" stroke-width="1.0" />
<line x1="588.70" y1="689.10" x2="588.70" y2="699.10" stroke="#ff2020" stroke-width="1.0" />
<line x1="583.70" y1="751.50" x2="593.70" y2="751.50" stroke="#ff2020" stroke-width="1.0" />
<line x1="588.70" y1="746.50" x2="588.70" y2="756.50" stroke="#ff2020" stroke-width="1.0" />
<circle cx="603.50" cy="694.10" r="4.15" fill="none" stroke="#000" stroke-opacity="0.58" stroke-width="1.3"/>
<circle cx="603.50" cy="750.70" r="4.15" fill="none" stroke="#000" stroke-opacity="0.58" stroke-width="1.3"/>
<circle cx="603.50" cy="756.80" r="4.15" fill="none" stroke="#000" stroke-opacity="0.58" stroke-width="1.3"/>
<circle cx="603.50" cy="767.00" r="4.15" fill="none" stroke="#000" stroke-opacity="0.58" stroke-width="1.3"/>
<circle cx="603.50" cy="782.20" r="4.15" fill="none" stroke="#000" stroke-opacity="0.58" stroke-width="1.3"/>
<circle cx="603.50" cy="788.30" r="4.15" fill="none" stroke="#000" stroke-opacity="0.58" stroke-width="1.3"/>
<circle cx="603.50" cy="791.00" r="4.15" fill="none" stroke="#000" stroke-opacity="0.58" stroke-width="1.3"/>
<circle cx="603.50" cy="793.60" r="4.15" fill="none" stroke="#000" stroke-opacity="0.58" stroke-width="1.3"/>
<circle cx="603.50" cy="795.00" r="4.15" fill="none" stroke="#000" stroke-opacity="0.58" stroke-width="1.3"/>
<circle cx="603.50" cy="796.20" r="4.15" fill="none" stroke="#000" stroke-opacity="0.58" stroke-width="1.3"/>
<circle cx="603.50" cy="798.80" r="4.15" fill="none" stroke="#000" stroke-opacity="0.58" stroke-width="1.3"/>
<circle cx="603.50" cy="800.00" r="4.15" fill="none" stroke="#000" stroke-opacity="0.58" stroke-width="1.3"/>
<circle cx="603.50" cy="801.50" r="4.15" fill="none" stroke="#000" stroke-opacity="0.58" stroke-width="1.3"/>
<circle cx="603.50" cy="804.00" r="4.15" fill="none" stroke="#000" stroke-opacity="0.58" stroke-width="1.3"/>
<circle cx="603.50" cy="806.00" r="4.15" fill="none" stroke="#000" stroke-opacity="0.58" stroke-width="1.3"/>
<circle cx="603.50" cy="807.60" r="4.15" fill="none" stroke="#000" stroke-opacity="0.58" stroke-width="1.3"/>
<circle cx="603.50" cy="810.20" r="4.15" fill="none" stroke="#000" stroke-opacity="0.58" stroke-width="1.3"/>
<circle cx="603.50" cy="811.10" r="4.15" fill="none" stroke="#000" stroke-opacity="0.58" stroke-width="1.3"/>
<circle cx="603.50" cy="813.70" r="4.15" fill="none" stroke="#000" stroke-opacity="0.58" stroke-width="1.3"/>
<circle cx="603.50" cy="819.90" r="4.15" fill="none" stroke="#000" stroke-opacity="0.58" stroke-width="1.3"/>
<circle cx="603.50" cy="821.60" r="4.15" fill="none" stroke="#000" stroke-opacity="0.58" stroke-width="1.3"/>
<circle cx="603.50" cy="833.00" r="4.15" fill="none" stroke="#000" stroke-opacity="0.58" stroke-width="1.3"/>
<circle cx="582.50" cy="795.00" r="5.7" fill="#000"/>
<line x1="582.50" y1="791.00" x2="582.50" y2="799.00" stroke="#8a8a8a" stroke-width="1.1" />
<line x1="578.10" y1="791.00" x2="586.90" y2="791.00" stroke="#a8a8a8" stroke-width="1.3" />
<line x1="578.10" y1="799.00" x2="586.90" y2="799.00" stroke="#a8a8a8" stroke-width="1.3" />
<line x1="656.10" y1="748.00" x2="656.10" y2="723.50" stroke="#79c551" stroke-width="1.1" stroke-dasharray="12.5 8.3"/>
<line x1="656.10" y1="828.30" x2="656.10" y2="796.20" stroke="#79c551" stroke-width="1.1" stroke-dasharray="12.5 8.3"/>
<line x1="648.40" y1="723.50" x2="663.80" y2="723.50" stroke="#79c551" stroke-width="1.1" />
<line x1="648.40" y1="828.30" x2="663.80" y2="828.30" stroke="#79c551" stroke-width="1.1" />
<rect x="640.50" y="748.00" width="31.20" height="48.20" fill="none" stroke="#79c551" stroke-width="1.1"/>
<line x1="640.50" y1="779.60" x2="671.70" y2="779.60" stroke="#79c551" stroke-width="1.1" />
<line x1="651.10" y1="621.90" x2="661.10" y2="621.90" stroke="#ff2020" stroke-width="1.0" />
<line x1="656.10" y1="616.90" x2="656.10" y2="626.90" stroke="#ff2020" stroke-width="1.0" />
<line x1="651.10" y1="652.70" x2="661.10" y2="652.70" stroke="#ff2020" stroke-width="1.0" />
<line x1="656.10" y1="647.70" x2="656.10" y2="657.70" stroke="#ff2020" stroke-width="1.0" />
<circle cx="640.30" cy="621.40" r="4.15" fill="none" stroke="#5db52e" stroke-opacity="0.58" stroke-width="1.3"/>
<circle cx="640.30" cy="652.20" r="4.15" fill="none" stroke="#5db52e" stroke-opacity="0.58" stroke-width="1.3"/>
<circle cx="640.30" cy="722.30" r="4.15" fill="none" stroke="#5db52e" stroke-opacity="0.58" stroke-width="1.3"/>
<circle cx="640.30" cy="741.90" r="4.15" fill="none" stroke="#5db52e" stroke-opacity="0.58" stroke-width="1.3"/>
<circle cx="640.30" cy="745.40" r="4.15" fill="none" stroke="#5db52e" stroke-opacity="0.58" stroke-width="1.3"/>
<circle cx="640.30" cy="747.20" r="4.15" fill="none" stroke="#5db52e" stroke-opacity="0.58" stroke-width="1.3"/>
<circle cx="640.30" cy="750.00" r="4.15" fill="none" stroke="#5db52e" stroke-opacity="0.58" stroke-width="1.3"/>
<circle cx="640.30" cy="754.20" r="4.15" fill="none" stroke="#5db52e" stroke-opacity="0.58" stroke-width="1.3"/>
<circle cx="640.30" cy="757.70" r="4.15" fill="none" stroke="#5db52e" stroke-opacity="0.58" stroke-width="1.3"/>
<circle cx="640.30" cy="761.20" r="4.15" fill="none" stroke="#5db52e" stroke-opacity="0.58" stroke-width="1.3"/>
<circle cx="640.30" cy="776.00" r="4.15" fill="none" stroke="#5db52e" stroke-opacity="0.58" stroke-width="1.3"/>
<circle cx="640.30" cy="778.70" r="4.15" fill="none" stroke="#5db52e" stroke-opacity="0.58" stroke-width="1.3"/>
<circle cx="640.30" cy="780.40" r="4.15" fill="none" stroke="#5db52e" stroke-opacity="0.58" stroke-width="1.3"/>
<circle cx="640.30" cy="783.00" r="4.15" fill="none" stroke="#5db52e" stroke-opacity="0.58" stroke-width="1.3"/>
<circle cx="640.30" cy="785.00" r="4.15" fill="none" stroke="#5db52e" stroke-opacity="0.58" stroke-width="1.3"/>
<circle cx="640.30" cy="788.30" r="4.15" fill="none" stroke="#5db52e" stroke-opacity="0.58" stroke-width="1.3"/>
<circle cx="640.30" cy="794.50" r="4.15" fill="none" stroke="#5db52e" stroke-opacity="0.58" stroke-width="1.3"/>
<circle cx="640.30" cy="797.10" r="4.15" fill="none" stroke="#5db52e" stroke-opacity="0.58" stroke-width="1.3"/>
<circle cx="640.30" cy="801.50" r="4.15" fill="none" stroke="#5db52e" stroke-opacity="0.58" stroke-width="1.3"/>
<circle cx="640.30" cy="804.10" r="4.15" fill="none" stroke="#5db52e" stroke-opacity="0.58" stroke-width="1.3"/>
<circle cx="640.30" cy="820.70" r="4.15" fill="none" stroke="#5db52e" stroke-opacity="0.58" stroke-width="1.3"/>
<circle cx="640.30" cy="827.70" r="4.15" fill="none" stroke="#5db52e" stroke-opacity="0.58" stroke-width="1.3"/>
<circle cx="660.80" cy="765.50" r="5.7" fill="#4cb01a"/>
<line x1="660.80" y1="755.60" x2="660.80" y2="776.40" stroke="#8a8a8a" stroke-width="1.1" />
<line x1="656.40" y1="755.60" x2="665.20" y2="755.60" stroke="#a8a8a8" stroke-width="1.3" />
<line x1="656.40" y1="776.40" x2="665.20" y2="776.40" stroke="#a8a8a8" stroke-width="1.3" />
<line x1="69.00" y1="890.80" x2="69.00" y2="1126.00" stroke="#262626" stroke-width="1" />
<line x1="69.00" y1="1093.70" x2="71.60" y2="1093.70" stroke="#262626" stroke-width="1" />
<text x="61.80" y="1098.30" font-size="15.5" text-anchor="end" fill="#1e1e1e" stroke="#1e1e1e" stroke-width="0.22" >0.1</text>
<line x1="69.00" y1="1034.50" x2="71.60" y2="1034.50" stroke="#262626" stroke-width="1" />
<text x="61.80" y="1039.10" font-size="15.5" text-anchor="end" fill="#1e1e1e" stroke="#1e1e1e" stroke-width="0.22" >0.2</text>
<line x1="69.00" y1="975.60" x2="71.60" y2="975.60" stroke="#262626" stroke-width="1" />
<text x="61.80" y="980.20" font-size="15.5" text-anchor="end" fill="#1e1e1e" stroke="#1e1e1e" stroke-width="0.22" >0.3</text>
<line x1="69.00" y1="916.80" x2="71.60" y2="916.80" stroke="#262626" stroke-width="1" />
<text x="61.80" y="921.40" font-size="15.5" text-anchor="end" fill="#1e1e1e" stroke="#1e1e1e" stroke-width="0.22" >0.4</text>
<line x1="69.00" y1="1126.00" x2="69.00" y2="1126.00" stroke="#262626" stroke-width="1" />
<line x1="64.00" y1="1130.20" x2="72.00" y2="1125.30" stroke="#262626" stroke-width="1.1" />
<line x1="66.00" y1="1133.60" x2="73.60" y2="1128.00" stroke="#262626" stroke-width="1.1" />
<line x1="69.00" y1="1131.20" x2="69.00" y2="1136.80" stroke="#262626" stroke-width="1" />
<line x1="69.00" y1="1136.80" x2="71.90" y2="1136.80" stroke="#262626" stroke-width="1" />
<text x="61.80" y="1142.20" font-size="15.5" text-anchor="end" fill="#1e1e1e" stroke="#1e1e1e" stroke-width="0.22" >0</text>
<text x="0" y="0" font-size="15.3" text-anchor="middle" fill="#1e1e1e" stroke="#1e1e1e" stroke-width="0.22" transform="translate(25.00 1013.90) rotate(-90)">FWHM (s)</text>
<line x1="120.40" y1="884.40" x2="188.20" y2="884.40" stroke="#444" stroke-width="0.9" />
<line x1="120.40" y1="882.40" x2="120.40" y2="886.40" stroke="#444" stroke-width="0.9" />
<line x1="188.20" y1="882.40" x2="188.20" y2="886.40" stroke="#444" stroke-width="0.9" />
<text x="127.30" y="877.70" font-size="10.8" font-style="italic" fill="#222" textLength="46.5" lengthAdjust="spacingAndGlyphs">p=0.003,</text>
<text x="174.90" y="874.20" font-size="7.4" font-style="italic" fill="#222">(2)</text>
<line x1="135.20" y1="900.70" x2="171.70" y2="958.50" stroke="#d8d8d8" stroke-width="0.7" />
<line x1="135.20" y1="1011.40" x2="171.70" y2="939.00" stroke="#d8d8d8" stroke-width="0.7" />
<line x1="135.20" y1="1014.00" x2="171.70" y2="971.10" stroke="#d8d8d8" stroke-width="0.7" />
<line x1="135.20" y1="1019.30" x2="171.70" y2="999.10" stroke="#d8d8d8" stroke-width="0.7" />
<line x1="135.20" y1="1028.90" x2="171.70" y2="991.20" stroke="#d8d8d8" stroke-width="0.7" />
<line x1="135.20" y1="1031.50" x2="171.70" y2="1013.00" stroke="#d8d8d8" stroke-width="0.7" />
<line x1="135.20" y1="1034.20" x2="171.70" y2="975.50" stroke="#d8d8d8" stroke-width="0.7" />
<line x1="135.20" y1="1036.80" x2="171.70" y2="988.60" stroke="#d8d8d8" stroke-width="0.7" />
<line x1="135.20" y1="1039.40" x2="171.70" y2="1030.00" stroke="#d8d8d8" stroke-width="0.7" />
<line x1="135.20" y1="1042.00" x2="171.70" y2="1016.60" stroke="#d8d8d8" stroke-width="0.7" />
<line x1="135.20" y1="1045.00" x2="171.70" y2="979.00" stroke="#d8d8d8" stroke-width="0.7" />
<line x1="135.20" y1="1048.20" x2="171.70" y2="1035.90" stroke="#d8d8d8" stroke-width="0.7" />
<line x1="135.20" y1="1049.90" x2="171.70" y2="1010.50" stroke="#d8d8d8" stroke-width="0.7" />
<line x1="135.20" y1="1057.80" x2="171.70" y2="1001.80" stroke="#d8d8d8" stroke-width="0.7" />
<line x1="135.20" y1="1059.60" x2="171.70" y2="1040.30" stroke="#d8d8d8" stroke-width="0.7" />
<line x1="135.20" y1="1061.30" x2="171.70" y2="1027.20" stroke="#d8d8d8" stroke-width="0.7" />
<line x1="135.20" y1="1063.90" x2="171.70" y2="1033.30" stroke="#d8d8d8" stroke-width="0.7" />
<line x1="135.20" y1="1067.40" x2="171.70" y2="1060.10" stroke="#d8d8d8" stroke-width="0.7" />
<line x1="135.20" y1="1070.00" x2="171.70" y2="1048.70" stroke="#d8d8d8" stroke-width="0.7" />
<line x1="135.20" y1="1077.10" x2="171.70" y2="1006.10" stroke="#d8d8d8" stroke-width="0.7" />
<line x1="135.20" y1="1083.20" x2="171.70" y2="1021.00" stroke="#d8d8d8" stroke-width="0.7" />
<line x1="135.20" y1="1098.10" x2="171.70" y2="1112.50" stroke="#d8d8d8" stroke-width="0.7" />
<line x1="120.40" y1="1032.40" x2="120.40" y2="1013.50" stroke="#000" stroke-width="1.1" stroke-dasharray="12.5 8.3"/>
<line x1="120.40" y1="1099.00" x2="120.40" y2="1063.40" stroke="#000" stroke-width="1.1" stroke-dasharray="12.5 8.3"/>
<line x1="112.70" y1="1013.50" x2="128.10" y2="1013.50" stroke="#000" stroke-width="1.1" />
<line x1="112.70" y1="1099.00" x2="128.10" y2="1099.00" stroke="#000" stroke-width="1.1" />
<rect x="104.80" y="1032.40" width="31.20" height="31.00" fill="none" stroke="#000" stroke-width="1.1"/>
<line x1="104.80" y1="1049.60" x2="136.00" y2="1049.60" stroke="#000" stroke-width="1.1" />
<line x1="115.40" y1="901.00" x2="125.40" y2="901.00" stroke="#ff2020" stroke-width="1.0" />
<line x1="120.40" y1="896.00" x2="120.40" y2="906.00" stroke="#ff2020" stroke-width="1.0" />
<circle cx="135.20" cy="900.70" r="4.15" fill="none" stroke="#000" stroke-opacity="0.58" stroke-width="1.3"/>
<circle cx="135.20" cy="1011.40" r="4.15" fill="none" stroke="#000" stroke-opacity="0.58" stroke-width="1.3"/>
<circle cx="135.20" cy="1014.00" r="4.15" fill="none" stroke="#000" stroke-opacity="0.58" stroke-width="1.3"/>
<circle cx="135.20" cy="1019.30" r="4.15" fill="none" stroke="#000" stroke-opacity="0.58" stroke-width="1.3"/>
<circle cx="135.20" cy="1028.90" r="4.15" fill="none" stroke="#000" stroke-opacity="0.58" stroke-width="1.3"/>
<circle cx="135.20" cy="1031.50" r="4.15" fill="none" stroke="#000" stroke-opacity="0.58" stroke-width="1.3"/>
<circle cx="135.20" cy="1034.20" r="4.15" fill="none" stroke="#000" stroke-opacity="0.58" stroke-width="1.3"/>
<circle cx="135.20" cy="1036.80" r="4.15" fill="none" stroke="#000" stroke-opacity="0.58" stroke-width="1.3"/>
<circle cx="135.20" cy="1039.40" r="4.15" fill="none" stroke="#000" stroke-opacity="0.58" stroke-width="1.3"/>
<circle cx="135.20" cy="1042.00" r="4.15" fill="none" stroke="#000" stroke-opacity="0.58" stroke-width="1.3"/>
<circle cx="135.20" cy="1045.00" r="4.15" fill="none" stroke="#000" stroke-opacity="0.58" stroke-width="1.3"/>
<circle cx="135.20" cy="1048.20" r="4.15" fill="none" stroke="#000" stroke-opacity="0.58" stroke-width="1.3"/>
<circle cx="135.20" cy="1049.90" r="4.15" fill="none" stroke="#000" stroke-opacity="0.58" stroke-width="1.3"/>
<circle cx="135.20" cy="1057.80" r="4.15" fill="none" stroke="#000" stroke-opacity="0.58" stroke-width="1.3"/>
<circle cx="135.20" cy="1059.60" r="4.15" fill="none" stroke="#000" stroke-opacity="0.58" stroke-width="1.3"/>
<circle cx="135.20" cy="1061.30" r="4.15" fill="none" stroke="#000" stroke-opacity="0.58" stroke-width="1.3"/>
<circle cx="135.20" cy="1063.90" r="4.15" fill="none" stroke="#000" stroke-opacity="0.58" stroke-width="1.3"/>
<circle cx="135.20" cy="1067.40" r="4.15" fill="none" stroke="#000" stroke-opacity="0.58" stroke-width="1.3"/>
<circle cx="135.20" cy="1070.00" r="4.15" fill="none" stroke="#000" stroke-opacity="0.58" stroke-width="1.3"/>
<circle cx="135.20" cy="1077.10" r="4.15" fill="none" stroke="#000" stroke-opacity="0.58" stroke-width="1.3"/>
<circle cx="135.20" cy="1083.20" r="4.15" fill="none" stroke="#000" stroke-opacity="0.58" stroke-width="1.3"/>
<circle cx="135.20" cy="1098.10" r="4.15" fill="none" stroke="#000" stroke-opacity="0.58" stroke-width="1.3"/>
<circle cx="114.60" cy="1042.90" r="5.7" fill="#000"/>
<line x1="114.60" y1="1035.90" x2="114.60" y2="1051.70" stroke="#8a8a8a" stroke-width="1.1" />
<line x1="110.20" y1="1035.90" x2="119.00" y2="1035.90" stroke="#a8a8a8" stroke-width="1.3" />
<line x1="110.20" y1="1051.70" x2="119.00" y2="1051.70" stroke="#a8a8a8" stroke-width="1.3" />
<line x1="187.90" y1="989.50" x2="187.90" y2="939.60" stroke="#79c551" stroke-width="1.1" stroke-dasharray="12.5 8.3"/>
<line x1="187.90" y1="1060.80" x2="187.90" y2="1035.00" stroke="#79c551" stroke-width="1.1" stroke-dasharray="12.5 8.3"/>
<line x1="180.20" y1="939.60" x2="195.60" y2="939.60" stroke="#79c551" stroke-width="1.1" />
<line x1="180.20" y1="1060.80" x2="195.60" y2="1060.80" stroke="#79c551" stroke-width="1.1" />
<rect x="172.30" y="989.50" width="31.20" height="45.50" fill="none" stroke="#79c551" stroke-width="1.1"/>
<line x1="172.30" y1="1009.10" x2="203.50" y2="1009.10" stroke="#79c551" stroke-width="1.1" />
<line x1="182.90" y1="1113.50" x2="192.90" y2="1113.50" stroke="#ff2020" stroke-width="1.0" />
<line x1="187.90" y1="1108.50" x2="187.90" y2="1118.50" stroke="#ff2020" stroke-width="1.0" />
<circle cx="171.70" cy="939.00" r="4.15" fill="none" stroke="#5db52e" stroke-opacity="0.58" stroke-width="1.3"/>
<circle cx="171.70" cy="958.50" r="4.15" fill="none" stroke="#5db52e" stroke-opacity="0.58" stroke-width="1.3"/>
<circle cx="171.70" cy="971.10" r="4.15" fill="none" stroke="#5db52e" stroke-opacity="0.58" stroke-width="1.3"/>
<circle cx="171.70" cy="975.50" r="4.15" fill="none" stroke="#5db52e" stroke-opacity="0.58" stroke-width="1.3"/>
<circle cx="171.70" cy="979.00" r="4.15" fill="none" stroke="#5db52e" stroke-opacity="0.58" stroke-width="1.3"/>
<circle cx="171.70" cy="988.60" r="4.15" fill="none" stroke="#5db52e" stroke-opacity="0.58" stroke-width="1.3"/>
<circle cx="171.70" cy="991.20" r="4.15" fill="none" stroke="#5db52e" stroke-opacity="0.58" stroke-width="1.3"/>
<circle cx="171.70" cy="999.10" r="4.15" fill="none" stroke="#5db52e" stroke-opacity="0.58" stroke-width="1.3"/>
<circle cx="171.70" cy="1001.80" r="4.15" fill="none" stroke="#5db52e" stroke-opacity="0.58" stroke-width="1.3"/>
<circle cx="171.70" cy="1006.10" r="4.15" fill="none" stroke="#5db52e" stroke-opacity="0.58" stroke-width="1.3"/>
<circle cx="171.70" cy="1010.50" r="4.15" fill="none" stroke="#5db52e" stroke-opacity="0.58" stroke-width="1.3"/>
<circle cx="171.70" cy="1013.00" r="4.15" fill="none" stroke="#5db52e" stroke-opacity="0.58" stroke-width="1.3"/>
<circle cx="171.70" cy="1016.60" r="4.15" fill="none" stroke="#5db52e" stroke-opacity="0.58" stroke-width="1.3"/>
<circle cx="171.70" cy="1021.00" r="4.15" fill="none" stroke="#5db52e" stroke-opacity="0.58" stroke-width="1.3"/>
<circle cx="171.70" cy="1027.20" r="4.15" fill="none" stroke="#5db52e" stroke-opacity="0.58" stroke-width="1.3"/>
<circle cx="171.70" cy="1030.00" r="4.15" fill="none" stroke="#5db52e" stroke-opacity="0.58" stroke-width="1.3"/>
<circle cx="171.70" cy="1033.30" r="4.15" fill="none" stroke="#5db52e" stroke-opacity="0.58" stroke-width="1.3"/>
<circle cx="171.70" cy="1035.90" r="4.15" fill="none" stroke="#5db52e" stroke-opacity="0.58" stroke-width="1.3"/>
<circle cx="171.70" cy="1040.30" r="4.15" fill="none" stroke="#5db52e" stroke-opacity="0.58" stroke-width="1.3"/>
<circle cx="171.70" cy="1048.70" r="4.15" fill="none" stroke="#5db52e" stroke-opacity="0.58" stroke-width="1.3"/>
<circle cx="171.70" cy="1060.10" r="4.15" fill="none" stroke="#5db52e" stroke-opacity="0.58" stroke-width="1.3"/>
<circle cx="171.70" cy="1112.50" r="4.15" fill="none" stroke="#5db52e" stroke-opacity="0.58" stroke-width="1.3"/>
<circle cx="192.20" cy="1010.90" r="5.7" fill="#4cb01a"/>
<line x1="192.20" y1="1003.20" x2="192.20" y2="1019.30" stroke="#8a8a8a" stroke-width="1.1" />
<line x1="187.80" y1="1003.20" x2="196.60" y2="1003.20" stroke="#a8a8a8" stroke-width="1.3" />
<line x1="187.80" y1="1019.30" x2="196.60" y2="1019.30" stroke="#a8a8a8" stroke-width="1.3" />
<line x1="314.50" y1="890.20" x2="314.50" y2="1125.00" stroke="#262626" stroke-width="1" />
<line x1="314.50" y1="1072.20" x2="317.10" y2="1072.20" stroke="#262626" stroke-width="1" />
<text x="307.30" y="1076.80" font-size="15.5" text-anchor="end" fill="#1e1e1e" stroke="#1e1e1e" stroke-width="0.22" >0.1</text>
<line x1="314.50" y1="1000.40" x2="317.10" y2="1000.40" stroke="#262626" stroke-width="1" />
<text x="307.30" y="1005.00" font-size="15.5" text-anchor="end" fill="#1e1e1e" stroke="#1e1e1e" stroke-width="0.22" >0.15</text>
<line x1="314.50" y1="928.20" x2="317.10" y2="928.20" stroke="#262626" stroke-width="1" />
<text x="307.30" y="932.80" font-size="15.5" text-anchor="end" fill="#1e1e1e" stroke="#1e1e1e" stroke-width="0.22" >0.2</text>
<line x1="314.50" y1="1125.00" x2="314.50" y2="1125.00" stroke="#262626" stroke-width="1" />
<line x1="309.50" y1="1129.20" x2="317.50" y2="1124.30" stroke="#262626" stroke-width="1.1" />
<line x1="311.50" y1="1132.60" x2="319.10" y2="1127.00" stroke="#262626" stroke-width="1.1" />
<line x1="314.50" y1="1130.20" x2="314.50" y2="1135.40" stroke="#262626" stroke-width="1" />
<line x1="314.50" y1="1135.40" x2="317.40" y2="1135.40" stroke="#262626" stroke-width="1" />
<text x="307.30" y="1140.80" font-size="15.5" text-anchor="end" fill="#1e1e1e" stroke="#1e1e1e" stroke-width="0.22" >0</text>
<text x="0" y="0" font-size="15.3" text-anchor="middle" fill="#1e1e1e" stroke="#1e1e1e" stroke-width="0.22" transform="translate(261.80 1012.90) rotate(-90)">Rise time (s)</text>
<line x1="366.30" y1="884.40" x2="433.40" y2="884.40" stroke="#444" stroke-width="0.9" />
<line x1="366.30" y1="882.40" x2="366.30" y2="886.40" stroke="#444" stroke-width="0.9" />
<line x1="433.40" y1="882.40" x2="433.40" y2="886.40" stroke="#444" stroke-width="0.9" />
<text x="372.85" y="877.70" font-size="10.8" font-style="italic" fill="#222" textLength="46.5" lengthAdjust="spacingAndGlyphs">p=0.036,</text>
<text x="420.45" y="874.20" font-size="7.4" font-style="italic" fill="#222">(1)</text>
<line x1="381.00" y1="900.70" x2="417.40" y2="925.50" stroke="#d8d8d8" stroke-width="0.7" />
<line x1="381.00" y1="948.30" x2="417.40" y2="947.40" stroke="#d8d8d8" stroke-width="0.7" />
<line x1="381.00" y1="956.20" x2="417.40" y2="956.70" stroke="#d8d8d8" stroke-width="0.7" />
<line x1="381.00" y1="964.60" x2="417.40" y2="1001.80" stroke="#d8d8d8" stroke-width="0.7" />
<line x1="381.00" y1="993.50" x2="417.40" y2="1014.00" stroke="#d8d8d8" stroke-width="0.7" />
<line x1="381.00" y1="1019.30" x2="417.40" y2="964.10" stroke="#d8d8d8" stroke-width="0.7" />
<line x1="381.00" y1="1022.40" x2="417.40" y2="969.30" stroke="#d8d8d8" stroke-width="0.7" />
<line x1="381.00" y1="1024.50" x2="417.40" y2="986.90" stroke="#d8d8d8" stroke-width="0.7" />
<line x1="381.00" y1="1036.80" x2="417.40" y2="946.20" stroke="#d8d8d8" stroke-width="0.7" />
<line x1="381.00" y1="1042.00" x2="417.40" y2="1000.90" stroke="#d8d8d8" stroke-width="0.7" />
<line x1="381.00" y1="1044.70" x2="417.40" y2="1047.30" stroke="#d8d8d8" stroke-width="0.7" />
<line x1="381.00" y1="1046.40" x2="417.40" y2="998.30" stroke="#d8d8d8" stroke-width="0.7" />
<line x1="381.00" y1="1048.70" x2="417.40" y2="966.70" stroke="#d8d8d8" stroke-width="0.7" />
<line x1="381.00" y1="1061.30" x2="417.40" y2="979.90" stroke="#d8d8d8" stroke-width="0.7" />
<line x1="381.00" y1="1080.60" x2="417.40" y2="1029.80" stroke="#d8d8d8" stroke-width="0.7" />
<line x1="381.00" y1="1084.10" x2="417.40" y2="1090.20" stroke="#d8d8d8" stroke-width="0.7" />
<line x1="381.00" y1="1086.70" x2="417.40" y2="1101.60" stroke="#d8d8d8" stroke-width="0.7" />
<line x1="381.00" y1="1089.00" x2="417.40" y2="1081.50" stroke="#d8d8d8" stroke-width="0.7" />
<line x1="381.00" y1="1092.00" x2="417.40" y2="1049.90" stroke="#d8d8d8" stroke-width="0.7" />
<line x1="381.00" y1="1094.60" x2="417.40" y2="1057.80" stroke="#d8d8d8" stroke-width="0.7" />
<line x1="381.00" y1="1097.20" x2="417.40" y2="1086.70" stroke="#d8d8d8" stroke-width="0.7" />
<line x1="381.00" y1="1112.10" x2="417.40" y2="1063.10" stroke="#d8d8d8" stroke-width="0.7" />
<line x1="366.00" y1="1021.40" x2="366.00" y2="949.60" stroke="#000" stroke-width="1.1" stroke-dasharray="12.5 8.3"/>
<line x1="366.00" y1="1113.50" x2="366.00" y2="1085.80" stroke="#000" stroke-width="1.1" stroke-dasharray="12.5 8.3"/>
<line x1="358.30" y1="949.60" x2="373.70" y2="949.60" stroke="#000" stroke-width="1.1" />
<line x1="358.30" y1="1113.50" x2="373.70" y2="1113.50" stroke="#000" stroke-width="1.1" />
<rect x="350.40" y="1021.40" width="31.20" height="64.40" fill="none" stroke="#000" stroke-width="1.1"/>
<line x1="350.40" y1="1045.50" x2="381.60" y2="1045.50" stroke="#000" stroke-width="1.1" />
<line x1="361.00" y1="901.40" x2="371.00" y2="901.40" stroke="#ff2020" stroke-width="1.0" />
<line x1="366.00" y1="896.40" x2="366.00" y2="906.40" stroke="#ff2020" stroke-width="1.0" />
<circle cx="381.00" cy="900.70" r="4.15" fill="none" stroke="#000" stroke-opacity="0.58" stroke-width="1.3"/>
<circle cx="381.00" cy="948.30" r="4.15" fill="none" stroke="#000" stroke-opacity="0.58" stroke-width="1.3"/>
<circle cx="381.00" cy="956.20" r="4.15" fill="none" stroke="#000" stroke-opacity="0.58" stroke-width="1.3"/>
<circle cx="381.00" cy="964.60" r="4.15" fill="none" stroke="#000" stroke-opacity="0.58" stroke-width="1.3"/>
<circle cx="381.00" cy="993.50" r="4.15" fill="none" stroke="#000" stroke-opacity="0.58" stroke-width="1.3"/>
<circle cx="381.00" cy="1019.30" r="4.15" fill="none" stroke="#000" stroke-opacity="0.58" stroke-width="1.3"/>
<circle cx="381.00" cy="1022.40" r="4.15" fill="none" stroke="#000" stroke-opacity="0.58" stroke-width="1.3"/>
<circle cx="381.00" cy="1024.50" r="4.15" fill="none" stroke="#000" stroke-opacity="0.58" stroke-width="1.3"/>
<circle cx="381.00" cy="1036.80" r="4.15" fill="none" stroke="#000" stroke-opacity="0.58" stroke-width="1.3"/>
<circle cx="381.00" cy="1042.00" r="4.15" fill="none" stroke="#000" stroke-opacity="0.58" stroke-width="1.3"/>
<circle cx="381.00" cy="1044.70" r="4.15" fill="none" stroke="#000" stroke-opacity="0.58" stroke-width="1.3"/>
<circle cx="381.00" cy="1046.40" r="4.15" fill="none" stroke="#000" stroke-opacity="0.58" stroke-width="1.3"/>
<circle cx="381.00" cy="1048.70" r="4.15" fill="none" stroke="#000" stroke-opacity="0.58" stroke-width="1.3"/>
<circle cx="381.00" cy="1061.30" r="4.15" fill="none" stroke="#000" stroke-opacity="0.58" stroke-width="1.3"/>
<circle cx="381.00" cy="1080.60" r="4.15" fill="none" stroke="#000" stroke-opacity="0.58" stroke-width="1.3"/>
<circle cx="381.00" cy="1084.10" r="4.15" fill="none" stroke="#000" stroke-opacity="0.58" stroke-width="1.3"/>
<circle cx="381.00" cy="1086.70" r="4.15" fill="none" stroke="#000" stroke-opacity="0.58" stroke-width="1.3"/>
<circle cx="381.00" cy="1089.00" r="4.15" fill="none" stroke="#000" stroke-opacity="0.58" stroke-width="1.3"/>
<circle cx="381.00" cy="1092.00" r="4.15" fill="none" stroke="#000" stroke-opacity="0.58" stroke-width="1.3"/>
<circle cx="381.00" cy="1094.60" r="4.15" fill="none" stroke="#000" stroke-opacity="0.58" stroke-width="1.3"/>
<circle cx="381.00" cy="1097.20" r="4.15" fill="none" stroke="#000" stroke-opacity="0.58" stroke-width="1.3"/>
<circle cx="381.00" cy="1112.10" r="4.15" fill="none" stroke="#000" stroke-opacity="0.58" stroke-width="1.3"/>
<circle cx="360.50" cy="1038.50" r="5.7" fill="#000"/>
<line x1="360.50" y1="1027.50" x2="360.50" y2="1051.20" stroke="#8a8a8a" stroke-width="1.1" />
<line x1="356.10" y1="1027.50" x2="364.90" y2="1027.50" stroke="#a8a8a8" stroke-width="1.3" />
<line x1="356.10" y1="1051.20" x2="364.90" y2="1051.20" stroke="#a8a8a8" stroke-width="1.3" />
<line x1="433.70" y1="968.50" x2="433.70" y2="925.90" stroke="#79c551" stroke-width="1.1" stroke-dasharray="12.5 8.3"/>
<line x1="433.70" y1="1102.50" x2="433.70" y2="1059.60" stroke="#79c551" stroke-width="1.1" stroke-dasharray="12.5 8.3"/>
<line x1="426.00" y1="925.90" x2="441.40" y2="925.90" stroke="#79c551" stroke-width="1.1" />
<line x1="426.00" y1="1102.50" x2="441.40" y2="1102.50" stroke="#79c551" stroke-width="1.1" />
<rect x="418.10" y="968.50" width="31.20" height="91.10" fill="none" stroke="#79c551" stroke-width="1.1"/>
<line x1="418.10" y1="1009.10" x2="449.30" y2="1009.10" stroke="#79c551" stroke-width="1.1" />
<circle cx="417.40" cy="925.50" r="4.15" fill="none" stroke="#5db52e" stroke-opacity="0.58" stroke-width="1.3"/>
<circle cx="417.40" cy="946.20" r="4.15" fill="none" stroke="#5db52e" stroke-opacity="0.58" stroke-width="1.3"/>
<circle cx="417.40" cy="947.40" r="4.15" fill="none" stroke="#5db52e" stroke-opacity="0.58" stroke-width="1.3"/>
<circle cx="417.40" cy="956.70" r="4.15" fill="none" stroke="#5db52e" stroke-opacity="0.58" stroke-width="1.3"/>
<circle cx="417.40" cy="964.10" r="4.15" fill="none" stroke="#5db52e" stroke-opacity="0.58" stroke-width="1.3"/>
<circle cx="417.40" cy="966.70" r="4.15" fill="none" stroke="#5db52e" stroke-opacity="0.58" stroke-width="1.3"/>
<circle cx="417.40" cy="969.30" r="4.15" fill="none" stroke="#5db52e" stroke-opacity="0.58" stroke-width="1.3"/>
<circle cx="417.40" cy="979.90" r="4.15" fill="none" stroke="#5db52e" stroke-opacity="0.58" stroke-width="1.3"/>
<circle cx="417.40" cy="986.90" r="4.15" fill="none" stroke="#5db52e" stroke-opacity="0.58" stroke-width="1.3"/>
<circle cx="417.40" cy="998.30" r="4.15" fill="none" stroke="#5db52e" stroke-opacity="0.58" stroke-width="1.3"/>
<circle cx="417.40" cy="1000.90" r="4.15" fill="none" stroke="#5db52e" stroke-opacity="0.58" stroke-width="1.3"/>
<circle cx="417.40" cy="1001.80" r="4.15" fill="none" stroke="#5db52e" stroke-opacity="0.58" stroke-width="1.3"/>
<circle cx="417.40" cy="1014.00" r="4.15" fill="none" stroke="#5db52e" stroke-opacity="0.58" stroke-width="1.3"/>
<circle cx="417.40" cy="1029.80" r="4.15" fill="none" stroke="#5db52e" stroke-opacity="0.58" stroke-width="1.3"/>
<circle cx="417.40" cy="1047.30" r="4.15" fill="none" stroke="#5db52e" stroke-opacity="0.58" stroke-width="1.3"/>
<circle cx="417.40" cy="1049.90" r="4.15" fill="none" stroke="#5db52e" stroke-opacity="0.58" stroke-width="1.3"/>
<circle cx="417.40" cy="1057.80" r="4.15" fill="none" stroke="#5db52e" stroke-opacity="0.58" stroke-width="1.3"/>
<circle cx="417.40" cy="1063.10" r="4.15" fill="none" stroke="#5db52e" stroke-opacity="0.58" stroke-width="1.3"/>
<circle cx="417.40" cy="1081.50" r="4.15" fill="none" stroke="#5db52e" stroke-opacity="0.58" stroke-width="1.3"/>
<circle cx="417.40" cy="1086.70" r="4.15" fill="none" stroke="#5db52e" stroke-opacity="0.58" stroke-width="1.3"/>
<circle cx="417.40" cy="1090.20" r="4.15" fill="none" stroke="#5db52e" stroke-opacity="0.58" stroke-width="1.3"/>
<circle cx="417.40" cy="1101.60" r="4.15" fill="none" stroke="#5db52e" stroke-opacity="0.58" stroke-width="1.3"/>
<circle cx="438.50" cy="1014.00" r="5.7" fill="#4cb01a"/>
<line x1="438.50" y1="1003.20" x2="438.50" y2="1025.90" stroke="#8a8a8a" stroke-width="1.1" />
<line x1="434.10" y1="1003.20" x2="442.90" y2="1003.20" stroke="#a8a8a8" stroke-width="1.3" />
<line x1="434.10" y1="1025.90" x2="442.90" y2="1025.90" stroke="#a8a8a8" stroke-width="1.3" />
<line x1="539.70" y1="890.40" x2="539.70" y2="1123.60" stroke="#262626" stroke-width="1" />
<line x1="539.70" y1="1096.00" x2="542.30" y2="1096.00" stroke="#262626" stroke-width="1" />
<text x="535.30" y="1100.60" font-size="15.5" text-anchor="end" fill="#1e1e1e" stroke="#1e1e1e" stroke-width="0.22" >0.2</text>
<line x1="539.70" y1="1036.40" x2="542.30" y2="1036.40" stroke="#262626" stroke-width="1" />
<text x="535.30" y="1041.00" font-size="15.5" text-anchor="end" fill="#1e1e1e" stroke="#1e1e1e" stroke-width="0.22" >0.4</text>
<line x1="539.70" y1="976.40" x2="542.30" y2="976.40" stroke="#262626" stroke-width="1" />
<text x="535.30" y="981.00" font-size="15.5" text-anchor="end" fill="#1e1e1e" stroke="#1e1e1e" stroke-width="0.22" >0.6</text>
<line x1="539.70" y1="917.10" x2="542.30" y2="917.10" stroke="#262626" stroke-width="1" />
<text x="535.30" y="921.70" font-size="15.5" text-anchor="end" fill="#1e1e1e" stroke="#1e1e1e" stroke-width="0.22" >0.8</text>
<line x1="539.70" y1="1123.60" x2="539.70" y2="1123.60" stroke="#262626" stroke-width="1" />
<line x1="534.70" y1="1127.80" x2="542.70" y2="1122.90" stroke="#262626" stroke-width="1.1" />
<line x1="536.70" y1="1131.20" x2="544.30" y2="1125.60" stroke="#262626" stroke-width="1.1" />
<line x1="539.70" y1="1128.80" x2="539.70" y2="1136.20" stroke="#262626" stroke-width="1" />
<line x1="539.70" y1="1136.20" x2="542.60" y2="1136.20" stroke="#262626" stroke-width="1" />
<text x="535.30" y="1141.60" font-size="15.5" text-anchor="end" fill="#1e1e1e" stroke="#1e1e1e" stroke-width="0.22" >0</text>
<text x="0" y="0" font-size="15.3" text-anchor="middle" fill="#1e1e1e" stroke="#1e1e1e" stroke-width="0.22" transform="translate(499.10 1016.10) rotate(-90)">Decay time (s)</text>
<line x1="591.60" y1="884.40" x2="659.60" y2="884.40" stroke="#444" stroke-width="0.9" />
<line x1="591.60" y1="882.40" x2="591.60" y2="886.40" stroke="#444" stroke-width="0.9" />
<line x1="659.60" y1="882.40" x2="659.60" y2="886.40" stroke="#444" stroke-width="0.9" />
<text x="598.60" y="877.70" font-size="10.8" font-style="italic" fill="#222" textLength="46.5" lengthAdjust="spacingAndGlyphs">p=0.082,</text>
<text x="646.20" y="874.20" font-size="7.4" font-style="italic" fill="#222">(2)</text>
<line x1="606.20" y1="900.70" x2="642.60" y2="999.70" stroke="#d8d8d8" stroke-width="0.7" />
<line x1="606.20" y1="1023.10" x2="642.60" y2="1031.50" stroke="#d8d8d8" stroke-width="0.7" />
<line x1="606.20" y1="1047.30" x2="642.60" y2="1037.70" stroke="#d8d8d8" stroke-width="0.7" />
<line x1="606.20" y1="1059.60" x2="642.60" y2="1028.90" stroke="#d8d8d8" stroke-width="0.7" />
<line x1="606.20" y1="1063.10" x2="642.60" y2="1034.20" stroke="#d8d8d8" stroke-width="0.7" />
<line x1="606.20" y1="1065.70" x2="642.60" y2="1016.60" stroke="#d8d8d8" stroke-width="0.7" />
<line x1="606.20" y1="1067.00" x2="642.60" y2="1048.00" stroke="#d8d8d8" stroke-width="0.7" />
<line x1="606.20" y1="1069.20" x2="642.60" y2="1051.70" stroke="#d8d8d8" stroke-width="0.7" />
<line x1="606.20" y1="1071.80" x2="642.60" y2="1042.00" stroke="#d8d8d8" stroke-width="0.7" />
<line x1="606.20" y1="1073.00" x2="642.60" y2="1064.80" stroke="#d8d8d8" stroke-width="0.7" />
<line x1="606.20" y1="1074.50" x2="642.60" y2="1080.60" stroke="#d8d8d8" stroke-width="0.7" />
<line x1="606.20" y1="1077.10" x2="642.60" y2="1071.00" stroke="#d8d8d8" stroke-width="0.7" />
<line x1="606.20" y1="1079.70" x2="642.60" y2="1097.20" stroke="#d8d8d8" stroke-width="0.7" />
<line x1="606.20" y1="1081.00" x2="642.60" y2="1054.00" stroke="#d8d8d8" stroke-width="0.7" />
<line x1="606.20" y1="1082.30" x2="642.60" y2="1057.80" stroke="#d8d8d8" stroke-width="0.7" />
<line x1="606.20" y1="1085.80" x2="642.60" y2="1087.60" stroke="#d8d8d8" stroke-width="0.7" />
<line x1="606.20" y1="1088.50" x2="642.60" y2="1056.10" stroke="#d8d8d8" stroke-width="0.7" />
<line x1="606.20" y1="1090.00" x2="642.60" y2="1044.70" stroke="#d8d8d8" stroke-width="0.7" />
<line x1="606.20" y1="1092.00" x2="642.60" y2="1067.40" stroke="#d8d8d8" stroke-width="0.7" />
<line x1="606.20" y1="1100.70" x2="642.60" y2="1075.30" stroke="#d8d8d8" stroke-width="0.7" />
<line x1="606.20" y1="1102.50" x2="642.60" y2="1069.20" stroke="#d8d8d8" stroke-width="0.7" />
<line x1="606.20" y1="1108.60" x2="642.60" y2="1113.30" stroke="#d8d8d8" stroke-width="0.7" />
<line x1="591.60" y1="1065.20" x2="591.60" y2="1048.20" stroke="#000" stroke-width="1.1" stroke-dasharray="12.5 8.3"/>
<line x1="591.60" y1="1109.50" x2="591.60" y2="1088.10" stroke="#000" stroke-width="1.1" stroke-dasharray="12.5 8.3"/>
<line x1="583.90" y1="1048.20" x2="599.30" y2="1048.20" stroke="#000" stroke-width="1.1" />
<line x1="583.90" y1="1109.50" x2="599.30" y2="1109.50" stroke="#000" stroke-width="1.1" />
<rect x="576.00" y="1065.20" width="31.20" height="22.90" fill="none" stroke="#000" stroke-width="1.1"/>
<line x1="576.00" y1="1077.10" x2="607.20" y2="1077.10" stroke="#000" stroke-width="1.1" />
<line x1="586.60" y1="901.40" x2="596.60" y2="901.40" stroke="#ff2020" stroke-width="1.0" />
<line x1="591.60" y1="896.40" x2="591.60" y2="906.40" stroke="#ff2020" stroke-width="1.0" />
<line x1="586.60" y1="1024.00" x2="596.60" y2="1024.00" stroke="#ff2020" stroke-width="1.0" />
<line x1="591.60" y1="1019.00" x2="591.60" y2="1029.00" stroke="#ff2020" stroke-width="1.0" />
<circle cx="606.20" cy="900.70" r="4.15" fill="none" stroke="#000" stroke-opacity="0.58" stroke-width="1.3"/>
<circle cx="606.20" cy="1023.10" r="4.15" fill="none" stroke="#000" stroke-opacity="0.58" stroke-width="1.3"/>
<circle cx="606.20" cy="1047.30" r="4.15" fill="none" stroke="#000" stroke-opacity="0.58" stroke-width="1.3"/>
<circle cx="606.20" cy="1059.60" r="4.15" fill="none" stroke="#000" stroke-opacity="0.58" stroke-width="1.3"/>
<circle cx="606.20" cy="1063.10" r="4.15" fill="none" stroke="#000" stroke-opacity="0.58" stroke-width="1.3"/>
<circle cx="606.20" cy="1065.70" r="4.15" fill="none" stroke="#000" stroke-opacity="0.58" stroke-width="1.3"/>
<circle cx="606.20" cy="1067.00" r="4.15" fill="none" stroke="#000" stroke-opacity="0.58" stroke-width="1.3"/>
<circle cx="606.20" cy="1069.20" r="4.15" fill="none" stroke="#000" stroke-opacity="0.58" stroke-width="1.3"/>
<circle cx="606.20" cy="1071.80" r="4.15" fill="none" stroke="#000" stroke-opacity="0.58" stroke-width="1.3"/>
<circle cx="606.20" cy="1073.00" r="4.15" fill="none" stroke="#000" stroke-opacity="0.58" stroke-width="1.3"/>
<circle cx="606.20" cy="1074.50" r="4.15" fill="none" stroke="#000" stroke-opacity="0.58" stroke-width="1.3"/>
<circle cx="606.20" cy="1077.10" r="4.15" fill="none" stroke="#000" stroke-opacity="0.58" stroke-width="1.3"/>
<circle cx="606.20" cy="1079.70" r="4.15" fill="none" stroke="#000" stroke-opacity="0.58" stroke-width="1.3"/>
<circle cx="606.20" cy="1081.00" r="4.15" fill="none" stroke="#000" stroke-opacity="0.58" stroke-width="1.3"/>
<circle cx="606.20" cy="1082.30" r="4.15" fill="none" stroke="#000" stroke-opacity="0.58" stroke-width="1.3"/>
<circle cx="606.20" cy="1085.80" r="4.15" fill="none" stroke="#000" stroke-opacity="0.58" stroke-width="1.3"/>
<circle cx="606.20" cy="1088.50" r="4.15" fill="none" stroke="#000" stroke-opacity="0.58" stroke-width="1.3"/>
<circle cx="606.20" cy="1090.00" r="4.15" fill="none" stroke="#000" stroke-opacity="0.58" stroke-width="1.3"/>
<circle cx="606.20" cy="1092.00" r="4.15" fill="none" stroke="#000" stroke-opacity="0.58" stroke-width="1.3"/>
<circle cx="606.20" cy="1100.70" r="4.15" fill="none" stroke="#000" stroke-opacity="0.58" stroke-width="1.3"/>
<circle cx="606.20" cy="1102.50" r="4.15" fill="none" stroke="#000" stroke-opacity="0.58" stroke-width="1.3"/>
<circle cx="606.20" cy="1108.60" r="4.15" fill="none" stroke="#000" stroke-opacity="0.58" stroke-width="1.3"/>
<circle cx="586.00" cy="1066.60" r="5.7" fill="#000"/>
<line x1="586.00" y1="1058.20" x2="586.00" y2="1076.20" stroke="#8a8a8a" stroke-width="1.1" />
<line x1="581.60" y1="1058.20" x2="590.40" y2="1058.20" stroke="#a8a8a8" stroke-width="1.3" />
<line x1="581.60" y1="1076.20" x2="590.40" y2="1076.20" stroke="#a8a8a8" stroke-width="1.3" />
<line x1="659.30" y1="1037.30" x2="659.30" y2="1000.40" stroke="#79c551" stroke-width="1.1" stroke-dasharray="12.5 8.3"/>
<line x1="659.30" y1="1113.30" x2="659.30" y2="1071.80" stroke="#79c551" stroke-width="1.1" stroke-dasharray="12.5 8.3"/>
<line x1="651.60" y1="1000.40" x2="667.00" y2="1000.40" stroke="#79c551" stroke-width="1.1" />
<line x1="651.60" y1="1113.30" x2="667.00" y2="1113.30" stroke="#79c551" stroke-width="1.1" />
<rect x="643.70" y="1037.30" width="31.20" height="34.50" fill="none" stroke="#79c551" stroke-width="1.1"/>
<line x1="643.70" y1="1057.80" x2="674.90" y2="1057.80" stroke="#79c551" stroke-width="1.1" />
<circle cx="642.60" cy="999.70" r="4.15" fill="none" stroke="#5db52e" stroke-opacity="0.58" stroke-width="1.3"/>
<circle cx="642.60" cy="1016.60" r="4.15" fill="none" stroke="#5db52e" stroke-opacity="0.58" stroke-width="1.3"/>
<circle cx="642.60" cy="1028.90" r="4.15" fill="none" stroke="#5db52e" stroke-opacity="0.58" stroke-width="1.3"/>
<circle cx="642.60" cy="1031.50" r="4.15" fill="none" stroke="#5db52e" stroke-opacity="0.58" stroke-width="1.3"/>
<circle cx="642.60" cy="1034.20" r="4.15" fill="none" stroke="#5db52e" stroke-opacity="0.58" stroke-width="1.3"/>
<circle cx="642.60" cy="1037.70" r="4.15" fill="none" stroke="#5db52e" stroke-opacity="0.58" stroke-width="1.3"/>
<circle cx="642.60" cy="1042.00" r="4.15" fill="none" stroke="#5db52e" stroke-opacity="0.58" stroke-width="1.3"/>
<circle cx="642.60" cy="1044.70" r="4.15" fill="none" stroke="#5db52e" stroke-opacity="0.58" stroke-width="1.3"/>
<circle cx="642.60" cy="1048.00" r="4.15" fill="none" stroke="#5db52e" stroke-opacity="0.58" stroke-width="1.3"/>
<circle cx="642.60" cy="1051.70" r="4.15" fill="none" stroke="#5db52e" stroke-opacity="0.58" stroke-width="1.3"/>
<circle cx="642.60" cy="1054.00" r="4.15" fill="none" stroke="#5db52e" stroke-opacity="0.58" stroke-width="1.3"/>
<circle cx="642.60" cy="1056.10" r="4.15" fill="none" stroke="#5db52e" stroke-opacity="0.58" stroke-width="1.3"/>
<circle cx="642.60" cy="1057.80" r="4.15" fill="none" stroke="#5db52e" stroke-opacity="0.58" stroke-width="1.3"/>
<circle cx="642.60" cy="1064.80" r="4.15" fill="none" stroke="#5db52e" stroke-opacity="0.58" stroke-width="1.3"/>
<circle cx="642.60" cy="1067.40" r="4.15" fill="none" stroke="#5db52e" stroke-opacity="0.58" stroke-width="1.3"/>
<circle cx="642.60" cy="1069.20" r="4.15" fill="none" stroke="#5db52e" stroke-opacity="0.58" stroke-width="1.3"/>
<circle cx="642.60" cy="1071.00" r="4.15" fill="none" stroke="#5db52e" stroke-opacity="0.58" stroke-width="1.3"/>
<circle cx="642.60" cy="1075.30" r="4.15" fill="none" stroke="#5db52e" stroke-opacity="0.58" stroke-width="1.3"/>
<circle cx="642.60" cy="1080.60" r="4.15" fill="none" stroke="#5db52e" stroke-opacity="0.58" stroke-width="1.3"/>
<circle cx="642.60" cy="1087.60" r="4.15" fill="none" stroke="#5db52e" stroke-opacity="0.58" stroke-width="1.3"/>
<circle cx="642.60" cy="1097.20" r="4.15" fill="none" stroke="#5db52e" stroke-opacity="0.58" stroke-width="1.3"/>
<circle cx="664.00" cy="1056.10" r="5.7" fill="#4cb01a"/>
<line x1="664.00" y1="1051.20" x2="664.00" y2="1062.20" stroke="#8a8a8a" stroke-width="1.1" />
<line x1="659.60" y1="1051.20" x2="668.40" y2="1051.20" stroke="#a8a8a8" stroke-width="1.3" />
<line x1="659.60" y1="1062.20" x2="668.40" y2="1062.20" stroke="#a8a8a8" stroke-width="1.3" />
<text x="0" y="0" font-size="18.3" fill="#1e1e1e" stroke="#1e1e1e" stroke-width="0.22" transform="translate(81.90 1196.00) rotate(-44)">baseline</text>
<text x="0" y="0" font-size="18.3" fill="#1e1e1e" stroke="#1e1e1e" stroke-width="0.22" transform="translate(145.40 1186.20) rotate(-44)">10 mM</text>
<text x="0" y="0" font-size="18.3" fill="#1e1e1e" stroke="#1e1e1e" stroke-width="0.22" transform="translate(163.90 1193.50) rotate(-44)">caffeine</text>
<text x="0" y="0" font-size="18.3" fill="#1e1e1e" stroke="#1e1e1e" stroke-width="0.22" transform="translate(327.50 1196.00) rotate(-44)">baseline</text>
<text x="0" y="0" font-size="18.3" fill="#1e1e1e" stroke="#1e1e1e" stroke-width="0.22" transform="translate(391.20 1186.20) rotate(-44)">10 mM</text>
<text x="0" y="0" font-size="18.3" fill="#1e1e1e" stroke="#1e1e1e" stroke-width="0.22" transform="translate(409.70 1193.50) rotate(-44)">caffeine</text>
<text x="0" y="0" font-size="18.3" fill="#1e1e1e" stroke="#1e1e1e" stroke-width="0.22" transform="translate(553.10 1196.00) rotate(-44)">baseline</text>
<text x="0" y="0" font-size="18.3" fill="#1e1e1e" stroke="#1e1e1e" stroke-width="0.22" transform="translate(616.80 1186.20) rotate(-44)">10 mM</text>
<text x="0" y="0" font-size="18.3" fill="#1e1e1e" stroke="#1e1e1e" stroke-width="0.22" transform="translate(635.30 1193.50) rotate(-44)">caffeine</text>
</svg></body></html>
